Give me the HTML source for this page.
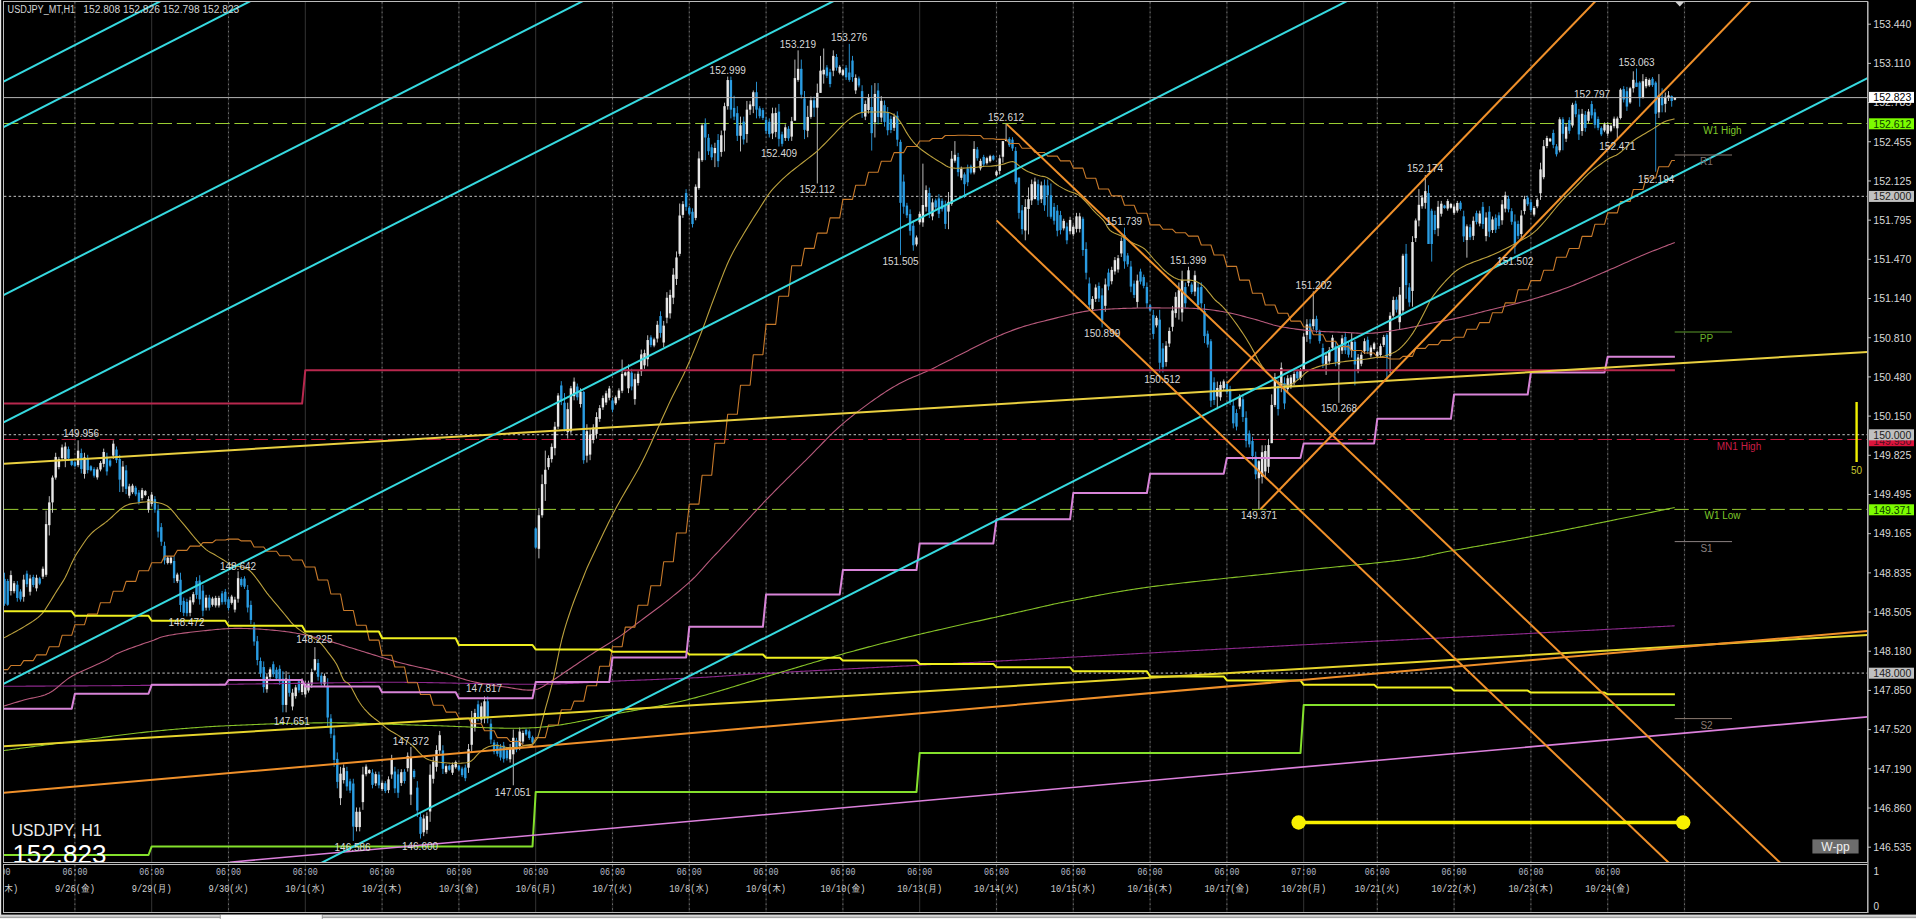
<!DOCTYPE html><html><head><meta charset="utf-8"><title>USDJPY H1</title><style>html,body{margin:0;padding:0;background:#000;overflow:hidden;width:1916px;height:919px}svg{display:block}</style></head><body><svg width="1916" height="919" viewBox="0 0 1916 919" font-family="Liberation Sans, Arial, sans-serif"><rect x="0" y="0" width="1916" height="919" fill="#000"/>
<rect x="0" y="0" width="1.2" height="919" fill="#e6e6e6"/>
<rect x="0" y="914.6" width="1916" height="5" fill="#d6d6d6"/>
<rect x="0" y="916.8" width="1916" height="1" fill="#7a7a7a"/>
<rect x="0" y="917.8" width="1916" height="2" fill="#f4f4f4"/>
<rect x="220.5" y="914.8" width="101.5" height="5" fill="#fdfdfd"/>
<rect x="219.8" y="914.8" width="0.8" height="5" fill="#909090"/>
<rect x="321.8" y="914.8" width="0.8" height="5" fill="#909090"/>
<defs><clipPath id="cc"><rect x="4" y="2" width="1863.5" height="860.5"/></clipPath><clipPath id="cs"><rect x="4" y="865" width="1863.5" height="47"/></clipPath></defs>
<line x1="74.9" y1="2" x2="74.9" y2="862" stroke="#1c1c1c" stroke-width="1.4" />
<line x1="74.9" y1="865" x2="74.9" y2="912" stroke="#1c1c1c" stroke-width="1.4" />
<line x1="74.9" y1="2" x2="74.9" y2="862" stroke="#6c6c6c" stroke-width="1" stroke-dasharray="1.6 3.2"/>
<line x1="74.9" y1="865" x2="74.9" y2="912" stroke="#6c6c6c" stroke-width="1" stroke-dasharray="1.6 3.2"/>
<line x1="151.7" y1="2" x2="151.7" y2="862" stroke="#343434" stroke-width="1" />
<line x1="151.7" y1="865" x2="151.7" y2="912" stroke="#343434" stroke-width="1" />
<line x1="228.5" y1="2" x2="228.5" y2="862" stroke="#1c1c1c" stroke-width="1.4" />
<line x1="228.5" y1="865" x2="228.5" y2="912" stroke="#1c1c1c" stroke-width="1.4" />
<line x1="228.5" y1="2" x2="228.5" y2="862" stroke="#6c6c6c" stroke-width="1" stroke-dasharray="1.6 3.2"/>
<line x1="228.5" y1="865" x2="228.5" y2="912" stroke="#6c6c6c" stroke-width="1" stroke-dasharray="1.6 3.2"/>
<line x1="305.3" y1="2" x2="305.3" y2="862" stroke="#343434" stroke-width="1" />
<line x1="305.3" y1="865" x2="305.3" y2="912" stroke="#343434" stroke-width="1" />
<line x1="382.1" y1="2" x2="382.1" y2="862" stroke="#1c1c1c" stroke-width="1.4" />
<line x1="382.1" y1="865" x2="382.1" y2="912" stroke="#1c1c1c" stroke-width="1.4" />
<line x1="382.1" y1="2" x2="382.1" y2="862" stroke="#6c6c6c" stroke-width="1" stroke-dasharray="1.6 3.2"/>
<line x1="382.1" y1="865" x2="382.1" y2="912" stroke="#6c6c6c" stroke-width="1" stroke-dasharray="1.6 3.2"/>
<line x1="458.9" y1="2" x2="458.9" y2="862" stroke="#1c1c1c" stroke-width="1.4" />
<line x1="458.9" y1="865" x2="458.9" y2="912" stroke="#1c1c1c" stroke-width="1.4" />
<line x1="458.9" y1="2" x2="458.9" y2="862" stroke="#6c6c6c" stroke-width="1" stroke-dasharray="1.6 3.2"/>
<line x1="458.9" y1="865" x2="458.9" y2="912" stroke="#6c6c6c" stroke-width="1" stroke-dasharray="1.6 3.2"/>
<line x1="535.7" y1="2" x2="535.7" y2="862" stroke="#343434" stroke-width="1" />
<line x1="535.7" y1="865" x2="535.7" y2="912" stroke="#343434" stroke-width="1" />
<line x1="612.5" y1="2" x2="612.5" y2="862" stroke="#1c1c1c" stroke-width="1.4" />
<line x1="612.5" y1="865" x2="612.5" y2="912" stroke="#1c1c1c" stroke-width="1.4" />
<line x1="612.5" y1="2" x2="612.5" y2="862" stroke="#6c6c6c" stroke-width="1" stroke-dasharray="1.6 3.2"/>
<line x1="612.5" y1="865" x2="612.5" y2="912" stroke="#6c6c6c" stroke-width="1" stroke-dasharray="1.6 3.2"/>
<line x1="689.3" y1="2" x2="689.3" y2="862" stroke="#1c1c1c" stroke-width="1.4" />
<line x1="689.3" y1="865" x2="689.3" y2="912" stroke="#1c1c1c" stroke-width="1.4" />
<line x1="689.3" y1="2" x2="689.3" y2="862" stroke="#6c6c6c" stroke-width="1" stroke-dasharray="1.6 3.2"/>
<line x1="689.3" y1="865" x2="689.3" y2="912" stroke="#6c6c6c" stroke-width="1" stroke-dasharray="1.6 3.2"/>
<line x1="766.1" y1="2" x2="766.1" y2="862" stroke="#1c1c1c" stroke-width="1.4" />
<line x1="766.1" y1="865" x2="766.1" y2="912" stroke="#1c1c1c" stroke-width="1.4" />
<line x1="766.1" y1="2" x2="766.1" y2="862" stroke="#6c6c6c" stroke-width="1" stroke-dasharray="1.6 3.2"/>
<line x1="766.1" y1="865" x2="766.1" y2="912" stroke="#6c6c6c" stroke-width="1" stroke-dasharray="1.6 3.2"/>
<line x1="842.9" y1="2" x2="842.9" y2="862" stroke="#1c1c1c" stroke-width="1.4" />
<line x1="842.9" y1="865" x2="842.9" y2="912" stroke="#1c1c1c" stroke-width="1.4" />
<line x1="842.9" y1="2" x2="842.9" y2="862" stroke="#6c6c6c" stroke-width="1" stroke-dasharray="1.6 3.2"/>
<line x1="842.9" y1="865" x2="842.9" y2="912" stroke="#6c6c6c" stroke-width="1" stroke-dasharray="1.6 3.2"/>
<line x1="919.7" y1="2" x2="919.7" y2="862" stroke="#343434" stroke-width="1" />
<line x1="919.7" y1="865" x2="919.7" y2="912" stroke="#343434" stroke-width="1" />
<line x1="996.5" y1="2" x2="996.5" y2="862" stroke="#1c1c1c" stroke-width="1.4" />
<line x1="996.5" y1="865" x2="996.5" y2="912" stroke="#1c1c1c" stroke-width="1.4" />
<line x1="996.5" y1="2" x2="996.5" y2="862" stroke="#6c6c6c" stroke-width="1" stroke-dasharray="1.6 3.2"/>
<line x1="996.5" y1="865" x2="996.5" y2="912" stroke="#6c6c6c" stroke-width="1" stroke-dasharray="1.6 3.2"/>
<line x1="1073.3" y1="2" x2="1073.3" y2="862" stroke="#1c1c1c" stroke-width="1.4" />
<line x1="1073.3" y1="865" x2="1073.3" y2="912" stroke="#1c1c1c" stroke-width="1.4" />
<line x1="1073.3" y1="2" x2="1073.3" y2="862" stroke="#6c6c6c" stroke-width="1" stroke-dasharray="1.6 3.2"/>
<line x1="1073.3" y1="865" x2="1073.3" y2="912" stroke="#6c6c6c" stroke-width="1" stroke-dasharray="1.6 3.2"/>
<line x1="1150.1" y1="2" x2="1150.1" y2="862" stroke="#1c1c1c" stroke-width="1.4" />
<line x1="1150.1" y1="865" x2="1150.1" y2="912" stroke="#1c1c1c" stroke-width="1.4" />
<line x1="1150.1" y1="2" x2="1150.1" y2="862" stroke="#6c6c6c" stroke-width="1" stroke-dasharray="1.6 3.2"/>
<line x1="1150.1" y1="865" x2="1150.1" y2="912" stroke="#6c6c6c" stroke-width="1" stroke-dasharray="1.6 3.2"/>
<line x1="1226.9" y1="2" x2="1226.9" y2="862" stroke="#1c1c1c" stroke-width="1.4" />
<line x1="1226.9" y1="865" x2="1226.9" y2="912" stroke="#1c1c1c" stroke-width="1.4" />
<line x1="1226.9" y1="2" x2="1226.9" y2="862" stroke="#6c6c6c" stroke-width="1" stroke-dasharray="1.6 3.2"/>
<line x1="1226.9" y1="865" x2="1226.9" y2="912" stroke="#6c6c6c" stroke-width="1" stroke-dasharray="1.6 3.2"/>
<line x1="1303.7" y1="2" x2="1303.7" y2="862" stroke="#343434" stroke-width="1" />
<line x1="1303.7" y1="865" x2="1303.7" y2="912" stroke="#343434" stroke-width="1" />
<line x1="1377.3" y1="2" x2="1377.3" y2="862" stroke="#1c1c1c" stroke-width="1.4" />
<line x1="1377.3" y1="865" x2="1377.3" y2="912" stroke="#1c1c1c" stroke-width="1.4" />
<line x1="1377.3" y1="2" x2="1377.3" y2="862" stroke="#6c6c6c" stroke-width="1" stroke-dasharray="1.6 3.2"/>
<line x1="1377.3" y1="865" x2="1377.3" y2="912" stroke="#6c6c6c" stroke-width="1" stroke-dasharray="1.6 3.2"/>
<line x1="1454.1" y1="2" x2="1454.1" y2="862" stroke="#1c1c1c" stroke-width="1.4" />
<line x1="1454.1" y1="865" x2="1454.1" y2="912" stroke="#1c1c1c" stroke-width="1.4" />
<line x1="1454.1" y1="2" x2="1454.1" y2="862" stroke="#6c6c6c" stroke-width="1" stroke-dasharray="1.6 3.2"/>
<line x1="1454.1" y1="865" x2="1454.1" y2="912" stroke="#6c6c6c" stroke-width="1" stroke-dasharray="1.6 3.2"/>
<line x1="1530.9" y1="2" x2="1530.9" y2="862" stroke="#1c1c1c" stroke-width="1.4" />
<line x1="1530.9" y1="865" x2="1530.9" y2="912" stroke="#1c1c1c" stroke-width="1.4" />
<line x1="1530.9" y1="2" x2="1530.9" y2="862" stroke="#6c6c6c" stroke-width="1" stroke-dasharray="1.6 3.2"/>
<line x1="1530.9" y1="865" x2="1530.9" y2="912" stroke="#6c6c6c" stroke-width="1" stroke-dasharray="1.6 3.2"/>
<line x1="1607.7" y1="2" x2="1607.7" y2="862" stroke="#1c1c1c" stroke-width="1.4" />
<line x1="1607.7" y1="865" x2="1607.7" y2="912" stroke="#1c1c1c" stroke-width="1.4" />
<line x1="1607.7" y1="2" x2="1607.7" y2="862" stroke="#6c6c6c" stroke-width="1" stroke-dasharray="1.6 3.2"/>
<line x1="1607.7" y1="865" x2="1607.7" y2="912" stroke="#6c6c6c" stroke-width="1" stroke-dasharray="1.6 3.2"/>
<line x1="1684.5" y1="2" x2="1684.5" y2="862" stroke="#1c1c1c" stroke-width="1.4" />
<line x1="1684.5" y1="865" x2="1684.5" y2="912" stroke="#1c1c1c" stroke-width="1.4" />
<line x1="1684.5" y1="2" x2="1684.5" y2="862" stroke="#6c6c6c" stroke-width="1" stroke-dasharray="1.6 3.2"/>
<line x1="1684.5" y1="865" x2="1684.5" y2="912" stroke="#6c6c6c" stroke-width="1" stroke-dasharray="1.6 3.2"/>
<line x1="4" y1="196.33" x2="1867" y2="196.33" stroke="#c4c4c4" stroke-width="1" stroke-dasharray="2.4 2.4"/>
<line x1="4" y1="434.71" x2="1867" y2="434.71" stroke="#c4c4c4" stroke-width="1" stroke-dasharray="2.4 2.4"/>
<line x1="4" y1="673.09" x2="1867" y2="673.09" stroke="#c4c4c4" stroke-width="1" stroke-dasharray="2.4 2.4"/>
<line x1="4" y1="123.5" x2="1867" y2="123.5" stroke="#9acd32" stroke-width="1" stroke-dasharray="14.4 4.8"/>
<line x1="4" y1="509.4" x2="1867" y2="509.4" stroke="#9acd32" stroke-width="1" stroke-dasharray="14.4 4.8"/>
<line x1="4" y1="439.5" x2="1867" y2="439.5" stroke="#c0183c" stroke-width="1" stroke-dasharray="14.4 4.8"/>
<g clip-path="url(#cc)"><line x1="4.5" y1="572.71" x2="4.5" y2="605.8" stroke="#2a9ce2" stroke-width="0.9"/><rect x="3.3" y="578.91" width="2.4" height="24.82" fill="#2a9ce2"/><line x1="7.7" y1="578.91" x2="7.7" y2="605.8" stroke="#2a9ce2" stroke-width="0.9"/><rect x="6.5" y="580.98" width="2.4" height="23.78" fill="#2a9ce2"/><line x1="10.9" y1="570.64" x2="10.9" y2="595.46" stroke="#cfcfcf" stroke-width="0.9"/><rect x="9.7" y="575.11" width="2.4" height="15.88" fill="#e8e8e8"/><line x1="14.1" y1="580.98" x2="14.1" y2="593.39" stroke="#cfcfcf" stroke-width="0.9"/><rect x="12.9" y="583.22" width="2.4" height="7.94" fill="#e8e8e8"/><line x1="17.3" y1="580.98" x2="17.3" y2="601.66" stroke="#2a9ce2" stroke-width="0.9"/><rect x="16.1" y="584.71" width="2.4" height="13.24" fill="#2a9ce2"/><line x1="20.5" y1="589.26" x2="20.5" y2="601.66" stroke="#2a9ce2" stroke-width="0.9"/><rect x="19.3" y="591.49" width="2.4" height="7.94" fill="#2a9ce2"/><line x1="23.7" y1="574.78" x2="23.7" y2="601.66" stroke="#cfcfcf" stroke-width="0.9"/><rect x="22.5" y="579.62" width="2.4" height="17.21" fill="#e8e8e8"/><line x1="26.9" y1="570.64" x2="26.9" y2="587.19" stroke="#2a9ce2" stroke-width="0.9"/><rect x="25.7" y="573.62" width="2.4" height="10.59" fill="#2a9ce2"/><line x1="30.1" y1="574.78" x2="30.1" y2="595.46" stroke="#cfcfcf" stroke-width="0.9"/><rect x="28.9" y="578.5" width="2.4" height="13.24" fill="#e8e8e8"/><line x1="33.3" y1="574.78" x2="33.3" y2="587.19" stroke="#2a9ce2" stroke-width="0.9"/><rect x="32.1" y="577.01" width="2.4" height="7.94" fill="#2a9ce2"/><line x1="36.5" y1="574.78" x2="36.5" y2="591.32" stroke="#cfcfcf" stroke-width="0.9"/><rect x="35.3" y="577.76" width="2.4" height="10.59" fill="#e8e8e8"/><line x1="39.7" y1="576.85" x2="39.7" y2="585.12" stroke="#2a9ce2" stroke-width="0.9"/><rect x="38.5" y="578.34" width="2.4" height="5.29" fill="#2a9ce2"/><line x1="42.9" y1="566.5" x2="42.9" y2="578.91" stroke="#cfcfcf" stroke-width="0.9"/><rect x="41.7" y="568.74" width="2.4" height="7.94" fill="#e8e8e8"/><line x1="46.1" y1="510.66" x2="46.1" y2="576.85" stroke="#cfcfcf" stroke-width="0.9"/><rect x="44.9" y="524.11" width="2.4" height="50.67" fill="#e8e8e8"/><line x1="49.3" y1="496.18" x2="49.3" y2="535.48" stroke="#cfcfcf" stroke-width="0.9"/><rect x="48.1" y="502.39" width="2.4" height="22.75" fill="#e8e8e8"/><line x1="52.5" y1="475.5" x2="52.5" y2="512.73" stroke="#cfcfcf" stroke-width="0.9"/><rect x="51.3" y="477.57" width="2.4" height="24.82" fill="#e8e8e8"/><line x1="55.7" y1="452.75" x2="55.7" y2="479.64" stroke="#cfcfcf" stroke-width="0.9"/><rect x="54.5" y="456.89" width="2.4" height="20.68" fill="#e8e8e8"/><line x1="58.9" y1="456.89" x2="58.9" y2="469.3" stroke="#cfcfcf" stroke-width="0.9"/><rect x="57.7" y="459.12" width="2.4" height="7.94" fill="#e8e8e8"/><line x1="62.1" y1="444.48" x2="62.1" y2="461.02" stroke="#cfcfcf" stroke-width="0.9"/><rect x="60.9" y="447.46" width="2.4" height="10.59" fill="#e8e8e8"/><line x1="65.3" y1="442.41" x2="65.3" y2="467.23" stroke="#cfcfcf" stroke-width="0.9"/><rect x="64.1" y="446.55" width="2.4" height="12.41" fill="#e8e8e8"/><line x1="68.5" y1="446.55" x2="68.5" y2="461.02" stroke="#2a9ce2" stroke-width="0.9"/><rect x="67.3" y="449.15" width="2.4" height="9.27" fill="#2a9ce2"/><line x1="71.7" y1="458.96" x2="71.7" y2="466.19" stroke="#2a9ce2" stroke-width="0.9"/><rect x="70.5" y="460.26" width="2.4" height="4.63" fill="#2a9ce2"/><line x1="74.9" y1="461.02" x2="74.9" y2="467.23" stroke="#2a9ce2" stroke-width="0.9"/><rect x="73.7" y="462.14" width="2.4" height="3.97" fill="#2a9ce2"/><line x1="78.1" y1="440.34" x2="78.1" y2="467.23" stroke="#cfcfcf" stroke-width="0.9"/><rect x="76.9" y="450.68" width="2.4" height="14.48" fill="#e8e8e8"/><line x1="81.3" y1="448.61" x2="81.3" y2="473.43" stroke="#2a9ce2" stroke-width="0.9"/><rect x="80.1" y="453.08" width="2.4" height="15.88" fill="#2a9ce2"/><line x1="84.5" y1="452.75" x2="84.5" y2="478.6" stroke="#cfcfcf" stroke-width="0.9"/><rect x="83.3" y="457.4" width="2.4" height="16.55" fill="#e8e8e8"/><line x1="87.7" y1="454.82" x2="87.7" y2="473.43" stroke="#2a9ce2" stroke-width="0.9"/><rect x="86.5" y="458.17" width="2.4" height="11.91" fill="#2a9ce2"/><line x1="90.9" y1="465.16" x2="90.9" y2="471.37" stroke="#2a9ce2" stroke-width="0.9"/><rect x="89.7" y="466.28" width="2.4" height="3.97" fill="#2a9ce2"/><line x1="94.1" y1="467.23" x2="94.1" y2="477.57" stroke="#2a9ce2" stroke-width="0.9"/><rect x="92.9" y="469.09" width="2.4" height="6.62" fill="#2a9ce2"/><line x1="97.3" y1="467.23" x2="97.3" y2="479.64" stroke="#cfcfcf" stroke-width="0.9"/><rect x="96.1" y="469.46" width="2.4" height="7.94" fill="#e8e8e8"/><line x1="100.5" y1="461.02" x2="100.5" y2="471.37" stroke="#cfcfcf" stroke-width="0.9"/><rect x="99.3" y="462.89" width="2.4" height="6.62" fill="#e8e8e8"/><line x1="103.7" y1="448.61" x2="103.7" y2="467.23" stroke="#cfcfcf" stroke-width="0.9"/><rect x="102.5" y="451.96" width="2.4" height="11.91" fill="#e8e8e8"/><line x1="106.9" y1="452.75" x2="106.9" y2="475.5" stroke="#2a9ce2" stroke-width="0.9"/><rect x="105.7" y="456.85" width="2.4" height="14.56" fill="#2a9ce2"/><line x1="110.1" y1="458.96" x2="110.1" y2="467.23" stroke="#2a9ce2" stroke-width="0.9"/><rect x="108.9" y="460.44" width="2.4" height="5.29" fill="#2a9ce2"/><line x1="113.3" y1="440.34" x2="113.3" y2="458.96" stroke="#cfcfcf" stroke-width="0.9"/><rect x="112.1" y="443.69" width="2.4" height="11.91" fill="#e8e8e8"/><line x1="116.5" y1="446.55" x2="116.5" y2="463.09" stroke="#2a9ce2" stroke-width="0.9"/><rect x="115.3" y="449.52" width="2.4" height="10.59" fill="#2a9ce2"/><line x1="119.7" y1="454.82" x2="119.7" y2="492.05" stroke="#2a9ce2" stroke-width="0.9"/><rect x="118.5" y="458.96" width="2.4" height="20.68" fill="#2a9ce2"/><line x1="122.9" y1="461.02" x2="122.9" y2="492.05" stroke="#cfcfcf" stroke-width="0.9"/><rect x="121.7" y="466.61" width="2.4" height="19.86" fill="#e8e8e8"/><line x1="126.1" y1="465.16" x2="126.1" y2="494.12" stroke="#2a9ce2" stroke-width="0.9"/><rect x="124.9" y="470.37" width="2.4" height="18.53" fill="#2a9ce2"/><line x1="129.3" y1="483.77" x2="129.3" y2="498.25" stroke="#cfcfcf" stroke-width="0.9"/><rect x="128.1" y="486.38" width="2.4" height="9.27" fill="#e8e8e8"/><line x1="132.5" y1="483.77" x2="132.5" y2="494.12" stroke="#cfcfcf" stroke-width="0.9"/><rect x="131.3" y="485.64" width="2.4" height="6.62" fill="#e8e8e8"/><line x1="135.7" y1="485.84" x2="135.7" y2="496.18" stroke="#2a9ce2" stroke-width="0.9"/><rect x="134.5" y="487.7" width="2.4" height="6.62" fill="#2a9ce2"/><line x1="138.9" y1="489.98" x2="138.9" y2="504.46" stroke="#2a9ce2" stroke-width="0.9"/><rect x="137.7" y="492.59" width="2.4" height="9.27" fill="#2a9ce2"/><line x1="142.1" y1="487.91" x2="142.1" y2="500.32" stroke="#cfcfcf" stroke-width="0.9"/><rect x="140.9" y="490.14" width="2.4" height="7.94" fill="#e8e8e8"/><line x1="145.3" y1="489.98" x2="145.3" y2="496.18" stroke="#cfcfcf" stroke-width="0.9"/><rect x="144.1" y="491.1" width="2.4" height="3.97" fill="#e8e8e8"/><line x1="148.5" y1="496.18" x2="148.5" y2="512.73" stroke="#cfcfcf" stroke-width="0.9"/><rect x="147.3" y="499.16" width="2.4" height="10.59" fill="#e8e8e8"/><line x1="151.7" y1="492.05" x2="151.7" y2="506.53" stroke="#cfcfcf" stroke-width="0.9"/><rect x="150.5" y="494.65" width="2.4" height="9.27" fill="#e8e8e8"/><line x1="154.9" y1="496.18" x2="154.9" y2="512.73" stroke="#2a9ce2" stroke-width="0.9"/><rect x="153.7" y="499.16" width="2.4" height="10.59" fill="#2a9ce2"/><line x1="158.1" y1="504.46" x2="158.1" y2="537.55" stroke="#2a9ce2" stroke-width="0.9"/><rect x="156.9" y="510.41" width="2.4" height="21.18" fill="#2a9ce2"/><line x1="161.3" y1="523.07" x2="161.3" y2="545.82" stroke="#2a9ce2" stroke-width="0.9"/><rect x="160.1" y="527.17" width="2.4" height="14.56" fill="#2a9ce2"/><line x1="164.5" y1="541.69" x2="164.5" y2="564.44" stroke="#2a9ce2" stroke-width="0.9"/><rect x="163.3" y="545.78" width="2.4" height="14.56" fill="#2a9ce2"/><line x1="167.7" y1="556.16" x2="167.7" y2="564.44" stroke="#cfcfcf" stroke-width="0.9"/><rect x="166.5" y="557.65" width="2.4" height="5.29" fill="#e8e8e8"/><line x1="170.9" y1="556.16" x2="170.9" y2="564.44" stroke="#cfcfcf" stroke-width="0.9"/><rect x="169.7" y="557.65" width="2.4" height="5.29" fill="#e8e8e8"/><line x1="174.1" y1="556.16" x2="174.1" y2="583.05" stroke="#2a9ce2" stroke-width="0.9"/><rect x="172.9" y="561" width="2.4" height="17.21" fill="#2a9ce2"/><line x1="177.3" y1="572.71" x2="177.3" y2="583.05" stroke="#cfcfcf" stroke-width="0.9"/><rect x="176.1" y="574.57" width="2.4" height="6.62" fill="#e8e8e8"/><line x1="180.5" y1="572.71" x2="180.5" y2="612.01" stroke="#2a9ce2" stroke-width="0.9"/><rect x="179.3" y="579.78" width="2.4" height="25.15" fill="#2a9ce2"/><line x1="183.7" y1="597.53" x2="183.7" y2="616.14" stroke="#2a9ce2" stroke-width="0.9"/><rect x="182.5" y="600.88" width="2.4" height="11.91" fill="#2a9ce2"/><line x1="186.9" y1="598.74" x2="186.9" y2="616.37" stroke="#2a9ce2" stroke-width="0.9"/><rect x="185.7" y="601.92" width="2.4" height="11.28" fill="#2a9ce2"/><line x1="190.1" y1="596.78" x2="190.1" y2="616.37" stroke="#cfcfcf" stroke-width="0.9"/><rect x="188.9" y="600.31" width="2.4" height="12.53" fill="#e8e8e8"/><line x1="193.3" y1="591.89" x2="193.3" y2="604.62" stroke="#cfcfcf" stroke-width="0.9"/><rect x="192.1" y="594.18" width="2.4" height="8.15" fill="#e8e8e8"/><line x1="196.5" y1="577.2" x2="196.5" y2="598.74" stroke="#2a9ce2" stroke-width="0.9"/><rect x="195.3" y="581.08" width="2.4" height="13.79" fill="#2a9ce2"/><line x1="199.7" y1="575.25" x2="199.7" y2="604.62" stroke="#2a9ce2" stroke-width="0.9"/><rect x="198.5" y="580.53" width="2.4" height="18.8" fill="#2a9ce2"/><line x1="202.9" y1="585.04" x2="202.9" y2="616.37" stroke="#2a9ce2" stroke-width="0.9"/><rect x="201.7" y="590.68" width="2.4" height="20.05" fill="#2a9ce2"/><line x1="206.1" y1="594.83" x2="206.1" y2="610.49" stroke="#cfcfcf" stroke-width="0.9"/><rect x="204.9" y="597.65" width="2.4" height="10.03" fill="#e8e8e8"/><line x1="209.3" y1="594.83" x2="209.3" y2="610.49" stroke="#2a9ce2" stroke-width="0.9"/><rect x="208.1" y="597.65" width="2.4" height="10.03" fill="#2a9ce2"/><line x1="212.5" y1="596.78" x2="212.5" y2="606.58" stroke="#cfcfcf" stroke-width="0.9"/><rect x="211.3" y="598.55" width="2.4" height="6.27" fill="#e8e8e8"/><line x1="215.7" y1="595.81" x2="215.7" y2="607.55" stroke="#cfcfcf" stroke-width="0.9"/><rect x="214.5" y="597.92" width="2.4" height="7.52" fill="#e8e8e8"/><line x1="218.9" y1="595.81" x2="218.9" y2="607.55" stroke="#cfcfcf" stroke-width="0.9"/><rect x="217.7" y="597.92" width="2.4" height="7.52" fill="#e8e8e8"/><line x1="222.1" y1="590.91" x2="222.1" y2="604.62" stroke="#2a9ce2" stroke-width="0.9"/><rect x="220.9" y="593.38" width="2.4" height="8.77" fill="#2a9ce2"/><line x1="225.3" y1="588.95" x2="225.3" y2="604.62" stroke="#2a9ce2" stroke-width="0.9"/><rect x="224.1" y="591.77" width="2.4" height="10.03" fill="#2a9ce2"/><line x1="228.5" y1="596.78" x2="228.5" y2="610.49" stroke="#2a9ce2" stroke-width="0.9"/><rect x="227.3" y="599.25" width="2.4" height="8.77" fill="#2a9ce2"/><line x1="231.7" y1="594.83" x2="231.7" y2="604.62" stroke="#cfcfcf" stroke-width="0.9"/><rect x="230.5" y="596.59" width="2.4" height="6.27" fill="#e8e8e8"/><line x1="234.9" y1="596.78" x2="234.9" y2="612.45" stroke="#cfcfcf" stroke-width="0.9"/><rect x="233.7" y="599.6" width="2.4" height="10.03" fill="#e8e8e8"/><line x1="238.1" y1="571.33" x2="238.1" y2="602.66" stroke="#cfcfcf" stroke-width="0.9"/><rect x="236.9" y="578.18" width="2.4" height="20.56" fill="#e8e8e8"/><line x1="241.3" y1="577.2" x2="241.3" y2="586.99" stroke="#2a9ce2" stroke-width="0.9"/><rect x="240.1" y="578.97" width="2.4" height="6.27" fill="#2a9ce2"/><line x1="244.5" y1="576.22" x2="244.5" y2="588.95" stroke="#2a9ce2" stroke-width="0.9"/><rect x="243.3" y="578.52" width="2.4" height="8.15" fill="#2a9ce2"/><line x1="247.7" y1="585.04" x2="247.7" y2="612.45" stroke="#2a9ce2" stroke-width="0.9"/><rect x="246.5" y="589.97" width="2.4" height="17.54" fill="#2a9ce2"/><line x1="250.9" y1="600.7" x2="250.9" y2="624.2" stroke="#2a9ce2" stroke-width="0.9"/><rect x="249.7" y="604.93" width="2.4" height="15.04" fill="#2a9ce2"/><line x1="254.1" y1="622.24" x2="254.1" y2="645.74" stroke="#2a9ce2" stroke-width="0.9"/><rect x="252.9" y="626.47" width="2.4" height="15.04" fill="#2a9ce2"/><line x1="257.3" y1="635.95" x2="257.3" y2="665.32" stroke="#2a9ce2" stroke-width="0.9"/><rect x="256.1" y="641.23" width="2.4" height="18.8" fill="#2a9ce2"/><line x1="260.5" y1="657.49" x2="260.5" y2="677.07" stroke="#2a9ce2" stroke-width="0.9"/><rect x="259.3" y="661.01" width="2.4" height="12.53" fill="#2a9ce2"/><line x1="263.7" y1="661.4" x2="263.7" y2="692.73" stroke="#2a9ce2" stroke-width="0.9"/><rect x="262.5" y="667.04" width="2.4" height="20.05" fill="#2a9ce2"/><line x1="266.9" y1="673.15" x2="266.9" y2="692.73" stroke="#cfcfcf" stroke-width="0.9"/><rect x="265.7" y="676.68" width="2.4" height="12.53" fill="#e8e8e8"/><line x1="270.1" y1="667.28" x2="270.1" y2="679.02" stroke="#cfcfcf" stroke-width="0.9"/><rect x="268.9" y="669.39" width="2.4" height="7.52" fill="#e8e8e8"/><line x1="273.3" y1="661.4" x2="273.3" y2="677.07" stroke="#2a9ce2" stroke-width="0.9"/><rect x="272.1" y="664.22" width="2.4" height="10.03" fill="#2a9ce2"/><line x1="276.5" y1="667.28" x2="276.5" y2="680.98" stroke="#2a9ce2" stroke-width="0.9"/><rect x="275.3" y="669.74" width="2.4" height="8.77" fill="#2a9ce2"/><line x1="279.7" y1="665.32" x2="279.7" y2="684.9" stroke="#2a9ce2" stroke-width="0.9"/><rect x="278.5" y="668.84" width="2.4" height="12.53" fill="#2a9ce2"/><line x1="282.9" y1="671.19" x2="282.9" y2="712.31" stroke="#2a9ce2" stroke-width="0.9"/><rect x="281.7" y="678.59" width="2.4" height="26.32" fill="#2a9ce2"/><line x1="286.1" y1="671.19" x2="286.1" y2="712.31" stroke="#cfcfcf" stroke-width="0.9"/><rect x="284.9" y="678.59" width="2.4" height="26.32" fill="#e8e8e8"/><line x1="289.3" y1="675.11" x2="289.3" y2="696.65" stroke="#2a9ce2" stroke-width="0.9"/><rect x="288.1" y="678.99" width="2.4" height="13.79" fill="#2a9ce2"/><line x1="292.5" y1="688.82" x2="292.5" y2="710.35" stroke="#cfcfcf" stroke-width="0.9"/><rect x="291.3" y="692.69" width="2.4" height="13.79" fill="#e8e8e8"/><line x1="295.7" y1="684.9" x2="295.7" y2="698.61" stroke="#cfcfcf" stroke-width="0.9"/><rect x="294.5" y="687.37" width="2.4" height="8.77" fill="#e8e8e8"/><line x1="298.9" y1="679.02" x2="298.9" y2="692.73" stroke="#2a9ce2" stroke-width="0.9"/><rect x="297.7" y="681.49" width="2.4" height="8.77" fill="#2a9ce2"/><line x1="302.1" y1="678.28" x2="302.1" y2="695.02" stroke="#cfcfcf" stroke-width="0.9"/><rect x="300.9" y="681.29" width="2.4" height="10.72" fill="#e8e8e8"/><line x1="305.3" y1="680.67" x2="305.3" y2="697.42" stroke="#cfcfcf" stroke-width="0.9"/><rect x="304.1" y="683.68" width="2.4" height="10.72" fill="#e8e8e8"/><line x1="308.5" y1="680.67" x2="308.5" y2="692.63" stroke="#cfcfcf" stroke-width="0.9"/><rect x="307.3" y="682.82" width="2.4" height="7.66" fill="#e8e8e8"/><line x1="311.7" y1="668.71" x2="311.7" y2="687.85" stroke="#cfcfcf" stroke-width="0.9"/><rect x="310.5" y="672.15" width="2.4" height="12.25" fill="#e8e8e8"/><line x1="314.9" y1="647.18" x2="314.9" y2="671.1" stroke="#cfcfcf" stroke-width="0.9"/><rect x="313.7" y="659.14" width="2.4" height="10.77" fill="#e8e8e8"/><line x1="318.1" y1="659.14" x2="318.1" y2="680.67" stroke="#2a9ce2" stroke-width="0.9"/><rect x="316.9" y="663.01" width="2.4" height="13.78" fill="#2a9ce2"/><line x1="321.3" y1="673.49" x2="321.3" y2="685.45" stroke="#2a9ce2" stroke-width="0.9"/><rect x="320.1" y="675.65" width="2.4" height="7.66" fill="#2a9ce2"/><line x1="324.5" y1="673.49" x2="324.5" y2="686.65" stroke="#cfcfcf" stroke-width="0.9"/><rect x="323.3" y="675.86" width="2.4" height="8.42" fill="#e8e8e8"/><line x1="327.7" y1="678.28" x2="327.7" y2="726.12" stroke="#2a9ce2" stroke-width="0.9"/><rect x="326.5" y="686.89" width="2.4" height="30.62" fill="#2a9ce2"/><line x1="330.9" y1="714.16" x2="330.9" y2="738.09" stroke="#2a9ce2" stroke-width="0.9"/><rect x="329.7" y="718.47" width="2.4" height="15.31" fill="#2a9ce2"/><line x1="334.1" y1="728.52" x2="334.1" y2="766.79" stroke="#2a9ce2" stroke-width="0.9"/><rect x="332.9" y="735.41" width="2.4" height="24.5" fill="#2a9ce2"/><line x1="337.3" y1="752.44" x2="337.3" y2="788.33" stroke="#2a9ce2" stroke-width="0.9"/><rect x="336.1" y="758.9" width="2.4" height="22.97" fill="#2a9ce2"/><line x1="340.5" y1="766.79" x2="340.5" y2="805.07" stroke="#cfcfcf" stroke-width="0.9"/><rect x="339.3" y="773.68" width="2.4" height="24.5" fill="#e8e8e8"/><line x1="343.7" y1="764.4" x2="343.7" y2="783.54" stroke="#cfcfcf" stroke-width="0.9"/><rect x="342.5" y="767.85" width="2.4" height="12.25" fill="#e8e8e8"/><line x1="346.9" y1="766.79" x2="346.9" y2="790.72" stroke="#2a9ce2" stroke-width="0.9"/><rect x="345.7" y="771.1" width="2.4" height="15.31" fill="#2a9ce2"/><line x1="350.1" y1="778.76" x2="350.1" y2="793.11" stroke="#2a9ce2" stroke-width="0.9"/><rect x="348.9" y="781.34" width="2.4" height="9.19" fill="#2a9ce2"/><line x1="353.3" y1="778.76" x2="353.3" y2="840.96" stroke="#2a9ce2" stroke-width="0.9"/><rect x="352.1" y="783.54" width="2.4" height="43.06" fill="#2a9ce2"/><line x1="356.5" y1="807.46" x2="356.5" y2="831.39" stroke="#cfcfcf" stroke-width="0.9"/><rect x="355.3" y="811.77" width="2.4" height="15.31" fill="#e8e8e8"/><line x1="359.7" y1="807.46" x2="359.7" y2="831.39" stroke="#cfcfcf" stroke-width="0.9"/><rect x="358.5" y="811.77" width="2.4" height="15.31" fill="#e8e8e8"/><line x1="362.9" y1="766.79" x2="362.9" y2="809.86" stroke="#cfcfcf" stroke-width="0.9"/><rect x="361.7" y="774.55" width="2.4" height="27.56" fill="#e8e8e8"/><line x1="366.1" y1="764.4" x2="366.1" y2="776.36" stroke="#cfcfcf" stroke-width="0.9"/><rect x="364.9" y="766.56" width="2.4" height="7.66" fill="#e8e8e8"/><line x1="369.3" y1="769.19" x2="369.3" y2="773.97" stroke="#cfcfcf" stroke-width="0.9"/><rect x="368.1" y="770.05" width="2.4" height="3.06" fill="#e8e8e8"/><line x1="372.5" y1="769.19" x2="372.5" y2="788.33" stroke="#2a9ce2" stroke-width="0.9"/><rect x="371.3" y="772.63" width="2.4" height="12.25" fill="#2a9ce2"/><line x1="375.7" y1="771.58" x2="375.7" y2="785.93" stroke="#cfcfcf" stroke-width="0.9"/><rect x="374.5" y="774.16" width="2.4" height="9.19" fill="#e8e8e8"/><line x1="378.9" y1="771.58" x2="378.9" y2="788.33" stroke="#2a9ce2" stroke-width="0.9"/><rect x="377.7" y="774.59" width="2.4" height="10.72" fill="#2a9ce2"/><line x1="382.1" y1="781.15" x2="382.1" y2="790.72" stroke="#cfcfcf" stroke-width="0.9"/><rect x="380.9" y="782.87" width="2.4" height="6.12" fill="#e8e8e8"/><line x1="385.3" y1="781.15" x2="385.3" y2="793.11" stroke="#2a9ce2" stroke-width="0.9"/><rect x="384.1" y="783.3" width="2.4" height="7.66" fill="#2a9ce2"/><line x1="388.5" y1="776.36" x2="388.5" y2="793.11" stroke="#cfcfcf" stroke-width="0.9"/><rect x="387.3" y="779.38" width="2.4" height="10.72" fill="#e8e8e8"/><line x1="391.7" y1="754.83" x2="391.7" y2="778.76" stroke="#cfcfcf" stroke-width="0.9"/><rect x="390.5" y="759.14" width="2.4" height="15.31" fill="#e8e8e8"/><line x1="394.9" y1="766.79" x2="394.9" y2="793.11" stroke="#2a9ce2" stroke-width="0.9"/><rect x="393.7" y="771.53" width="2.4" height="16.84" fill="#2a9ce2"/><line x1="398.1" y1="769.19" x2="398.1" y2="797.89" stroke="#2a9ce2" stroke-width="0.9"/><rect x="396.9" y="774.35" width="2.4" height="18.37" fill="#2a9ce2"/><line x1="401.3" y1="769.19" x2="401.3" y2="785.93" stroke="#cfcfcf" stroke-width="0.9"/><rect x="400.1" y="772.2" width="2.4" height="10.72" fill="#e8e8e8"/><line x1="404.5" y1="769.19" x2="404.5" y2="783.54" stroke="#2a9ce2" stroke-width="0.9"/><rect x="403.3" y="771.77" width="2.4" height="9.19" fill="#2a9ce2"/><line x1="407.7" y1="752.44" x2="407.7" y2="771.58" stroke="#cfcfcf" stroke-width="0.9"/><rect x="406.5" y="755.89" width="2.4" height="12.25" fill="#e8e8e8"/><line x1="410.9" y1="746.94" x2="410.9" y2="805.07" stroke="#cfcfcf" stroke-width="0.9"/><rect x="409.7" y="757.4" width="2.4" height="37.21" fill="#e8e8e8"/><line x1="414.1" y1="769.19" x2="414.1" y2="778.76" stroke="#2a9ce2" stroke-width="0.9"/><rect x="412.9" y="770.91" width="2.4" height="6.12" fill="#2a9ce2"/><line x1="417.3" y1="781.15" x2="417.3" y2="817.03" stroke="#2a9ce2" stroke-width="0.9"/><rect x="416.1" y="787.61" width="2.4" height="22.97" fill="#2a9ce2"/><line x1="420.5" y1="812.25" x2="420.5" y2="838.56" stroke="#2a9ce2" stroke-width="0.9"/><rect x="419.3" y="816.99" width="2.4" height="16.84" fill="#2a9ce2"/><line x1="423.7" y1="814.64" x2="423.7" y2="836.17" stroke="#cfcfcf" stroke-width="0.9"/><rect x="422.5" y="818.52" width="2.4" height="13.78" fill="#e8e8e8"/><line x1="426.9" y1="812.25" x2="426.9" y2="833.78" stroke="#cfcfcf" stroke-width="0.9"/><rect x="425.7" y="816.12" width="2.4" height="13.78" fill="#e8e8e8"/><line x1="430.1" y1="764.4" x2="430.1" y2="821.82" stroke="#cfcfcf" stroke-width="0.9"/><rect x="428.9" y="774.74" width="2.4" height="36.75" fill="#e8e8e8"/><line x1="433.3" y1="757.22" x2="433.3" y2="783.54" stroke="#cfcfcf" stroke-width="0.9"/><rect x="432.1" y="761.96" width="2.4" height="16.84" fill="#e8e8e8"/><line x1="436.5" y1="745.26" x2="436.5" y2="771.58" stroke="#cfcfcf" stroke-width="0.9"/><rect x="435.3" y="750" width="2.4" height="16.84" fill="#e8e8e8"/><line x1="439.7" y1="730.91" x2="439.7" y2="754.83" stroke="#cfcfcf" stroke-width="0.9"/><rect x="438.5" y="735.22" width="2.4" height="15.31" fill="#e8e8e8"/><line x1="442.9" y1="745.26" x2="442.9" y2="773.97" stroke="#2a9ce2" stroke-width="0.9"/><rect x="441.7" y="750.43" width="2.4" height="18.37" fill="#2a9ce2"/><line x1="446.1" y1="764.4" x2="446.1" y2="773.97" stroke="#cfcfcf" stroke-width="0.9"/><rect x="444.9" y="766.12" width="2.4" height="6.12" fill="#e8e8e8"/><line x1="449.3" y1="764.63" x2="449.3" y2="770.83" stroke="#2a9ce2" stroke-width="0.9"/><rect x="448.1" y="765.74" width="2.4" height="3.97" fill="#2a9ce2"/><line x1="452.5" y1="762.56" x2="452.5" y2="774.96" stroke="#cfcfcf" stroke-width="0.9"/><rect x="451.3" y="764.79" width="2.4" height="7.93" fill="#e8e8e8"/><line x1="455.7" y1="760.5" x2="455.7" y2="768.76" stroke="#cfcfcf" stroke-width="0.9"/><rect x="454.5" y="761.98" width="2.4" height="5.29" fill="#e8e8e8"/><line x1="458.9" y1="764.63" x2="458.9" y2="770.83" stroke="#2a9ce2" stroke-width="0.9"/><rect x="457.7" y="765.74" width="2.4" height="3.97" fill="#2a9ce2"/><line x1="462.1" y1="766.69" x2="462.1" y2="777.02" stroke="#2a9ce2" stroke-width="0.9"/><rect x="460.9" y="768.55" width="2.4" height="6.61" fill="#2a9ce2"/><line x1="465.3" y1="764.63" x2="465.3" y2="781.16" stroke="#2a9ce2" stroke-width="0.9"/><rect x="464.1" y="767.6" width="2.4" height="10.58" fill="#2a9ce2"/><line x1="468.5" y1="743.97" x2="468.5" y2="772.89" stroke="#cfcfcf" stroke-width="0.9"/><rect x="467.3" y="749.17" width="2.4" height="18.51" fill="#e8e8e8"/><line x1="471.7" y1="710.91" x2="471.7" y2="752.23" stroke="#cfcfcf" stroke-width="0.9"/><rect x="470.5" y="718.35" width="2.4" height="26.45" fill="#e8e8e8"/><line x1="474.9" y1="708.84" x2="474.9" y2="731.57" stroke="#cfcfcf" stroke-width="0.9"/><rect x="473.7" y="712.93" width="2.4" height="14.55" fill="#e8e8e8"/><line x1="478.1" y1="700.58" x2="478.1" y2="721.24" stroke="#2a9ce2" stroke-width="0.9"/><rect x="476.9" y="704.3" width="2.4" height="13.22" fill="#2a9ce2"/><line x1="481.3" y1="702.64" x2="481.3" y2="723.31" stroke="#cfcfcf" stroke-width="0.9"/><rect x="480.1" y="706.36" width="2.4" height="13.22" fill="#e8e8e8"/><line x1="484.5" y1="696.45" x2="484.5" y2="723.31" stroke="#cfcfcf" stroke-width="0.9"/><rect x="483.3" y="701.28" width="2.4" height="17.19" fill="#e8e8e8"/><line x1="487.7" y1="696.45" x2="487.7" y2="723.31" stroke="#2a9ce2" stroke-width="0.9"/><rect x="486.5" y="701.28" width="2.4" height="17.19" fill="#2a9ce2"/><line x1="490.9" y1="719.17" x2="490.9" y2="743.97" stroke="#2a9ce2" stroke-width="0.9"/><rect x="489.7" y="723.64" width="2.4" height="15.87" fill="#2a9ce2"/><line x1="494.1" y1="739.83" x2="494.1" y2="754.3" stroke="#2a9ce2" stroke-width="0.9"/><rect x="492.9" y="742.44" width="2.4" height="9.26" fill="#2a9ce2"/><line x1="497.3" y1="741.9" x2="497.3" y2="756.36" stroke="#2a9ce2" stroke-width="0.9"/><rect x="496.1" y="744.5" width="2.4" height="9.26" fill="#2a9ce2"/><line x1="500.5" y1="743.97" x2="500.5" y2="760.5" stroke="#2a9ce2" stroke-width="0.9"/><rect x="499.3" y="746.94" width="2.4" height="10.58" fill="#2a9ce2"/><line x1="503.7" y1="741.9" x2="503.7" y2="762.56" stroke="#2a9ce2" stroke-width="0.9"/><rect x="502.5" y="745.62" width="2.4" height="13.22" fill="#2a9ce2"/><line x1="506.9" y1="748.1" x2="506.9" y2="760.5" stroke="#2a9ce2" stroke-width="0.9"/><rect x="505.7" y="750.33" width="2.4" height="7.93" fill="#2a9ce2"/><line x1="510.1" y1="743.97" x2="510.1" y2="762.56" stroke="#cfcfcf" stroke-width="0.9"/><rect x="508.9" y="747.31" width="2.4" height="11.9" fill="#e8e8e8"/><line x1="513.3" y1="729.5" x2="513.3" y2="785.29" stroke="#cfcfcf" stroke-width="0.9"/><rect x="512.1" y="737.77" width="2.4" height="16.53" fill="#e8e8e8"/><line x1="516.5" y1="737.77" x2="516.5" y2="752.23" stroke="#2a9ce2" stroke-width="0.9"/><rect x="515.3" y="740.37" width="2.4" height="9.26" fill="#2a9ce2"/><line x1="519.7" y1="727.44" x2="519.7" y2="750.17" stroke="#cfcfcf" stroke-width="0.9"/><rect x="518.5" y="731.53" width="2.4" height="14.55" fill="#e8e8e8"/><line x1="522.9" y1="730.54" x2="522.9" y2="743.97" stroke="#cfcfcf" stroke-width="0.9"/><rect x="521.7" y="732.95" width="2.4" height="8.6" fill="#e8e8e8"/><line x1="526.1" y1="728.47" x2="526.1" y2="735.7" stroke="#2a9ce2" stroke-width="0.9"/><rect x="524.9" y="729.77" width="2.4" height="4.63" fill="#2a9ce2"/><line x1="529.3" y1="729.5" x2="529.3" y2="739.83" stroke="#2a9ce2" stroke-width="0.9"/><rect x="528.1" y="731.36" width="2.4" height="6.61" fill="#2a9ce2"/><line x1="532.5" y1="735.7" x2="532.5" y2="743.97" stroke="#2a9ce2" stroke-width="0.9"/><rect x="531.3" y="737.19" width="2.4" height="5.29" fill="#2a9ce2"/><line x1="535.7" y1="527.25" x2="535.7" y2="548.8" stroke="#2a9ce2" stroke-width="0.9"/><rect x="534.5" y="528.44" width="2.4" height="19.16" fill="#2a9ce2"/><line x1="538.9" y1="508.08" x2="538.9" y2="558.38" stroke="#cfcfcf" stroke-width="0.9"/><rect x="537.7" y="515.27" width="2.4" height="33.53" fill="#e8e8e8"/><line x1="542.1" y1="474.55" x2="542.1" y2="517.66" stroke="#cfcfcf" stroke-width="0.9"/><rect x="540.9" y="484.13" width="2.4" height="31.14" fill="#e8e8e8"/><line x1="545.3" y1="450.6" x2="545.3" y2="500.9" stroke="#cfcfcf" stroke-width="0.9"/><rect x="544.1" y="469.76" width="2.4" height="14.37" fill="#e8e8e8"/><line x1="548.5" y1="455.39" x2="548.5" y2="469.76" stroke="#cfcfcf" stroke-width="0.9"/><rect x="547.3" y="457.98" width="2.4" height="9.2" fill="#e8e8e8"/><line x1="551.7" y1="443.41" x2="551.7" y2="462.57" stroke="#cfcfcf" stroke-width="0.9"/><rect x="550.5" y="446.86" width="2.4" height="12.26" fill="#e8e8e8"/><line x1="554.9" y1="421.86" x2="554.9" y2="455.39" stroke="#cfcfcf" stroke-width="0.9"/><rect x="553.7" y="426.65" width="2.4" height="21.56" fill="#e8e8e8"/><line x1="558.1" y1="393.11" x2="558.1" y2="429.04" stroke="#cfcfcf" stroke-width="0.9"/><rect x="556.9" y="395.51" width="2.4" height="31.14" fill="#e8e8e8"/><line x1="561.3" y1="381.14" x2="561.3" y2="405.09" stroke="#2a9ce2" stroke-width="0.9"/><rect x="560.1" y="385.45" width="2.4" height="15.33" fill="#2a9ce2"/><line x1="564.5" y1="393.11" x2="564.5" y2="431.44" stroke="#2a9ce2" stroke-width="0.9"/><rect x="563.3" y="402.69" width="2.4" height="26.35" fill="#2a9ce2"/><line x1="567.7" y1="402.69" x2="567.7" y2="438.62" stroke="#cfcfcf" stroke-width="0.9"/><rect x="566.5" y="409.16" width="2.4" height="22.99" fill="#e8e8e8"/><line x1="570.9" y1="385.93" x2="570.9" y2="433.83" stroke="#cfcfcf" stroke-width="0.9"/><rect x="569.7" y="388.32" width="2.4" height="43.11" fill="#e8e8e8"/><line x1="574.1" y1="377.54" x2="574.1" y2="400.3" stroke="#cfcfcf" stroke-width="0.9"/><rect x="572.9" y="381.64" width="2.4" height="14.56" fill="#e8e8e8"/><line x1="577.3" y1="383.53" x2="577.3" y2="400.3" stroke="#2a9ce2" stroke-width="0.9"/><rect x="576.1" y="386.55" width="2.4" height="10.73" fill="#2a9ce2"/><line x1="580.5" y1="388.32" x2="580.5" y2="407.49" stroke="#cfcfcf" stroke-width="0.9"/><rect x="579.3" y="391.77" width="2.4" height="12.26" fill="#e8e8e8"/><line x1="583.7" y1="390.72" x2="583.7" y2="463.77" stroke="#2a9ce2" stroke-width="0.9"/><rect x="582.5" y="391.92" width="2.4" height="68.26" fill="#2a9ce2"/><line x1="586.9" y1="424.25" x2="586.9" y2="462.57" stroke="#cfcfcf" stroke-width="0.9"/><rect x="585.7" y="431.15" width="2.4" height="24.53" fill="#e8e8e8"/><line x1="590.1" y1="429.04" x2="590.1" y2="460.18" stroke="#cfcfcf" stroke-width="0.9"/><rect x="588.9" y="434.65" width="2.4" height="19.93" fill="#e8e8e8"/><line x1="593.3" y1="424.25" x2="593.3" y2="443.41" stroke="#cfcfcf" stroke-width="0.9"/><rect x="592.1" y="427.7" width="2.4" height="12.26" fill="#e8e8e8"/><line x1="596.5" y1="412.28" x2="596.5" y2="438.62" stroke="#cfcfcf" stroke-width="0.9"/><rect x="595.3" y="417.02" width="2.4" height="16.86" fill="#e8e8e8"/><line x1="599.7" y1="405.09" x2="599.7" y2="421.86" stroke="#cfcfcf" stroke-width="0.9"/><rect x="598.5" y="408.11" width="2.4" height="10.73" fill="#e8e8e8"/><line x1="602.9" y1="395.51" x2="602.9" y2="409.88" stroke="#cfcfcf" stroke-width="0.9"/><rect x="601.7" y="398.1" width="2.4" height="9.2" fill="#e8e8e8"/><line x1="606.1" y1="390.72" x2="606.1" y2="405.09" stroke="#cfcfcf" stroke-width="0.9"/><rect x="604.9" y="393.31" width="2.4" height="9.2" fill="#e8e8e8"/><line x1="609.3" y1="385.93" x2="609.3" y2="400.3" stroke="#cfcfcf" stroke-width="0.9"/><rect x="608.1" y="388.51" width="2.4" height="9.2" fill="#e8e8e8"/><line x1="612.5" y1="397.9" x2="612.5" y2="412.28" stroke="#2a9ce2" stroke-width="0.9"/><rect x="611.3" y="400.49" width="2.4" height="9.2" fill="#2a9ce2"/><line x1="615.7" y1="395.51" x2="615.7" y2="405.09" stroke="#cfcfcf" stroke-width="0.9"/><rect x="614.5" y="397.23" width="2.4" height="6.13" fill="#e8e8e8"/><line x1="618.9" y1="388.32" x2="618.9" y2="400.3" stroke="#cfcfcf" stroke-width="0.9"/><rect x="617.7" y="390.48" width="2.4" height="7.66" fill="#e8e8e8"/><line x1="622.1" y1="359.58" x2="622.1" y2="393.11" stroke="#cfcfcf" stroke-width="0.9"/><rect x="620.9" y="373.95" width="2.4" height="16.77" fill="#e8e8e8"/><line x1="625.3" y1="371.56" x2="625.3" y2="376.35" stroke="#cfcfcf" stroke-width="0.9"/><rect x="624.1" y="372.42" width="2.4" height="3.07" fill="#e8e8e8"/><line x1="628.5" y1="364.37" x2="628.5" y2="393.11" stroke="#cfcfcf" stroke-width="0.9"/><rect x="627.3" y="371.56" width="2.4" height="16.77" fill="#e8e8e8"/><line x1="631.7" y1="368.8" x2="631.7" y2="390.36" stroke="#2a9ce2" stroke-width="0.9"/><rect x="630.5" y="372.68" width="2.4" height="13.8" fill="#2a9ce2"/><line x1="634.9" y1="373.59" x2="634.9" y2="404.73" stroke="#cfcfcf" stroke-width="0.9"/><rect x="633.7" y="379.2" width="2.4" height="19.93" fill="#e8e8e8"/><line x1="638.1" y1="371.2" x2="638.1" y2="385.57" stroke="#cfcfcf" stroke-width="0.9"/><rect x="636.9" y="373.78" width="2.4" height="9.2" fill="#e8e8e8"/><line x1="641.3" y1="349.64" x2="641.3" y2="375.99" stroke="#cfcfcf" stroke-width="0.9"/><rect x="640.1" y="354.38" width="2.4" height="16.86" fill="#e8e8e8"/><line x1="644.5" y1="349.64" x2="644.5" y2="368.8" stroke="#cfcfcf" stroke-width="0.9"/><rect x="643.3" y="353.09" width="2.4" height="12.26" fill="#e8e8e8"/><line x1="647.7" y1="335.27" x2="647.7" y2="366.41" stroke="#cfcfcf" stroke-width="0.9"/><rect x="646.5" y="340.06" width="2.4" height="19.16" fill="#e8e8e8"/><line x1="650.9" y1="335.27" x2="650.9" y2="347.25" stroke="#2a9ce2" stroke-width="0.9"/><rect x="649.7" y="337.43" width="2.4" height="7.66" fill="#2a9ce2"/><line x1="654.1" y1="337.66" x2="654.1" y2="347.25" stroke="#cfcfcf" stroke-width="0.9"/><rect x="652.9" y="339.39" width="2.4" height="6.13" fill="#e8e8e8"/><line x1="657.3" y1="320.9" x2="657.3" y2="342.46" stroke="#cfcfcf" stroke-width="0.9"/><rect x="656.1" y="324.78" width="2.4" height="13.8" fill="#e8e8e8"/><line x1="660.5" y1="311.32" x2="660.5" y2="337.66" stroke="#2a9ce2" stroke-width="0.9"/><rect x="659.3" y="316.06" width="2.4" height="16.86" fill="#2a9ce2"/><line x1="663.7" y1="320.9" x2="663.7" y2="347.25" stroke="#cfcfcf" stroke-width="0.9"/><rect x="662.5" y="325.64" width="2.4" height="16.86" fill="#e8e8e8"/><line x1="666.9" y1="292.16" x2="666.9" y2="323.29" stroke="#cfcfcf" stroke-width="0.9"/><rect x="665.7" y="297.76" width="2.4" height="19.93" fill="#e8e8e8"/><line x1="670.1" y1="289.76" x2="670.1" y2="318.5" stroke="#cfcfcf" stroke-width="0.9"/><rect x="668.9" y="294.93" width="2.4" height="18.4" fill="#e8e8e8"/><line x1="673.3" y1="268.2" x2="673.3" y2="304.13" stroke="#cfcfcf" stroke-width="0.9"/><rect x="672.1" y="274.67" width="2.4" height="22.99" fill="#e8e8e8"/><line x1="676.5" y1="251.44" x2="676.5" y2="284.97" stroke="#cfcfcf" stroke-width="0.9"/><rect x="675.3" y="257.47" width="2.4" height="21.46" fill="#e8e8e8"/><line x1="679.7" y1="203.53" x2="679.7" y2="256.23" stroke="#cfcfcf" stroke-width="0.9"/><rect x="678.5" y="215.51" width="2.4" height="38.32" fill="#e8e8e8"/><line x1="682.9" y1="201.14" x2="682.9" y2="217.9" stroke="#cfcfcf" stroke-width="0.9"/><rect x="681.7" y="204.16" width="2.4" height="10.73" fill="#e8e8e8"/><line x1="686.1" y1="189.16" x2="686.1" y2="210.72" stroke="#2a9ce2" stroke-width="0.9"/><rect x="684.9" y="193.04" width="2.4" height="13.8" fill="#2a9ce2"/><line x1="689.3" y1="205.93" x2="689.3" y2="215.51" stroke="#2a9ce2" stroke-width="0.9"/><rect x="688.1" y="207.65" width="2.4" height="6.13" fill="#2a9ce2"/><line x1="692.5" y1="208.32" x2="692.5" y2="227.49" stroke="#2a9ce2" stroke-width="0.9"/><rect x="691.3" y="211.77" width="2.4" height="12.26" fill="#2a9ce2"/><line x1="695.7" y1="184.37" x2="695.7" y2="220.3" stroke="#cfcfcf" stroke-width="0.9"/><rect x="694.5" y="186.77" width="2.4" height="31.14" fill="#e8e8e8"/><line x1="698.9" y1="151.46" x2="698.9" y2="189.77" stroke="#cfcfcf" stroke-width="0.9"/><rect x="697.7" y="158.43" width="2.4" height="29.61" fill="#e8e8e8"/><line x1="702.1" y1="123.59" x2="702.1" y2="161.91" stroke="#cfcfcf" stroke-width="0.9"/><rect x="700.9" y="125.34" width="2.4" height="34.83" fill="#e8e8e8"/><line x1="705.3" y1="118.37" x2="705.3" y2="160.17" stroke="#2a9ce2" stroke-width="0.9"/><rect x="704.1" y="123.59" width="2.4" height="13.93" fill="#2a9ce2"/><line x1="708.5" y1="134.04" x2="708.5" y2="154.94" stroke="#2a9ce2" stroke-width="0.9"/><rect x="707.3" y="137.81" width="2.4" height="13.38" fill="#2a9ce2"/><line x1="711.7" y1="144.49" x2="711.7" y2="160.17" stroke="#2a9ce2" stroke-width="0.9"/><rect x="710.5" y="147.31" width="2.4" height="10.03" fill="#2a9ce2"/><line x1="714.9" y1="142.75" x2="714.9" y2="167.13" stroke="#cfcfcf" stroke-width="0.9"/><rect x="713.7" y="147.98" width="2.4" height="5.22" fill="#e8e8e8"/><line x1="718.1" y1="134.04" x2="718.1" y2="167.13" stroke="#2a9ce2" stroke-width="0.9"/><rect x="716.9" y="140" width="2.4" height="21.18" fill="#2a9ce2"/><line x1="721.3" y1="130.56" x2="721.3" y2="156.68" stroke="#cfcfcf" stroke-width="0.9"/><rect x="720.1" y="135.26" width="2.4" height="16.72" fill="#e8e8e8"/><line x1="724.5" y1="102.7" x2="724.5" y2="151.46" stroke="#cfcfcf" stroke-width="0.9"/><rect x="723.3" y="106.18" width="2.4" height="24.38" fill="#e8e8e8"/><line x1="727.7" y1="76.57" x2="727.7" y2="109.66" stroke="#cfcfcf" stroke-width="0.9"/><rect x="726.5" y="80.06" width="2.4" height="26.12" fill="#e8e8e8"/><line x1="730.9" y1="76.57" x2="730.9" y2="118.37" stroke="#2a9ce2" stroke-width="0.9"/><rect x="729.7" y="80.06" width="2.4" height="29.61" fill="#2a9ce2"/><line x1="734.1" y1="95.73" x2="734.1" y2="120.11" stroke="#2a9ce2" stroke-width="0.9"/><rect x="732.9" y="107.92" width="2.4" height="8.71" fill="#2a9ce2"/><line x1="737.3" y1="106.18" x2="737.3" y2="141.01" stroke="#2a9ce2" stroke-width="0.9"/><rect x="736.1" y="113.15" width="2.4" height="22.64" fill="#2a9ce2"/><line x1="740.5" y1="116.63" x2="740.5" y2="151.46" stroke="#cfcfcf" stroke-width="0.9"/><rect x="739.3" y="125.34" width="2.4" height="10.45" fill="#e8e8e8"/><line x1="743.7" y1="116.63" x2="743.7" y2="144.49" stroke="#2a9ce2" stroke-width="0.9"/><rect x="742.5" y="121.64" width="2.4" height="17.83" fill="#2a9ce2"/><line x1="746.9" y1="100.95" x2="746.9" y2="142.75" stroke="#cfcfcf" stroke-width="0.9"/><rect x="745.7" y="109.66" width="2.4" height="24.38" fill="#e8e8e8"/><line x1="750.1" y1="100.95" x2="750.1" y2="114.89" stroke="#cfcfcf" stroke-width="0.9"/><rect x="748.9" y="104.44" width="2.4" height="5.22" fill="#e8e8e8"/><line x1="753.3" y1="90.51" x2="753.3" y2="113.15" stroke="#cfcfcf" stroke-width="0.9"/><rect x="752.1" y="92.25" width="2.4" height="13.93" fill="#e8e8e8"/><line x1="756.5" y1="81.8" x2="756.5" y2="118.37" stroke="#2a9ce2" stroke-width="0.9"/><rect x="755.3" y="92.25" width="2.4" height="17.42" fill="#2a9ce2"/><line x1="759.7" y1="106.18" x2="759.7" y2="118.37" stroke="#2a9ce2" stroke-width="0.9"/><rect x="758.5" y="108.37" width="2.4" height="7.8" fill="#2a9ce2"/><line x1="762.9" y1="107.92" x2="762.9" y2="120.11" stroke="#2a9ce2" stroke-width="0.9"/><rect x="761.7" y="110.11" width="2.4" height="7.8" fill="#2a9ce2"/><line x1="766.1" y1="116.63" x2="766.1" y2="134.04" stroke="#2a9ce2" stroke-width="0.9"/><rect x="764.9" y="119.76" width="2.4" height="11.15" fill="#2a9ce2"/><line x1="769.3" y1="118.37" x2="769.3" y2="137.53" stroke="#2a9ce2" stroke-width="0.9"/><rect x="768.1" y="121.82" width="2.4" height="12.26" fill="#2a9ce2"/><line x1="772.5" y1="107.66" x2="772.5" y2="139.1" stroke="#cfcfcf" stroke-width="0.9"/><rect x="771.3" y="113.32" width="2.4" height="20.12" fill="#e8e8e8"/><line x1="775.7" y1="107.66" x2="775.7" y2="137.25" stroke="#cfcfcf" stroke-width="0.9"/><rect x="774.5" y="112.99" width="2.4" height="18.93" fill="#e8e8e8"/><line x1="778.9" y1="103.96" x2="778.9" y2="146.49" stroke="#2a9ce2" stroke-width="0.9"/><rect x="777.7" y="111.62" width="2.4" height="27.22" fill="#2a9ce2"/><line x1="782.1" y1="131.7" x2="782.1" y2="146.49" stroke="#2a9ce2" stroke-width="0.9"/><rect x="780.9" y="134.36" width="2.4" height="9.47" fill="#2a9ce2"/><line x1="785.3" y1="124.3" x2="785.3" y2="140.95" stroke="#cfcfcf" stroke-width="0.9"/><rect x="784.1" y="127.3" width="2.4" height="10.65" fill="#e8e8e8"/><line x1="788.5" y1="126.15" x2="788.5" y2="140.95" stroke="#2a9ce2" stroke-width="0.9"/><rect x="787.3" y="128.82" width="2.4" height="9.47" fill="#2a9ce2"/><line x1="791.7" y1="116.91" x2="791.7" y2="140.95" stroke="#cfcfcf" stroke-width="0.9"/><rect x="790.5" y="121.24" width="2.4" height="15.38" fill="#e8e8e8"/><line x1="794.9" y1="59.59" x2="794.9" y2="120.61" stroke="#cfcfcf" stroke-width="0.9"/><rect x="793.7" y="78.08" width="2.4" height="42.53" fill="#e8e8e8"/><line x1="798.1" y1="50.34" x2="798.1" y2="81.78" stroke="#cfcfcf" stroke-width="0.9"/><rect x="796.9" y="68.83" width="2.4" height="11.09" fill="#e8e8e8"/><line x1="801.3" y1="59.59" x2="801.3" y2="98.42" stroke="#2a9ce2" stroke-width="0.9"/><rect x="800.1" y="68.83" width="2.4" height="25.89" fill="#2a9ce2"/><line x1="804.5" y1="91.02" x2="804.5" y2="139.1" stroke="#2a9ce2" stroke-width="0.9"/><rect x="803.3" y="98.42" width="2.4" height="31.43" fill="#2a9ce2"/><line x1="807.7" y1="105.81" x2="807.7" y2="137.25" stroke="#cfcfcf" stroke-width="0.9"/><rect x="806.5" y="116.91" width="2.4" height="13.87" fill="#e8e8e8"/><line x1="810.9" y1="96.57" x2="810.9" y2="118.76" stroke="#cfcfcf" stroke-width="0.9"/><rect x="809.7" y="100.27" width="2.4" height="16.64" fill="#e8e8e8"/><line x1="814.1" y1="96.57" x2="814.1" y2="116.91" stroke="#2a9ce2" stroke-width="0.9"/><rect x="812.9" y="100.27" width="2.4" height="7.4" fill="#2a9ce2"/><line x1="817.3" y1="83.62" x2="817.3" y2="183.48" stroke="#cfcfcf" stroke-width="0.9"/><rect x="816.1" y="92.87" width="2.4" height="14.79" fill="#e8e8e8"/><line x1="820.5" y1="55.89" x2="820.5" y2="92.87" stroke="#cfcfcf" stroke-width="0.9"/><rect x="819.3" y="70.68" width="2.4" height="22.19" fill="#e8e8e8"/><line x1="823.7" y1="48.49" x2="823.7" y2="83.62" stroke="#cfcfcf" stroke-width="0.9"/><rect x="822.5" y="69.76" width="2.4" height="4.62" fill="#e8e8e8"/><line x1="826.9" y1="65.13" x2="826.9" y2="78.08" stroke="#2a9ce2" stroke-width="0.9"/><rect x="825.7" y="67.46" width="2.4" height="8.28" fill="#2a9ce2"/><line x1="830.1" y1="68.83" x2="830.1" y2="87.32" stroke="#2a9ce2" stroke-width="0.9"/><rect x="828.9" y="72.16" width="2.4" height="11.83" fill="#2a9ce2"/><line x1="833.3" y1="50.34" x2="833.3" y2="76.23" stroke="#cfcfcf" stroke-width="0.9"/><rect x="832.1" y="55.89" width="2.4" height="14.79" fill="#e8e8e8"/><line x1="836.5" y1="54.04" x2="836.5" y2="70.68" stroke="#2a9ce2" stroke-width="0.9"/><rect x="835.3" y="57.03" width="2.4" height="10.65" fill="#2a9ce2"/><line x1="839.7" y1="65.13" x2="839.7" y2="74.38" stroke="#cfcfcf" stroke-width="0.9"/><rect x="838.5" y="66.8" width="2.4" height="5.92" fill="#e8e8e8"/><line x1="842.9" y1="68.83" x2="842.9" y2="76.23" stroke="#cfcfcf" stroke-width="0.9"/><rect x="841.7" y="70.16" width="2.4" height="4.73" fill="#e8e8e8"/><line x1="846.1" y1="65.13" x2="846.1" y2="79.93" stroke="#2a9ce2" stroke-width="0.9"/><rect x="844.9" y="67.8" width="2.4" height="9.47" fill="#2a9ce2"/><line x1="849.3" y1="43.87" x2="849.3" y2="81.78" stroke="#2a9ce2" stroke-width="0.9"/><rect x="848.1" y="72.53" width="2.4" height="7.4" fill="#2a9ce2"/><line x1="852.5" y1="55.89" x2="852.5" y2="81.78" stroke="#2a9ce2" stroke-width="0.9"/><rect x="851.3" y="60.55" width="2.4" height="16.57" fill="#2a9ce2"/><line x1="855.7" y1="74.36" x2="855.7" y2="93.95" stroke="#cfcfcf" stroke-width="0.9"/><rect x="854.5" y="77.88" width="2.4" height="12.54" fill="#e8e8e8"/><line x1="858.9" y1="76.53" x2="858.9" y2="87.42" stroke="#2a9ce2" stroke-width="0.9"/><rect x="857.7" y="78.49" width="2.4" height="6.97" fill="#2a9ce2"/><line x1="862.1" y1="85.24" x2="862.1" y2="117.91" stroke="#2a9ce2" stroke-width="0.9"/><rect x="860.9" y="91.12" width="2.4" height="20.91" fill="#2a9ce2"/><line x1="865.3" y1="100.49" x2="865.3" y2="120.09" stroke="#cfcfcf" stroke-width="0.9"/><rect x="864.1" y="104.02" width="2.4" height="12.54" fill="#e8e8e8"/><line x1="868.5" y1="93.95" x2="868.5" y2="113.55" stroke="#cfcfcf" stroke-width="0.9"/><rect x="867.3" y="97.48" width="2.4" height="12.54" fill="#e8e8e8"/><line x1="871.7" y1="85.24" x2="871.7" y2="150.57" stroke="#2a9ce2" stroke-width="0.9"/><rect x="870.5" y="107.02" width="2.4" height="26.13" fill="#2a9ce2"/><line x1="874.9" y1="83.07" x2="874.9" y2="137.51" stroke="#cfcfcf" stroke-width="0.9"/><rect x="873.7" y="93.95" width="2.4" height="28.31" fill="#e8e8e8"/><line x1="878.1" y1="83.07" x2="878.1" y2="124.44" stroke="#2a9ce2" stroke-width="0.9"/><rect x="876.9" y="90.51" width="2.4" height="26.48" fill="#2a9ce2"/><line x1="881.3" y1="96.13" x2="881.3" y2="122.26" stroke="#cfcfcf" stroke-width="0.9"/><rect x="880.1" y="100.84" width="2.4" height="16.72" fill="#e8e8e8"/><line x1="884.5" y1="100.49" x2="884.5" y2="126.62" stroke="#2a9ce2" stroke-width="0.9"/><rect x="883.3" y="105.19" width="2.4" height="16.72" fill="#2a9ce2"/><line x1="887.7" y1="107.02" x2="887.7" y2="135.33" stroke="#2a9ce2" stroke-width="0.9"/><rect x="886.5" y="112.12" width="2.4" height="18.12" fill="#2a9ce2"/><line x1="890.9" y1="115.73" x2="890.9" y2="133.15" stroke="#2a9ce2" stroke-width="0.9"/><rect x="889.7" y="118.87" width="2.4" height="11.15" fill="#2a9ce2"/><line x1="894.1" y1="113.55" x2="894.1" y2="130.98" stroke="#cfcfcf" stroke-width="0.9"/><rect x="892.9" y="116.69" width="2.4" height="11.15" fill="#e8e8e8"/><line x1="897.3" y1="111.38" x2="897.3" y2="146.22" stroke="#2a9ce2" stroke-width="0.9"/><rect x="896.1" y="115.73" width="2.4" height="23.95" fill="#2a9ce2"/><line x1="900.5" y1="139.69" x2="900.5" y2="255.1" stroke="#2a9ce2" stroke-width="0.9"/><rect x="899.3" y="141.86" width="2.4" height="60.98" fill="#2a9ce2"/><line x1="903.7" y1="174.53" x2="903.7" y2="213.73" stroke="#2a9ce2" stroke-width="0.9"/><rect x="902.5" y="181.59" width="2.4" height="25.09" fill="#2a9ce2"/><line x1="906.9" y1="202.84" x2="906.9" y2="218.08" stroke="#2a9ce2" stroke-width="0.9"/><rect x="905.7" y="205.58" width="2.4" height="9.76" fill="#2a9ce2"/><line x1="910.1" y1="209.37" x2="910.1" y2="235.51" stroke="#2a9ce2" stroke-width="0.9"/><rect x="908.9" y="214.08" width="2.4" height="16.72" fill="#2a9ce2"/><line x1="913.3" y1="220.26" x2="913.3" y2="250.75" stroke="#2a9ce2" stroke-width="0.9"/><rect x="912.1" y="225.75" width="2.4" height="19.51" fill="#2a9ce2"/><line x1="916.5" y1="235.51" x2="916.5" y2="246.39" stroke="#cfcfcf" stroke-width="0.9"/><rect x="915.3" y="237.47" width="2.4" height="6.97" fill="#e8e8e8"/><line x1="919.7" y1="211.55" x2="919.7" y2="224.62" stroke="#cfcfcf" stroke-width="0.9"/><rect x="918.5" y="213.9" width="2.4" height="8.36" fill="#e8e8e8"/><line x1="922.9" y1="163.64" x2="922.9" y2="226.79" stroke="#cfcfcf" stroke-width="0.9"/><rect x="921.7" y="205.02" width="2.4" height="17.42" fill="#e8e8e8"/><line x1="926.1" y1="185.42" x2="926.1" y2="211.55" stroke="#cfcfcf" stroke-width="0.9"/><rect x="924.9" y="190.12" width="2.4" height="16.72" fill="#e8e8e8"/><line x1="929.3" y1="187.6" x2="929.3" y2="218.08" stroke="#2a9ce2" stroke-width="0.9"/><rect x="928.1" y="193.08" width="2.4" height="19.51" fill="#2a9ce2"/><line x1="932.5" y1="198.48" x2="932.5" y2="220.26" stroke="#cfcfcf" stroke-width="0.9"/><rect x="931.3" y="202.4" width="2.4" height="13.94" fill="#e8e8e8"/><line x1="935.7" y1="198.48" x2="935.7" y2="209.37" stroke="#2a9ce2" stroke-width="0.9"/><rect x="934.5" y="200.44" width="2.4" height="6.97" fill="#2a9ce2"/><line x1="938.9" y1="194.13" x2="938.9" y2="218.08" stroke="#2a9ce2" stroke-width="0.9"/><rect x="937.7" y="198.44" width="2.4" height="15.33" fill="#2a9ce2"/><line x1="942.1" y1="198.48" x2="942.1" y2="211.55" stroke="#2a9ce2" stroke-width="0.9"/><rect x="940.9" y="200.84" width="2.4" height="8.36" fill="#2a9ce2"/><line x1="945.3" y1="200.66" x2="945.3" y2="228.97" stroke="#2a9ce2" stroke-width="0.9"/><rect x="944.1" y="205.76" width="2.4" height="18.12" fill="#2a9ce2"/><line x1="948.5" y1="192.01" x2="948.5" y2="229.21" stroke="#cfcfcf" stroke-width="0.9"/><rect x="947.3" y="201.8" width="2.4" height="9.79" fill="#e8e8e8"/><line x1="951.7" y1="150.9" x2="951.7" y2="205.72" stroke="#cfcfcf" stroke-width="0.9"/><rect x="950.5" y="158.73" width="2.4" height="45.03" fill="#e8e8e8"/><line x1="954.9" y1="141.11" x2="954.9" y2="162.65" stroke="#cfcfcf" stroke-width="0.9"/><rect x="953.7" y="154.82" width="2.4" height="5.87" fill="#e8e8e8"/><line x1="958.1" y1="152.86" x2="958.1" y2="176.35" stroke="#2a9ce2" stroke-width="0.9"/><rect x="956.9" y="157.09" width="2.4" height="15.04" fill="#2a9ce2"/><line x1="961.3" y1="166.56" x2="961.3" y2="180.27" stroke="#cfcfcf" stroke-width="0.9"/><rect x="960.1" y="169.03" width="2.4" height="8.77" fill="#e8e8e8"/><line x1="964.5" y1="172.44" x2="964.5" y2="197.89" stroke="#2a9ce2" stroke-width="0.9"/><rect x="963.3" y="174.39" width="2.4" height="9.79" fill="#2a9ce2"/><line x1="967.7" y1="164.6" x2="967.7" y2="186.14" stroke="#2a9ce2" stroke-width="0.9"/><rect x="966.5" y="168.48" width="2.4" height="13.78" fill="#2a9ce2"/><line x1="970.9" y1="164.6" x2="970.9" y2="174.39" stroke="#2a9ce2" stroke-width="0.9"/><rect x="969.7" y="166.37" width="2.4" height="6.26" fill="#2a9ce2"/><line x1="974.1" y1="141.11" x2="974.1" y2="174.39" stroke="#cfcfcf" stroke-width="0.9"/><rect x="972.9" y="148.94" width="2.4" height="23.49" fill="#e8e8e8"/><line x1="977.3" y1="146.99" x2="977.3" y2="160.69" stroke="#2a9ce2" stroke-width="0.9"/><rect x="976.1" y="149.45" width="2.4" height="8.77" fill="#2a9ce2"/><line x1="980.5" y1="158.73" x2="980.5" y2="170.48" stroke="#cfcfcf" stroke-width="0.9"/><rect x="979.3" y="160.85" width="2.4" height="7.52" fill="#e8e8e8"/><line x1="983.7" y1="154.82" x2="983.7" y2="166.56" stroke="#2a9ce2" stroke-width="0.9"/><rect x="982.5" y="156.93" width="2.4" height="7.52" fill="#2a9ce2"/><line x1="986.9" y1="156.77" x2="986.9" y2="164.6" stroke="#cfcfcf" stroke-width="0.9"/><rect x="985.7" y="158.18" width="2.4" height="5.01" fill="#e8e8e8"/><line x1="990.1" y1="154.82" x2="990.1" y2="162.65" stroke="#cfcfcf" stroke-width="0.9"/><rect x="988.9" y="156.23" width="2.4" height="5.01" fill="#e8e8e8"/><line x1="993.3" y1="154.82" x2="993.3" y2="160.69" stroke="#2a9ce2" stroke-width="0.9"/><rect x="992.1" y="155.87" width="2.4" height="3.76" fill="#2a9ce2"/><line x1="996.5" y1="170.48" x2="996.5" y2="176.35" stroke="#cfcfcf" stroke-width="0.9"/><rect x="995.3" y="171.53" width="2.4" height="3.76" fill="#e8e8e8"/><line x1="999.7" y1="154.82" x2="999.7" y2="174.39" stroke="#cfcfcf" stroke-width="0.9"/><rect x="998.5" y="158.34" width="2.4" height="12.53" fill="#e8e8e8"/><line x1="1002.9" y1="141.11" x2="1002.9" y2="162.65" stroke="#cfcfcf" stroke-width="0.9"/><rect x="1001.7" y="141.11" width="2.4" height="15.66" fill="#e8e8e8"/><line x1="1006.1" y1="123.49" x2="1006.1" y2="141.11" stroke="#cfcfcf" stroke-width="0.9"/><rect x="1004.9" y="139.15" width="2.4" height="1.96" fill="#e8e8e8"/><line x1="1009.3" y1="137.2" x2="1009.3" y2="146.99" stroke="#2a9ce2" stroke-width="0.9"/><rect x="1008.1" y="138.96" width="2.4" height="6.26" fill="#2a9ce2"/><line x1="1012.5" y1="137.2" x2="1012.5" y2="150.9" stroke="#2a9ce2" stroke-width="0.9"/><rect x="1011.3" y="139.66" width="2.4" height="8.77" fill="#2a9ce2"/><line x1="1015.7" y1="146.99" x2="1015.7" y2="184.18" stroke="#2a9ce2" stroke-width="0.9"/><rect x="1014.5" y="150.9" width="2.4" height="31.32" fill="#2a9ce2"/><line x1="1018.9" y1="177.62" x2="1018.9" y2="218.73" stroke="#2a9ce2" stroke-width="0.9"/><rect x="1017.7" y="177.62" width="2.4" height="35.24" fill="#2a9ce2"/><line x1="1022.1" y1="205.03" x2="1022.1" y2="234.39" stroke="#2a9ce2" stroke-width="0.9"/><rect x="1020.9" y="210.31" width="2.4" height="18.79" fill="#2a9ce2"/><line x1="1025.3" y1="199.15" x2="1025.3" y2="240.27" stroke="#cfcfcf" stroke-width="0.9"/><rect x="1024.1" y="206.99" width="2.4" height="23.49" fill="#e8e8e8"/><line x1="1028.5" y1="187.41" x2="1028.5" y2="234.39" stroke="#cfcfcf" stroke-width="0.9"/><rect x="1027.3" y="199.15" width="2.4" height="9.79" fill="#e8e8e8"/><line x1="1031.7" y1="179.58" x2="1031.7" y2="205.03" stroke="#cfcfcf" stroke-width="0.9"/><rect x="1030.5" y="184.16" width="2.4" height="16.29" fill="#e8e8e8"/><line x1="1034.9" y1="177.62" x2="1034.9" y2="199.15" stroke="#cfcfcf" stroke-width="0.9"/><rect x="1033.7" y="181.53" width="2.4" height="17.62" fill="#e8e8e8"/><line x1="1038.1" y1="179.58" x2="1038.1" y2="205.03" stroke="#2a9ce2" stroke-width="0.9"/><rect x="1036.9" y="184.16" width="2.4" height="16.29" fill="#2a9ce2"/><line x1="1041.3" y1="181.53" x2="1041.3" y2="203.07" stroke="#cfcfcf" stroke-width="0.9"/><rect x="1040.1" y="185.41" width="2.4" height="13.78" fill="#e8e8e8"/><line x1="1044.5" y1="179.58" x2="1044.5" y2="210.9" stroke="#2a9ce2" stroke-width="0.9"/><rect x="1043.3" y="185.22" width="2.4" height="20.05" fill="#2a9ce2"/><line x1="1047.7" y1="179.58" x2="1047.7" y2="216.77" stroke="#2a9ce2" stroke-width="0.9"/><rect x="1046.5" y="185.45" width="2.4" height="9.79" fill="#2a9ce2"/><line x1="1050.9" y1="183.49" x2="1050.9" y2="218.73" stroke="#2a9ce2" stroke-width="0.9"/><rect x="1049.7" y="195.24" width="2.4" height="21.53" fill="#2a9ce2"/><line x1="1054.1" y1="203.07" x2="1054.1" y2="224.6" stroke="#2a9ce2" stroke-width="0.9"/><rect x="1052.9" y="206.95" width="2.4" height="13.78" fill="#2a9ce2"/><line x1="1057.3" y1="205.03" x2="1057.3" y2="236.35" stroke="#2a9ce2" stroke-width="0.9"/><rect x="1056.1" y="210.67" width="2.4" height="20.05" fill="#2a9ce2"/><line x1="1060.5" y1="210.9" x2="1060.5" y2="234.39" stroke="#2a9ce2" stroke-width="0.9"/><rect x="1059.3" y="215.13" width="2.4" height="15.04" fill="#2a9ce2"/><line x1="1063.7" y1="218.73" x2="1063.7" y2="230.48" stroke="#cfcfcf" stroke-width="0.9"/><rect x="1062.5" y="220.85" width="2.4" height="7.52" fill="#e8e8e8"/><line x1="1066.9" y1="222.65" x2="1066.9" y2="244.18" stroke="#2a9ce2" stroke-width="0.9"/><rect x="1065.7" y="226.52" width="2.4" height="13.78" fill="#2a9ce2"/><line x1="1070.1" y1="216.77" x2="1070.1" y2="234.39" stroke="#cfcfcf" stroke-width="0.9"/><rect x="1068.9" y="219.95" width="2.4" height="11.28" fill="#e8e8e8"/><line x1="1073.3" y1="224.6" x2="1073.3" y2="236.35" stroke="#cfcfcf" stroke-width="0.9"/><rect x="1072.1" y="226.72" width="2.4" height="7.52" fill="#e8e8e8"/><line x1="1076.5" y1="212.86" x2="1076.5" y2="232.44" stroke="#cfcfcf" stroke-width="0.9"/><rect x="1075.3" y="216.38" width="2.4" height="12.53" fill="#e8e8e8"/><line x1="1079.7" y1="212.86" x2="1079.7" y2="232.44" stroke="#cfcfcf" stroke-width="0.9"/><rect x="1078.5" y="216.38" width="2.4" height="12.53" fill="#e8e8e8"/><line x1="1082.9" y1="216.77" x2="1082.9" y2="255.93" stroke="#2a9ce2" stroke-width="0.9"/><rect x="1081.7" y="218.73" width="2.4" height="31.32" fill="#2a9ce2"/><line x1="1086.1" y1="242.22" x2="1086.1" y2="279.42" stroke="#2a9ce2" stroke-width="0.9"/><rect x="1084.9" y="248.92" width="2.4" height="23.81" fill="#2a9ce2"/><line x1="1089.3" y1="277.46" x2="1089.3" y2="310.74" stroke="#2a9ce2" stroke-width="0.9"/><rect x="1088.1" y="283.45" width="2.4" height="21.3" fill="#2a9ce2"/><line x1="1092.5" y1="296.14" x2="1092.5" y2="311.8" stroke="#cfcfcf" stroke-width="0.9"/><rect x="1091.3" y="298.96" width="2.4" height="10.02" fill="#e8e8e8"/><line x1="1095.7" y1="284.39" x2="1095.7" y2="302.01" stroke="#cfcfcf" stroke-width="0.9"/><rect x="1094.5" y="287.56" width="2.4" height="11.28" fill="#e8e8e8"/><line x1="1098.9" y1="282.44" x2="1098.9" y2="302.01" stroke="#2a9ce2" stroke-width="0.9"/><rect x="1097.7" y="285.96" width="2.4" height="12.53" fill="#2a9ce2"/><line x1="1102.1" y1="288.31" x2="1102.1" y2="327.46" stroke="#2a9ce2" stroke-width="0.9"/><rect x="1100.9" y="295.36" width="2.4" height="25.06" fill="#2a9ce2"/><line x1="1105.3" y1="278.52" x2="1105.3" y2="311.8" stroke="#cfcfcf" stroke-width="0.9"/><rect x="1104.1" y="284.51" width="2.4" height="21.3" fill="#e8e8e8"/><line x1="1108.5" y1="268.73" x2="1108.5" y2="290.27" stroke="#2a9ce2" stroke-width="0.9"/><rect x="1107.3" y="272.61" width="2.4" height="13.78" fill="#2a9ce2"/><line x1="1111.7" y1="266.77" x2="1111.7" y2="284.39" stroke="#cfcfcf" stroke-width="0.9"/><rect x="1110.5" y="269.95" width="2.4" height="11.28" fill="#e8e8e8"/><line x1="1114.9" y1="256.99" x2="1114.9" y2="274.6" stroke="#cfcfcf" stroke-width="0.9"/><rect x="1113.7" y="260.16" width="2.4" height="11.28" fill="#e8e8e8"/><line x1="1118.1" y1="255.03" x2="1118.1" y2="272.65" stroke="#cfcfcf" stroke-width="0.9"/><rect x="1116.9" y="258.2" width="2.4" height="11.28" fill="#e8e8e8"/><line x1="1121.3" y1="237.41" x2="1121.3" y2="256.99" stroke="#cfcfcf" stroke-width="0.9"/><rect x="1120.1" y="240.93" width="2.4" height="12.53" fill="#e8e8e8"/><line x1="1124.5" y1="227.62" x2="1124.5" y2="268.73" stroke="#2a9ce2" stroke-width="0.9"/><rect x="1123.3" y="235.02" width="2.4" height="26.31" fill="#2a9ce2"/><line x1="1127.7" y1="253.07" x2="1127.7" y2="266.77" stroke="#2a9ce2" stroke-width="0.9"/><rect x="1126.5" y="255.54" width="2.4" height="8.77" fill="#2a9ce2"/><line x1="1130.9" y1="260.9" x2="1130.9" y2="292.22" stroke="#2a9ce2" stroke-width="0.9"/><rect x="1129.7" y="266.54" width="2.4" height="20.05" fill="#2a9ce2"/><line x1="1134.1" y1="280.48" x2="1134.1" y2="298.1" stroke="#2a9ce2" stroke-width="0.9"/><rect x="1132.9" y="283.65" width="2.4" height="11.28" fill="#2a9ce2"/><line x1="1137.3" y1="274.6" x2="1137.3" y2="307.89" stroke="#cfcfcf" stroke-width="0.9"/><rect x="1136.1" y="280.6" width="2.4" height="21.3" fill="#e8e8e8"/><line x1="1140.5" y1="268.73" x2="1140.5" y2="284.39" stroke="#2a9ce2" stroke-width="0.9"/><rect x="1139.3" y="271.55" width="2.4" height="10.02" fill="#2a9ce2"/><line x1="1143.7" y1="274.6" x2="1143.7" y2="288.31" stroke="#2a9ce2" stroke-width="0.9"/><rect x="1142.5" y="277.07" width="2.4" height="8.77" fill="#2a9ce2"/><line x1="1146.9" y1="282.44" x2="1146.9" y2="307.89" stroke="#2a9ce2" stroke-width="0.9"/><rect x="1145.7" y="287.02" width="2.4" height="16.29" fill="#2a9ce2"/><line x1="1150.1" y1="303.97" x2="1150.1" y2="311.8" stroke="#2a9ce2" stroke-width="0.9"/><rect x="1148.9" y="305.38" width="2.4" height="5.01" fill="#2a9ce2"/><line x1="1153.3" y1="309.84" x2="1153.3" y2="339.21" stroke="#2a9ce2" stroke-width="0.9"/><rect x="1152.1" y="315.13" width="2.4" height="18.79" fill="#2a9ce2"/><line x1="1156.5" y1="315.72" x2="1156.5" y2="327.46" stroke="#cfcfcf" stroke-width="0.9"/><rect x="1155.3" y="317.83" width="2.4" height="7.52" fill="#e8e8e8"/><line x1="1159.7" y1="309.84" x2="1159.7" y2="372.49" stroke="#2a9ce2" stroke-width="0.9"/><rect x="1158.5" y="319.63" width="2.4" height="43.07" fill="#2a9ce2"/><line x1="1162.9" y1="343.12" x2="1162.9" y2="372.49" stroke="#2a9ce2" stroke-width="0.9"/><rect x="1161.7" y="348.41" width="2.4" height="18.79" fill="#2a9ce2"/><line x1="1166.1" y1="341.17" x2="1166.1" y2="366.62" stroke="#cfcfcf" stroke-width="0.9"/><rect x="1164.9" y="345.75" width="2.4" height="16.29" fill="#e8e8e8"/><line x1="1169.3" y1="327.46" x2="1169.3" y2="347.04" stroke="#cfcfcf" stroke-width="0.9"/><rect x="1168.1" y="330.99" width="2.4" height="12.53" fill="#e8e8e8"/><line x1="1172.5" y1="305.93" x2="1172.5" y2="331.38" stroke="#cfcfcf" stroke-width="0.9"/><rect x="1171.3" y="310.51" width="2.4" height="16.29" fill="#e8e8e8"/><line x1="1175.7" y1="292.22" x2="1175.7" y2="317.67" stroke="#cfcfcf" stroke-width="0.9"/><rect x="1174.5" y="296.81" width="2.4" height="16.29" fill="#e8e8e8"/><line x1="1178.9" y1="282.44" x2="1178.9" y2="319.63" stroke="#cfcfcf" stroke-width="0.9"/><rect x="1177.7" y="290.27" width="2.4" height="17.62" fill="#e8e8e8"/><line x1="1182.1" y1="270.69" x2="1182.1" y2="321.59" stroke="#cfcfcf" stroke-width="0.9"/><rect x="1180.9" y="279.85" width="2.4" height="32.58" fill="#e8e8e8"/><line x1="1185.3" y1="282.44" x2="1185.3" y2="307.89" stroke="#2a9ce2" stroke-width="0.9"/><rect x="1184.1" y="287.02" width="2.4" height="16.29" fill="#2a9ce2"/><line x1="1188.5" y1="266.77" x2="1188.5" y2="286.35" stroke="#cfcfcf" stroke-width="0.9"/><rect x="1187.3" y="270.3" width="2.4" height="12.53" fill="#e8e8e8"/><line x1="1191.7" y1="282.44" x2="1191.7" y2="294.18" stroke="#2a9ce2" stroke-width="0.9"/><rect x="1190.5" y="284.55" width="2.4" height="7.52" fill="#2a9ce2"/><line x1="1194.9" y1="270.69" x2="1194.9" y2="296.14" stroke="#cfcfcf" stroke-width="0.9"/><rect x="1193.7" y="275.27" width="2.4" height="16.29" fill="#e8e8e8"/><line x1="1198.1" y1="282.44" x2="1198.1" y2="309.84" stroke="#2a9ce2" stroke-width="0.9"/><rect x="1196.9" y="287.37" width="2.4" height="17.54" fill="#2a9ce2"/><line x1="1201.3" y1="282.44" x2="1201.3" y2="307.89" stroke="#2a9ce2" stroke-width="0.9"/><rect x="1200.1" y="287.02" width="2.4" height="16.29" fill="#2a9ce2"/><line x1="1204.5" y1="303.97" x2="1204.5" y2="343.12" stroke="#2a9ce2" stroke-width="0.9"/><rect x="1203.3" y="311.02" width="2.4" height="25.06" fill="#2a9ce2"/><line x1="1207.7" y1="330.62" x2="1207.7" y2="347.61" stroke="#2a9ce2" stroke-width="0.9"/><rect x="1206.5" y="333.68" width="2.4" height="10.87" fill="#2a9ce2"/><line x1="1210.9" y1="339.11" x2="1210.9" y2="407.07" stroke="#2a9ce2" stroke-width="0.9"/><rect x="1209.7" y="341.24" width="2.4" height="59.46" fill="#2a9ce2"/><line x1="1214.1" y1="377.34" x2="1214.1" y2="404.94" stroke="#2a9ce2" stroke-width="0.9"/><rect x="1212.9" y="382.31" width="2.4" height="17.67" fill="#2a9ce2"/><line x1="1217.3" y1="381.58" x2="1217.3" y2="409.19" stroke="#cfcfcf" stroke-width="0.9"/><rect x="1216.1" y="387.95" width="2.4" height="8.49" fill="#e8e8e8"/><line x1="1220.5" y1="381.58" x2="1220.5" y2="400.7" stroke="#cfcfcf" stroke-width="0.9"/><rect x="1219.3" y="385.02" width="2.4" height="12.23" fill="#e8e8e8"/><line x1="1223.7" y1="379.46" x2="1223.7" y2="390.08" stroke="#cfcfcf" stroke-width="0.9"/><rect x="1222.5" y="381.37" width="2.4" height="6.8" fill="#e8e8e8"/><line x1="1226.9" y1="381.58" x2="1226.9" y2="394.33" stroke="#2a9ce2" stroke-width="0.9"/><rect x="1225.7" y="383.88" width="2.4" height="8.15" fill="#2a9ce2"/><line x1="1230.1" y1="385.83" x2="1230.1" y2="404.94" stroke="#2a9ce2" stroke-width="0.9"/><rect x="1228.9" y="389.27" width="2.4" height="12.23" fill="#2a9ce2"/><line x1="1233.3" y1="400.7" x2="1233.3" y2="428.3" stroke="#2a9ce2" stroke-width="0.9"/><rect x="1232.1" y="405.67" width="2.4" height="17.67" fill="#2a9ce2"/><line x1="1236.5" y1="409.19" x2="1236.5" y2="430.43" stroke="#2a9ce2" stroke-width="0.9"/><rect x="1235.3" y="413.01" width="2.4" height="13.59" fill="#2a9ce2"/><line x1="1239.7" y1="394.33" x2="1239.7" y2="409.19" stroke="#cfcfcf" stroke-width="0.9"/><rect x="1238.5" y="397" width="2.4" height="9.51" fill="#e8e8e8"/><line x1="1242.9" y1="394.33" x2="1242.9" y2="421.93" stroke="#2a9ce2" stroke-width="0.9"/><rect x="1241.7" y="399.29" width="2.4" height="17.67" fill="#2a9ce2"/><line x1="1246.1" y1="411.31" x2="1246.1" y2="447.42" stroke="#2a9ce2" stroke-width="0.9"/><rect x="1244.9" y="417.81" width="2.4" height="23.1" fill="#2a9ce2"/><line x1="1249.3" y1="430.43" x2="1249.3" y2="447.42" stroke="#2a9ce2" stroke-width="0.9"/><rect x="1248.1" y="433.48" width="2.4" height="10.87" fill="#2a9ce2"/><line x1="1252.5" y1="436.8" x2="1252.5" y2="460.16" stroke="#2a9ce2" stroke-width="0.9"/><rect x="1251.3" y="441" width="2.4" height="14.95" fill="#2a9ce2"/><line x1="1255.7" y1="451.66" x2="1255.7" y2="479.27" stroke="#2a9ce2" stroke-width="0.9"/><rect x="1254.5" y="456.63" width="2.4" height="17.67" fill="#2a9ce2"/><line x1="1258.9" y1="460.16" x2="1258.9" y2="509" stroke="#cfcfcf" stroke-width="0.9"/><rect x="1257.7" y="461.22" width="2.4" height="16.99" fill="#e8e8e8"/><line x1="1262.1" y1="445.29" x2="1262.1" y2="483.52" stroke="#cfcfcf" stroke-width="0.9"/><rect x="1260.9" y="452.17" width="2.4" height="24.46" fill="#e8e8e8"/><line x1="1265.3" y1="445.29" x2="1265.3" y2="477.15" stroke="#cfcfcf" stroke-width="0.9"/><rect x="1264.1" y="451.03" width="2.4" height="20.39" fill="#e8e8e8"/><line x1="1268.5" y1="438.92" x2="1268.5" y2="472.9" stroke="#cfcfcf" stroke-width="0.9"/><rect x="1267.3" y="445.04" width="2.4" height="21.75" fill="#e8e8e8"/><line x1="1271.7" y1="394.33" x2="1271.7" y2="443.17" stroke="#cfcfcf" stroke-width="0.9"/><rect x="1270.5" y="404.94" width="2.4" height="38.22" fill="#e8e8e8"/><line x1="1274.9" y1="373.09" x2="1274.9" y2="407.07" stroke="#cfcfcf" stroke-width="0.9"/><rect x="1273.7" y="377.34" width="2.4" height="27.61" fill="#e8e8e8"/><line x1="1278.1" y1="379.46" x2="1278.1" y2="415.56" stroke="#2a9ce2" stroke-width="0.9"/><rect x="1276.9" y="385.96" width="2.4" height="23.1" fill="#2a9ce2"/><line x1="1281.3" y1="362.47" x2="1281.3" y2="392.2" stroke="#cfcfcf" stroke-width="0.9"/><rect x="1280.1" y="367.82" width="2.4" height="19.03" fill="#e8e8e8"/><line x1="1284.5" y1="377.34" x2="1284.5" y2="409.19" stroke="#2a9ce2" stroke-width="0.9"/><rect x="1283.3" y="383.07" width="2.4" height="20.39" fill="#2a9ce2"/><line x1="1287.7" y1="375.21" x2="1287.7" y2="392.2" stroke="#cfcfcf" stroke-width="0.9"/><rect x="1286.5" y="378.27" width="2.4" height="10.87" fill="#e8e8e8"/><line x1="1290.9" y1="374.94" x2="1290.9" y2="388.87" stroke="#cfcfcf" stroke-width="0.9"/><rect x="1289.7" y="377.45" width="2.4" height="8.92" fill="#e8e8e8"/><line x1="1294.1" y1="371.46" x2="1294.1" y2="385.39" stroke="#cfcfcf" stroke-width="0.9"/><rect x="1292.9" y="373.97" width="2.4" height="8.92" fill="#e8e8e8"/><line x1="1297.3" y1="369.72" x2="1297.3" y2="380.17" stroke="#2a9ce2" stroke-width="0.9"/><rect x="1296.1" y="371.6" width="2.4" height="6.69" fill="#2a9ce2"/><line x1="1300.5" y1="367.98" x2="1300.5" y2="380.17" stroke="#cfcfcf" stroke-width="0.9"/><rect x="1299.3" y="370.17" width="2.4" height="7.8" fill="#e8e8e8"/><line x1="1303.7" y1="333.15" x2="1303.7" y2="371.46" stroke="#cfcfcf" stroke-width="0.9"/><rect x="1302.5" y="336.63" width="2.4" height="33.09" fill="#e8e8e8"/><line x1="1306.9" y1="319.21" x2="1306.9" y2="341.85" stroke="#cfcfcf" stroke-width="0.9"/><rect x="1305.7" y="324.44" width="2.4" height="10.45" fill="#e8e8e8"/><line x1="1310.1" y1="319.21" x2="1310.1" y2="343.59" stroke="#2a9ce2" stroke-width="0.9"/><rect x="1308.9" y="323.6" width="2.4" height="15.6" fill="#2a9ce2"/><line x1="1313.3" y1="291.35" x2="1313.3" y2="329.66" stroke="#cfcfcf" stroke-width="0.9"/><rect x="1312.1" y="319.21" width="2.4" height="6.97" fill="#e8e8e8"/><line x1="1316.5" y1="315.73" x2="1316.5" y2="333.15" stroke="#2a9ce2" stroke-width="0.9"/><rect x="1315.3" y="318.86" width="2.4" height="11.15" fill="#2a9ce2"/><line x1="1319.7" y1="329.66" x2="1319.7" y2="343.59" stroke="#2a9ce2" stroke-width="0.9"/><rect x="1318.5" y="332.17" width="2.4" height="8.92" fill="#2a9ce2"/><line x1="1322.9" y1="343.59" x2="1322.9" y2="367.98" stroke="#2a9ce2" stroke-width="0.9"/><rect x="1321.7" y="347.98" width="2.4" height="15.6" fill="#2a9ce2"/><line x1="1326.1" y1="352.3" x2="1326.1" y2="374.94" stroke="#cfcfcf" stroke-width="0.9"/><rect x="1324.9" y="355.79" width="2.4" height="8.71" fill="#e8e8e8"/><line x1="1329.3" y1="347.08" x2="1329.3" y2="364.49" stroke="#cfcfcf" stroke-width="0.9"/><rect x="1328.1" y="350.21" width="2.4" height="11.15" fill="#e8e8e8"/><line x1="1332.5" y1="334.89" x2="1332.5" y2="350.56" stroke="#cfcfcf" stroke-width="0.9"/><rect x="1331.3" y="337.71" width="2.4" height="10.03" fill="#e8e8e8"/><line x1="1335.7" y1="341.85" x2="1335.7" y2="366.23" stroke="#2a9ce2" stroke-width="0.9"/><rect x="1334.5" y="346.24" width="2.4" height="15.6" fill="#2a9ce2"/><line x1="1338.9" y1="345.34" x2="1338.9" y2="402.81" stroke="#cfcfcf" stroke-width="0.9"/><rect x="1337.7" y="347.08" width="2.4" height="17.42" fill="#e8e8e8"/><line x1="1342.1" y1="334.89" x2="1342.1" y2="354.04" stroke="#cfcfcf" stroke-width="0.9"/><rect x="1340.9" y="338.34" width="2.4" height="12.26" fill="#e8e8e8"/><line x1="1345.3" y1="333.15" x2="1345.3" y2="354.04" stroke="#2a9ce2" stroke-width="0.9"/><rect x="1344.1" y="336.91" width="2.4" height="13.38" fill="#2a9ce2"/><line x1="1348.5" y1="341.85" x2="1348.5" y2="357.53" stroke="#2a9ce2" stroke-width="0.9"/><rect x="1347.3" y="344.67" width="2.4" height="10.03" fill="#2a9ce2"/><line x1="1351.7" y1="333.15" x2="1351.7" y2="357.53" stroke="#cfcfcf" stroke-width="0.9"/><rect x="1350.5" y="341.85" width="2.4" height="8.71" fill="#e8e8e8"/><line x1="1354.9" y1="340.11" x2="1354.9" y2="385.39" stroke="#2a9ce2" stroke-width="0.9"/><rect x="1353.7" y="341.85" width="2.4" height="22.64" fill="#2a9ce2"/><line x1="1358.1" y1="354.04" x2="1358.1" y2="373.2" stroke="#cfcfcf" stroke-width="0.9"/><rect x="1356.9" y="357.49" width="2.4" height="12.26" fill="#e8e8e8"/><line x1="1361.3" y1="352.3" x2="1361.3" y2="366.23" stroke="#cfcfcf" stroke-width="0.9"/><rect x="1360.1" y="354.81" width="2.4" height="8.92" fill="#e8e8e8"/><line x1="1364.5" y1="338.37" x2="1364.5" y2="354.04" stroke="#cfcfcf" stroke-width="0.9"/><rect x="1363.3" y="341.19" width="2.4" height="10.03" fill="#e8e8e8"/><line x1="1367.7" y1="336.63" x2="1367.7" y2="354.04" stroke="#2a9ce2" stroke-width="0.9"/><rect x="1366.5" y="339.76" width="2.4" height="11.15" fill="#2a9ce2"/><line x1="1370.9" y1="345.34" x2="1370.9" y2="357.53" stroke="#cfcfcf" stroke-width="0.9"/><rect x="1369.7" y="347.53" width="2.4" height="7.8" fill="#e8e8e8"/><line x1="1374.1" y1="341.85" x2="1374.1" y2="350.56" stroke="#cfcfcf" stroke-width="0.9"/><rect x="1372.9" y="343.42" width="2.4" height="5.57" fill="#e8e8e8"/><line x1="1377.3" y1="350.56" x2="1377.3" y2="357.53" stroke="#cfcfcf" stroke-width="0.9"/><rect x="1376.1" y="351.81" width="2.4" height="4.46" fill="#e8e8e8"/><line x1="1380.5" y1="343.59" x2="1380.5" y2="357.53" stroke="#cfcfcf" stroke-width="0.9"/><rect x="1379.3" y="346.1" width="2.4" height="8.92" fill="#e8e8e8"/><line x1="1383.7" y1="334.89" x2="1383.7" y2="347.08" stroke="#cfcfcf" stroke-width="0.9"/><rect x="1382.5" y="337.08" width="2.4" height="7.8" fill="#e8e8e8"/><line x1="1386.9" y1="333.15" x2="1386.9" y2="380.17" stroke="#2a9ce2" stroke-width="0.9"/><rect x="1385.7" y="334.89" width="2.4" height="22.64" fill="#2a9ce2"/><line x1="1390.1" y1="312.25" x2="1390.1" y2="373.2" stroke="#cfcfcf" stroke-width="0.9"/><rect x="1388.9" y="315.73" width="2.4" height="40.06" fill="#e8e8e8"/><line x1="1393.3" y1="296.57" x2="1393.3" y2="317.47" stroke="#cfcfcf" stroke-width="0.9"/><rect x="1392.1" y="300.06" width="2.4" height="15.67" fill="#e8e8e8"/><line x1="1396.5" y1="296.83" x2="1396.5" y2="312.49" stroke="#2a9ce2" stroke-width="0.9"/><rect x="1395.3" y="299.65" width="2.4" height="10.02" fill="#2a9ce2"/><line x1="1399.7" y1="287.04" x2="1399.7" y2="329.91" stroke="#cfcfcf" stroke-width="0.9"/><rect x="1398.5" y="294.76" width="2.4" height="27.44" fill="#e8e8e8"/><line x1="1402.9" y1="253.76" x2="1402.9" y2="314.45" stroke="#cfcfcf" stroke-width="0.9"/><rect x="1401.7" y="255.72" width="2.4" height="54.82" fill="#e8e8e8"/><line x1="1406.1" y1="243.97" x2="1406.1" y2="298.79" stroke="#2a9ce2" stroke-width="0.9"/><rect x="1404.9" y="253.76" width="2.4" height="31.32" fill="#2a9ce2"/><line x1="1409.3" y1="283.12" x2="1409.3" y2="306.62" stroke="#2a9ce2" stroke-width="0.9"/><rect x="1408.1" y="287.35" width="2.4" height="15.04" fill="#2a9ce2"/><line x1="1412.5" y1="236.14" x2="1412.5" y2="306.62" stroke="#cfcfcf" stroke-width="0.9"/><rect x="1411.3" y="242.01" width="2.4" height="48.94" fill="#e8e8e8"/><line x1="1415.7" y1="218.52" x2="1415.7" y2="242.01" stroke="#cfcfcf" stroke-width="0.9"/><rect x="1414.5" y="220.48" width="2.4" height="17.62" fill="#e8e8e8"/><line x1="1418.9" y1="189.15" x2="1418.9" y2="226.35" stroke="#cfcfcf" stroke-width="0.9"/><rect x="1417.7" y="204.82" width="2.4" height="15.66" fill="#e8e8e8"/><line x1="1422.1" y1="195.03" x2="1422.1" y2="208.73" stroke="#cfcfcf" stroke-width="0.9"/><rect x="1420.9" y="197.49" width="2.4" height="8.77" fill="#e8e8e8"/><line x1="1425.3" y1="175.06" x2="1425.3" y2="208.73" stroke="#cfcfcf" stroke-width="0.9"/><rect x="1424.1" y="191.11" width="2.4" height="11.75" fill="#e8e8e8"/><line x1="1428.5" y1="185.24" x2="1428.5" y2="243.97" stroke="#2a9ce2" stroke-width="0.9"/><rect x="1427.3" y="193.07" width="2.4" height="50.9" fill="#2a9ce2"/><line x1="1431.7" y1="208.73" x2="1431.7" y2="261.59" stroke="#2a9ce2" stroke-width="0.9"/><rect x="1430.5" y="210.69" width="2.4" height="33.28" fill="#2a9ce2"/><line x1="1434.9" y1="210.69" x2="1434.9" y2="234.18" stroke="#2a9ce2" stroke-width="0.9"/><rect x="1433.7" y="214.92" width="2.4" height="15.04" fill="#2a9ce2"/><line x1="1438.1" y1="200.9" x2="1438.1" y2="236.14" stroke="#cfcfcf" stroke-width="0.9"/><rect x="1436.9" y="206.77" width="2.4" height="21.53" fill="#e8e8e8"/><line x1="1441.3" y1="200.9" x2="1441.3" y2="216.56" stroke="#cfcfcf" stroke-width="0.9"/><rect x="1440.1" y="203.72" width="2.4" height="10.02" fill="#e8e8e8"/><line x1="1444.5" y1="204.82" x2="1444.5" y2="208.73" stroke="#2a9ce2" stroke-width="0.9"/><rect x="1443.3" y="205.52" width="2.4" height="2.51" fill="#2a9ce2"/><line x1="1447.7" y1="198.94" x2="1447.7" y2="210.69" stroke="#cfcfcf" stroke-width="0.9"/><rect x="1446.5" y="201.06" width="2.4" height="7.52" fill="#e8e8e8"/><line x1="1450.9" y1="202.86" x2="1450.9" y2="208.73" stroke="#cfcfcf" stroke-width="0.9"/><rect x="1449.7" y="203.92" width="2.4" height="3.76" fill="#e8e8e8"/><line x1="1454.1" y1="204.82" x2="1454.1" y2="214.6" stroke="#cfcfcf" stroke-width="0.9"/><rect x="1452.9" y="206.58" width="2.4" height="6.26" fill="#e8e8e8"/><line x1="1457.3" y1="200.9" x2="1457.3" y2="212.65" stroke="#cfcfcf" stroke-width="0.9"/><rect x="1456.1" y="203.01" width="2.4" height="7.52" fill="#e8e8e8"/><line x1="1460.5" y1="200.9" x2="1460.5" y2="210.69" stroke="#2a9ce2" stroke-width="0.9"/><rect x="1459.3" y="202.66" width="2.4" height="6.26" fill="#2a9ce2"/><line x1="1463.7" y1="210.69" x2="1463.7" y2="242.01" stroke="#2a9ce2" stroke-width="0.9"/><rect x="1462.5" y="216.33" width="2.4" height="20.05" fill="#2a9ce2"/><line x1="1466.9" y1="224.39" x2="1466.9" y2="257.67" stroke="#cfcfcf" stroke-width="0.9"/><rect x="1465.7" y="226.35" width="2.4" height="13.7" fill="#e8e8e8"/><line x1="1470.1" y1="224.39" x2="1470.1" y2="240.05" stroke="#2a9ce2" stroke-width="0.9"/><rect x="1468.9" y="227.21" width="2.4" height="10.02" fill="#2a9ce2"/><line x1="1473.3" y1="216.56" x2="1473.3" y2="240.05" stroke="#cfcfcf" stroke-width="0.9"/><rect x="1472.1" y="220.79" width="2.4" height="15.04" fill="#e8e8e8"/><line x1="1476.5" y1="210.69" x2="1476.5" y2="224.39" stroke="#2a9ce2" stroke-width="0.9"/><rect x="1475.3" y="213.16" width="2.4" height="8.77" fill="#2a9ce2"/><line x1="1479.7" y1="210.69" x2="1479.7" y2="226.35" stroke="#cfcfcf" stroke-width="0.9"/><rect x="1478.5" y="213.51" width="2.4" height="10.02" fill="#e8e8e8"/><line x1="1482.9" y1="202" x2="1482.9" y2="228.88" stroke="#2a9ce2" stroke-width="0.9"/><rect x="1481.7" y="206.84" width="2.4" height="17.2" fill="#2a9ce2"/><line x1="1486.1" y1="212.34" x2="1486.1" y2="241.29" stroke="#cfcfcf" stroke-width="0.9"/><rect x="1484.9" y="217.55" width="2.4" height="18.53" fill="#e8e8e8"/><line x1="1489.3" y1="206.14" x2="1489.3" y2="237.15" stroke="#2a9ce2" stroke-width="0.9"/><rect x="1488.1" y="211.72" width="2.4" height="19.85" fill="#2a9ce2"/><line x1="1492.5" y1="216.48" x2="1492.5" y2="233.02" stroke="#cfcfcf" stroke-width="0.9"/><rect x="1491.3" y="219.45" width="2.4" height="10.59" fill="#e8e8e8"/><line x1="1495.7" y1="214.41" x2="1495.7" y2="233.02" stroke="#2a9ce2" stroke-width="0.9"/><rect x="1494.5" y="217.76" width="2.4" height="11.91" fill="#2a9ce2"/><line x1="1498.9" y1="212.34" x2="1498.9" y2="228.88" stroke="#2a9ce2" stroke-width="0.9"/><rect x="1497.7" y="215.32" width="2.4" height="10.59" fill="#2a9ce2"/><line x1="1502.1" y1="199.93" x2="1502.1" y2="224.75" stroke="#cfcfcf" stroke-width="0.9"/><rect x="1500.9" y="204.4" width="2.4" height="15.88" fill="#e8e8e8"/><line x1="1505.3" y1="191.66" x2="1505.3" y2="212.34" stroke="#cfcfcf" stroke-width="0.9"/><rect x="1504.1" y="195.38" width="2.4" height="13.23" fill="#e8e8e8"/><line x1="1508.5" y1="195.8" x2="1508.5" y2="212.34" stroke="#2a9ce2" stroke-width="0.9"/><rect x="1507.3" y="198.78" width="2.4" height="10.59" fill="#2a9ce2"/><line x1="1511.7" y1="208.21" x2="1511.7" y2="224.75" stroke="#2a9ce2" stroke-width="0.9"/><rect x="1510.5" y="211.18" width="2.4" height="10.59" fill="#2a9ce2"/><line x1="1514.9" y1="214.41" x2="1514.9" y2="253.7" stroke="#2a9ce2" stroke-width="0.9"/><rect x="1513.7" y="221.48" width="2.4" height="25.14" fill="#2a9ce2"/><line x1="1518.1" y1="220.61" x2="1518.1" y2="239.22" stroke="#2a9ce2" stroke-width="0.9"/><rect x="1516.9" y="223.96" width="2.4" height="11.91" fill="#2a9ce2"/><line x1="1521.3" y1="210.27" x2="1521.3" y2="239.22" stroke="#cfcfcf" stroke-width="0.9"/><rect x="1520.1" y="215.48" width="2.4" height="18.53" fill="#e8e8e8"/><line x1="1524.5" y1="195.8" x2="1524.5" y2="214.41" stroke="#cfcfcf" stroke-width="0.9"/><rect x="1523.3" y="199.15" width="2.4" height="11.91" fill="#e8e8e8"/><line x1="1527.7" y1="195.8" x2="1527.7" y2="206.14" stroke="#2a9ce2" stroke-width="0.9"/><rect x="1526.5" y="197.66" width="2.4" height="6.62" fill="#2a9ce2"/><line x1="1530.9" y1="199.93" x2="1530.9" y2="212.34" stroke="#2a9ce2" stroke-width="0.9"/><rect x="1529.7" y="202.17" width="2.4" height="7.94" fill="#2a9ce2"/><line x1="1534.1" y1="206.14" x2="1534.1" y2="216.48" stroke="#cfcfcf" stroke-width="0.9"/><rect x="1532.9" y="208" width="2.4" height="6.62" fill="#e8e8e8"/><line x1="1537.3" y1="197.87" x2="1537.3" y2="208.21" stroke="#cfcfcf" stroke-width="0.9"/><rect x="1536.1" y="199.73" width="2.4" height="6.62" fill="#e8e8e8"/><line x1="1540.5" y1="162.71" x2="1540.5" y2="199.93" stroke="#cfcfcf" stroke-width="0.9"/><rect x="1539.3" y="169.41" width="2.4" height="23.82" fill="#e8e8e8"/><line x1="1543.7" y1="139.97" x2="1543.7" y2="179.26" stroke="#cfcfcf" stroke-width="0.9"/><rect x="1542.5" y="146.17" width="2.4" height="31.02" fill="#e8e8e8"/><line x1="1546.9" y1="135.83" x2="1546.9" y2="148.24" stroke="#cfcfcf" stroke-width="0.9"/><rect x="1545.7" y="138.06" width="2.4" height="7.94" fill="#e8e8e8"/><line x1="1550.1" y1="137.9" x2="1550.1" y2="142.03" stroke="#cfcfcf" stroke-width="0.9"/><rect x="1548.9" y="138.64" width="2.4" height="2.65" fill="#e8e8e8"/><line x1="1553.3" y1="129.63" x2="1553.3" y2="148.24" stroke="#2a9ce2" stroke-width="0.9"/><rect x="1552.1" y="132.98" width="2.4" height="11.91" fill="#2a9ce2"/><line x1="1556.5" y1="144.1" x2="1556.5" y2="156.51" stroke="#2a9ce2" stroke-width="0.9"/><rect x="1555.3" y="146.34" width="2.4" height="7.94" fill="#2a9ce2"/><line x1="1559.7" y1="117.22" x2="1559.7" y2="152.37" stroke="#cfcfcf" stroke-width="0.9"/><rect x="1558.5" y="119.29" width="2.4" height="31.02" fill="#e8e8e8"/><line x1="1562.9" y1="117.22" x2="1562.9" y2="150.31" stroke="#2a9ce2" stroke-width="0.9"/><rect x="1561.7" y="119.29" width="2.4" height="14.47" fill="#2a9ce2"/><line x1="1566.1" y1="123.42" x2="1566.1" y2="142.03" stroke="#cfcfcf" stroke-width="0.9"/><rect x="1564.9" y="126.77" width="2.4" height="11.91" fill="#e8e8e8"/><line x1="1569.3" y1="117.22" x2="1569.3" y2="133.76" stroke="#2a9ce2" stroke-width="0.9"/><rect x="1568.1" y="120.2" width="2.4" height="10.59" fill="#2a9ce2"/><line x1="1572.5" y1="102.75" x2="1572.5" y2="127.56" stroke="#cfcfcf" stroke-width="0.9"/><rect x="1571.3" y="104.81" width="2.4" height="20.68" fill="#e8e8e8"/><line x1="1575.7" y1="100.68" x2="1575.7" y2="117.22" stroke="#2a9ce2" stroke-width="0.9"/><rect x="1574.5" y="103.66" width="2.4" height="10.59" fill="#2a9ce2"/><line x1="1578.9" y1="108.95" x2="1578.9" y2="139.97" stroke="#2a9ce2" stroke-width="0.9"/><rect x="1577.7" y="114.53" width="2.4" height="19.85" fill="#2a9ce2"/><line x1="1582.1" y1="108.95" x2="1582.1" y2="135.83" stroke="#cfcfcf" stroke-width="0.9"/><rect x="1580.9" y="113.79" width="2.4" height="17.2" fill="#e8e8e8"/><line x1="1585.3" y1="111.02" x2="1585.3" y2="131.7" stroke="#2a9ce2" stroke-width="0.9"/><rect x="1584.1" y="114.74" width="2.4" height="13.23" fill="#2a9ce2"/><line x1="1588.5" y1="108.95" x2="1588.5" y2="123.42" stroke="#cfcfcf" stroke-width="0.9"/><rect x="1587.3" y="111.56" width="2.4" height="9.26" fill="#e8e8e8"/><line x1="1591.7" y1="100.9" x2="1591.7" y2="118.52" stroke="#2a9ce2" stroke-width="0.9"/><rect x="1590.5" y="104.07" width="2.4" height="11.28" fill="#2a9ce2"/><line x1="1594.9" y1="108.73" x2="1594.9" y2="128.31" stroke="#2a9ce2" stroke-width="0.9"/><rect x="1593.7" y="112.26" width="2.4" height="12.53" fill="#2a9ce2"/><line x1="1598.1" y1="116.56" x2="1598.1" y2="130.27" stroke="#2a9ce2" stroke-width="0.9"/><rect x="1596.9" y="119.03" width="2.4" height="8.77" fill="#2a9ce2"/><line x1="1601.3" y1="126.35" x2="1601.3" y2="136.14" stroke="#2a9ce2" stroke-width="0.9"/><rect x="1600.1" y="128.11" width="2.4" height="6.26" fill="#2a9ce2"/><line x1="1604.5" y1="122.44" x2="1604.5" y2="132.22" stroke="#cfcfcf" stroke-width="0.9"/><rect x="1603.3" y="124.2" width="2.4" height="6.26" fill="#e8e8e8"/><line x1="1607.7" y1="122.44" x2="1607.7" y2="136.14" stroke="#cfcfcf" stroke-width="0.9"/><rect x="1606.5" y="124.9" width="2.4" height="8.77" fill="#e8e8e8"/><line x1="1610.9" y1="124.39" x2="1610.9" y2="132.22" stroke="#cfcfcf" stroke-width="0.9"/><rect x="1609.7" y="125.8" width="2.4" height="5.01" fill="#e8e8e8"/><line x1="1614.1" y1="116.56" x2="1614.1" y2="128.31" stroke="#cfcfcf" stroke-width="0.9"/><rect x="1612.9" y="118.68" width="2.4" height="7.52" fill="#e8e8e8"/><line x1="1617.3" y1="116.56" x2="1617.3" y2="140.05" stroke="#cfcfcf" stroke-width="0.9"/><rect x="1616.1" y="118.52" width="2.4" height="9.79" fill="#e8e8e8"/><line x1="1620.5" y1="88.29" x2="1620.5" y2="119.41" stroke="#cfcfcf" stroke-width="0.9"/><rect x="1619.3" y="89.7" width="2.4" height="28.29" fill="#e8e8e8"/><line x1="1623.7" y1="86.17" x2="1623.7" y2="102.43" stroke="#2a9ce2" stroke-width="0.9"/><rect x="1622.5" y="89.09" width="2.4" height="10.41" fill="#2a9ce2"/><line x1="1626.9" y1="86.87" x2="1626.9" y2="110.92" stroke="#2a9ce2" stroke-width="0.9"/><rect x="1625.7" y="91.2" width="2.4" height="15.39" fill="#2a9ce2"/><line x1="1630.1" y1="86.87" x2="1630.1" y2="103.85" stroke="#cfcfcf" stroke-width="0.9"/><rect x="1628.9" y="88.29" width="2.4" height="14.14" fill="#e8e8e8"/><line x1="1633.3" y1="71.32" x2="1633.3" y2="92.53" stroke="#cfcfcf" stroke-width="0.9"/><rect x="1632.1" y="79.8" width="2.4" height="8.49" fill="#e8e8e8"/><line x1="1636.5" y1="68.49" x2="1636.5" y2="86.87" stroke="#2a9ce2" stroke-width="0.9"/><rect x="1635.3" y="82.63" width="2.4" height="4.24" fill="#2a9ce2"/><line x1="1639.7" y1="81.22" x2="1639.7" y2="106.68" stroke="#2a9ce2" stroke-width="0.9"/><rect x="1638.5" y="82.63" width="2.4" height="15.56" fill="#2a9ce2"/><line x1="1642.9" y1="74.14" x2="1642.9" y2="98.19" stroke="#cfcfcf" stroke-width="0.9"/><rect x="1641.7" y="81.22" width="2.4" height="16.97" fill="#e8e8e8"/><line x1="1646.1" y1="76.97" x2="1646.1" y2="88.29" stroke="#cfcfcf" stroke-width="0.9"/><rect x="1644.9" y="79.01" width="2.4" height="7.24" fill="#e8e8e8"/><line x1="1649.3" y1="78.39" x2="1649.3" y2="86.87" stroke="#cfcfcf" stroke-width="0.9"/><rect x="1648.1" y="79.92" width="2.4" height="5.43" fill="#e8e8e8"/><line x1="1652.5" y1="76.97" x2="1652.5" y2="86.87" stroke="#2a9ce2" stroke-width="0.9"/><rect x="1651.3" y="78.76" width="2.4" height="6.34" fill="#2a9ce2"/><line x1="1655.7" y1="81.22" x2="1655.7" y2="171.74" stroke="#2a9ce2" stroke-width="0.9"/><rect x="1654.5" y="82.63" width="2.4" height="31.12" fill="#2a9ce2"/><line x1="1658.9" y1="74.14" x2="1658.9" y2="117.99" stroke="#cfcfcf" stroke-width="0.9"/><rect x="1657.7" y="95.36" width="2.4" height="16.97" fill="#e8e8e8"/><line x1="1662.1" y1="88.29" x2="1662.1" y2="112.33" stroke="#2a9ce2" stroke-width="0.9"/><rect x="1660.9" y="96.78" width="2.4" height="8.49" fill="#2a9ce2"/><line x1="1665.3" y1="92.53" x2="1665.3" y2="112.33" stroke="#cfcfcf" stroke-width="0.9"/><rect x="1664.1" y="96.78" width="2.4" height="7.07" fill="#e8e8e8"/><line x1="1668.5" y1="91.12" x2="1668.5" y2="101.02" stroke="#cfcfcf" stroke-width="0.9"/><rect x="1667.3" y="95.36" width="2.4" height="2.83" fill="#e8e8e8"/><line x1="1671.7" y1="95.36" x2="1671.7" y2="106.68" stroke="#2a9ce2" stroke-width="0.9"/><rect x="1670.5" y="96.07" width="2.4" height="4.95" fill="#2a9ce2"/><line x1="1674.9" y1="97.48" x2="1674.9" y2="100.31" stroke="#cfcfcf" stroke-width="0.9"/><rect x="1673.7" y="97.99" width="2.4" height="1.81" fill="#e8e8e8"/></g>
<polyline points="4,686.3 5.04,686.29 6.14,686.29 7.29,686.28 8.5,686.27 9.75,686.27 11.07,686.26 12.43,686.25 13.84,686.24 15.29,686.23 16.8,686.23 18.35,686.22 19.94,686.21 21.58,686.2 23.26,686.19 24.98,686.18 26.74,686.17 28.53,686.16 30.37,686.15 32.24,686.14 34.14,686.13 36.07,686.12 38.04,686.11 40.04,686.1 42.07,686.09 44.12,686.08 46.21,686.07 48.32,686.06 50.45,686.05 52.6,686.04 54.78,686.02 56.98,686.01 59.2,686 61.43,685.99 63.69,685.98 65.95,685.96 68.24,685.95 70.53,685.94 72.84,685.92 75.16,685.91 77.49,685.89 79.83,685.88 82.17,685.87 84.52,685.85 86.88,685.84 89.23,685.82 91.59,685.81 93.95,685.79 96.31,685.78 98.67,685.76 101.03,685.74 103.38,685.73 105.73,685.71 108.07,685.7 110.4,685.68 112.72,685.66 115.03,685.64 117.33,685.63 119.62,685.61 121.9,685.59 124.16,685.57 126.4,685.56 128.62,685.54 130.83,685.52 133.02,685.5 135.18,685.48 137.32,685.46 139.44,685.44 141.53,685.42 143.6,685.4 145.6,685.38 147.61,685.36 149.62,685.34 151.64,685.32 153.67,685.3 155.7,685.27 157.74,685.25 159.78,685.23 161.83,685.2 163.89,685.18 165.95,685.15 168.02,685.13 170.09,685.1 172.16,685.08 174.24,685.05 176.32,685.03 178.4,685 180.49,684.97 182.57,684.94 184.66,684.92 186.76,684.89 188.85,684.86 190.95,684.83 193.04,684.81 195.14,684.78 197.24,684.75 199.34,684.72 201.43,684.69 203.53,684.66 205.63,684.63 207.72,684.6 209.82,684.57 211.91,684.54 214,684.51 216.09,684.48 218.17,684.45 220.26,684.42 222.34,684.39 224.41,684.36 226.49,684.33 228.55,684.31 230.62,684.28 232.68,684.25 234.73,684.22 236.78,684.19 238.83,684.16 240.87,684.13 242.9,684.1 244.92,684.07 246.94,684.04 248.96,684.01 250.96,683.98 252.96,683.96 254.95,683.93 256.93,683.9 258.91,683.87 260.87,683.85 262.83,683.82 264.77,683.79 266.71,683.77 268.64,683.74 270.55,683.71 272.46,683.69 274.36,683.66 276.24,683.64 278.11,683.61 279.98,683.59 281.83,683.57 283.66,683.54 285.49,683.52 287.3,683.5 289.58,683.47 291.83,683.44 294.05,683.41 296.25,683.39 298.43,683.36 300.58,683.33 302.71,683.29 304.83,683.26 306.92,683.23 308.99,683.2 311.05,683.17 313.09,683.14 315.11,683.11 317.12,683.08 319.11,683.04 321.09,683.01 323.06,682.98 325.02,682.95 326.96,682.92 328.9,682.89 330.83,682.86 332.75,682.83 334.66,682.8 336.57,682.77 338.47,682.74 340.37,682.71 342.26,682.68 344.16,682.66 346.05,682.63 347.94,682.6 349.83,682.58 351.72,682.55 353.62,682.53 355.52,682.51 357.42,682.48 359.33,682.46 361.25,682.44 363.17,682.42 365.1,682.41 367.03,682.39 368.98,682.37 370.94,682.36 372.91,682.35 374.89,682.33 376.89,682.32 378.9,682.31 380.93,682.3 382.97,682.3 385.03,682.29 387.11,682.29 389.2,682.29 391.32,682.29 393.46,682.29 395.61,682.29 397.8,682.29 400,682.3 401.86,682.31 403.75,682.32 405.65,682.33 407.58,682.34 409.52,682.36 411.48,682.38 413.46,682.4 415.46,682.42 417.47,682.45 419.49,682.48 421.53,682.51 423.59,682.54 425.65,682.57 427.73,682.6 429.82,682.64 431.92,682.67 434.03,682.71 436.15,682.75 438.28,682.79 440.41,682.83 442.56,682.87 444.7,682.92 446.86,682.96 449.02,683 451.18,683.05 453.34,683.09 455.51,683.14 457.68,683.18 459.85,683.23 462.02,683.28 464.19,683.32 466.36,683.37 468.52,683.41 470.69,683.46 472.85,683.51 475,683.55 477.15,683.6 479.3,683.64 481.43,683.68 483.57,683.73 485.69,683.77 487.8,683.81 489.91,683.85 492,683.89 494.08,683.93 496.15,683.96 498.21,684 500.26,684.03 502.29,684.07 504.3,684.1 506.3,684.13 508.29,684.15 510.26,684.18 512.21,684.2 514.14,684.23 516.05,684.25 517.94,684.26 519.81,684.28 521.66,684.29 523.49,684.3 525.3,684.31 527.08,684.32 528.83,684.32 530.56,684.32 532.27,684.31 533.95,684.31 535.6,684.3 538.25,684.28 540.83,684.25 543.37,684.22 545.85,684.18 548.28,684.14 550.65,684.09 552.99,684.04 555.27,683.98 557.52,683.91 559.72,683.85 561.89,683.78 564.02,683.7 566.11,683.62 568.17,683.54 570.2,683.45 572.21,683.36 574.19,683.27 576.14,683.18 578.07,683.08 579.99,682.99 581.88,682.89 583.76,682.79 585.63,682.68 587.49,682.58 589.33,682.48 591.18,682.37 593.01,682.27 594.84,682.16 596.68,682.06 598.51,681.95 600.35,681.85 602.19,681.75 604.04,681.65 605.91,681.55 607.78,681.45 609.67,681.35 611.57,681.25 613.5,681.16 615.44,681.07 617.41,680.98 619.4,680.9 621.45,680.82 623.5,680.73 625.55,680.65 627.59,680.57 629.63,680.49 631.67,680.41 633.7,680.33 635.73,680.25 637.76,680.17 639.79,680.09 641.81,680.01 643.83,679.93 645.85,679.85 647.87,679.77 649.89,679.7 651.9,679.62 653.91,679.54 655.92,679.46 657.93,679.38 659.94,679.3 661.94,679.22 663.95,679.14 665.95,679.06 667.96,678.98 669.96,678.89 671.96,678.81 673.96,678.72 675.96,678.64 677.97,678.55 679.97,678.46 681.97,678.37 683.97,678.28 685.97,678.19 687.97,678.1 689.98,678 691.98,677.9 693.98,677.81 695.99,677.71 697.99,677.6 700,677.5 701.96,677.4 703.85,677.29 705.66,677.19 707.39,677.09 709.07,677 710.69,676.9 712.27,676.8 713.8,676.71 715.29,676.61 716.76,676.51 718.21,676.42 719.63,676.32 721.05,676.23 722.47,676.13 723.89,676.03 725.32,675.93 726.77,675.82 728.24,675.72 729.75,675.61 731.29,675.51 732.87,675.4 734.5,675.28 736.2,675.16 737.95,675.04 739.77,674.92 741.67,674.79 743.66,674.66 745.73,674.53 747.9,674.39 750.17,674.24 752.55,674.1 755.05,673.94 757.67,673.78 760.42,673.62 763.3,673.45 766.33,673.27 769.51,673.09 772.84,672.9 776.34,672.7 780,672.5 781.37,672.42 782.76,672.35 784.17,672.27 785.6,672.19 787.04,672.12 788.5,672.04 789.98,671.96 791.48,671.88 792.99,671.79 794.52,671.71 796.06,671.63 797.62,671.55 799.2,671.46 800.79,671.38 802.4,671.29 804.02,671.2 805.66,671.12 807.32,671.03 808.98,670.94 810.67,670.85 812.37,670.76 814.08,670.67 815.81,670.58 817.55,670.49 819.3,670.4 821.07,670.3 822.85,670.21 824.65,670.12 826.46,670.02 828.28,669.93 830.11,669.83 831.96,669.73 833.82,669.64 835.69,669.54 837.58,669.44 839.47,669.34 841.38,669.24 843.3,669.14 845.23,669.04 847.17,668.94 849.12,668.84 851.08,668.74 853.06,668.64 855.04,668.54 857.03,668.43 859.04,668.33 861.05,668.22 863.08,668.12 865.11,668.02 867.15,667.91 869.2,667.8 871.27,667.7 873.33,667.59 875.41,667.48 877.5,667.38 879.6,667.27 881.7,667.16 883.81,667.05 885.93,666.94 888.05,666.83 890.19,666.72 892.33,666.61 894.48,666.5 896.63,666.39 898.79,666.28 900.96,666.16 903.13,666.05 905.31,665.94 907.5,665.83 909.69,665.71 911.89,665.6 914.09,665.49 916.3,665.37 918.51,665.26 920.73,665.14 922.95,665.03 925.18,664.91 927.41,664.8 929.65,664.68 931.89,664.56 934.13,664.45 936.38,664.33 938.63,664.22 940.88,664.1 943.13,663.98 945.39,663.86 947.66,663.75 949.92,663.63 952.19,663.51 954.46,663.39 956.73,663.27 959,663.15 961.27,663.04 963.55,662.92 965.82,662.8 968.1,662.68 970.38,662.56 972.66,662.44 974.94,662.32 977.22,662.2 979.5,662.08 981.78,661.96 984.06,661.84 986.34,661.72 988.62,661.6 990.9,661.48 993.18,661.36 995.45,661.24 997.73,661.12 1000,661 1001.79,660.91 1003.59,660.81 1005.4,660.71 1007.22,660.62 1009.05,660.52 1010.89,660.42 1012.74,660.32 1014.6,660.22 1016.47,660.12 1018.34,660.02 1020.23,659.92 1022.12,659.82 1024.02,659.72 1025.93,659.62 1027.85,659.52 1029.77,659.41 1031.71,659.31 1033.65,659.21 1035.6,659.1 1037.55,659 1039.51,658.89 1041.48,658.79 1043.46,658.68 1045.44,658.57 1047.43,658.47 1049.43,658.36 1051.43,658.25 1053.44,658.14 1055.45,658.04 1057.47,657.93 1059.5,657.82 1061.53,657.71 1063.57,657.6 1065.61,657.49 1067.66,657.38 1069.71,657.27 1071.76,657.16 1073.82,657.05 1075.89,656.94 1077.96,656.82 1080.03,656.71 1082.11,656.6 1084.19,656.49 1086.28,656.37 1088.36,656.26 1090.46,656.15 1092.55,656.04 1094.65,655.92 1096.75,655.81 1098.85,655.7 1100.96,655.58 1103.07,655.47 1105.18,655.35 1107.29,655.24 1109.4,655.13 1111.52,655.01 1113.64,654.9 1115.76,654.78 1117.88,654.67 1120,654.55 1122.12,654.44 1124.25,654.32 1126.37,654.21 1128.5,654.09 1130.62,653.98 1132.75,653.87 1134.87,653.75 1137,653.64 1139.12,653.52 1141.25,653.41 1143.37,653.29 1145.5,653.18 1147.62,653.06 1149.74,652.95 1151.87,652.83 1153.99,652.72 1156.1,652.6 1158.22,652.49 1160.34,652.38 1162.45,652.26 1164.56,652.15 1166.67,652.03 1168.78,651.92 1170.88,651.81 1172.98,651.69 1175.08,651.58 1177.18,651.47 1179.27,651.36 1181.36,651.24 1183.44,651.13 1185.53,651.02 1187.6,650.91 1189.68,650.8 1191.75,650.69 1193.82,650.57 1195.88,650.46 1197.94,650.35 1199.99,650.24 1202.04,650.13 1204.08,650.02 1206.12,649.91 1208.15,649.81 1210.18,649.7 1212.2,649.59 1214.22,649.48 1216.23,649.37 1218.23,649.27 1220.23,649.16 1222.22,649.05 1224.21,648.95 1226.19,648.84 1228.16,648.74 1230.13,648.63 1232.08,648.53 1234.03,648.42 1235.98,648.32 1237.91,648.22 1239.84,648.11 1241.76,648.01 1243.67,647.91 1245.58,647.81 1247.47,647.71 1249.36,647.61 1251.24,647.51 1253.11,647.41 1254.97,647.31 1256.82,647.22 1258.66,647.12 1260.5,647.02 1262.32,646.93 1264.14,646.83 1265.94,646.74 1267.73,646.64 1269.52,646.55 1271.29,646.45 1273.05,646.36 1274.81,646.27 1276.55,646.18 1278.28,646.09 1280,646 1282.39,645.88 1284.77,645.75 1287.13,645.63 1289.48,645.51 1291.81,645.39 1294.13,645.27 1296.43,645.15 1298.72,645.03 1301,644.91 1303.26,644.8 1305.51,644.68 1307.75,644.57 1309.97,644.46 1312.19,644.34 1314.39,644.23 1316.57,644.12 1318.75,644.01 1320.91,643.9 1323.06,643.79 1325.2,643.68 1327.33,643.58 1329.45,643.47 1331.56,643.36 1333.66,643.26 1335.75,643.15 1337.83,643.05 1339.9,642.95 1341.96,642.84 1344.01,642.74 1346.05,642.64 1348.08,642.54 1350.1,642.44 1352.12,642.34 1354.13,642.24 1356.13,642.14 1358.12,642.04 1360.1,641.94 1362.08,641.84 1364.05,641.75 1366.01,641.65 1367.97,641.55 1369.92,641.46 1371.87,641.36 1373.81,641.27 1375.74,641.17 1377.67,641.08 1379.59,640.98 1381.51,640.89 1383.42,640.79 1385.33,640.7 1387.24,640.61 1389.14,640.51 1391.03,640.42 1392.93,640.33 1394.82,640.24 1396.7,640.14 1398.59,640.05 1400.47,639.96 1402.35,639.87 1404.22,639.77 1406.1,639.68 1407.97,639.59 1409.84,639.5 1411.71,639.41 1413.58,639.32 1415.44,639.22 1417.31,639.13 1419.18,639.04 1421.04,638.95 1422.91,638.86 1424.78,638.77 1426.64,638.67 1428.51,638.58 1430.38,638.49 1432.25,638.4 1434.12,638.3 1435.99,638.21 1437.86,638.12 1439.74,638.03 1441.62,637.93 1443.5,637.84 1445.38,637.75 1447.27,637.65 1449.16,637.56 1451.05,637.46 1452.95,637.37 1454.85,637.27 1456.75,637.18 1458.66,637.08 1460.57,636.99 1462.49,636.89 1464.41,636.79 1466.34,636.69 1468.28,636.6 1470.21,636.5 1472.16,636.4 1474.11,636.3 1476.07,636.2 1478.03,636.1 1480,636 1482.04,635.9 1484.11,635.79 1486.19,635.68 1488.29,635.57 1490.4,635.47 1492.54,635.36 1494.69,635.25 1496.85,635.13 1499.03,635.02 1501.22,634.91 1503.43,634.79 1505.64,634.68 1507.87,634.56 1510.12,634.45 1512.37,634.33 1514.63,634.21 1516.9,634.1 1519.19,633.98 1521.48,633.86 1523.77,633.74 1526.08,633.62 1528.39,633.5 1530.71,633.38 1533.03,633.26 1535.36,633.13 1537.69,633.01 1540.02,632.89 1542.36,632.77 1544.7,632.65 1547.04,632.52 1549.38,632.4 1551.72,632.28 1554.06,632.16 1556.41,632.03 1558.74,631.91 1561.08,631.79 1563.42,631.66 1565.75,631.54 1568.07,631.42 1570.39,631.3 1572.71,631.18 1575.02,631.06 1577.32,630.93 1579.62,630.81 1581.91,630.69 1584.19,630.57 1586.46,630.45 1588.72,630.33 1590.97,630.22 1593.21,630.1 1595.44,629.98 1597.66,629.86 1599.86,629.75 1602.05,629.63 1604.23,629.52 1606.39,629.4 1608.54,629.29 1610.67,629.18 1612.78,629.07 1614.88,628.96 1616.96,628.85 1619.02,628.74 1621.06,628.63 1623.08,628.52 1625.08,628.42 1627.06,628.31 1629.02,628.21 1630.96,628.11 1632.87,628.01 1634.77,627.91 1636.63,627.81 1638.47,627.71 1640.29,627.61 1642.08,627.52 1643.85,627.43 1645.58,627.33 1647.29,627.24 1648.97,627.16 1650.63,627.07 1652.25,626.98 1653.84,626.9 1655.4,626.82 1656.93,626.74 1658.43,626.66 1659.9,626.58 1661.33,626.5 1662.73,626.43 1664.09,626.36 1665.42,626.29 1666.71,626.22 1667.97,626.15 1669.18,626.09 1670.37,626.03 1671.51,625.97 1672.61,625.91 1673.68,625.85 1674.7,625.8" fill="none" stroke="#8c288c" stroke-width="1.1" stroke-linejoin="round" />
<polyline points="3.5,750.6 4.58,750.46 5.76,750.3 7.04,750.13 8.43,749.94 9.91,749.74 11.48,749.53 13.13,749.31 14.86,749.08 16.67,748.83 18.54,748.58 20.49,748.32 22.49,748.05 24.56,747.77 26.67,747.49 28.83,747.2 31.04,746.9 33.28,746.6 35.55,746.3 37.86,745.99 40.19,745.68 42.54,745.36 44.9,745.05 47.28,744.73 49.66,744.41 52.04,744.1 54.42,743.78 56.79,743.47 59.14,743.16 61.48,742.85 63.8,742.55 66.09,742.25 68.35,741.95 70.58,741.66 72.76,741.38 74.9,741.1 76.85,740.85 78.81,740.59 80.77,740.33 82.74,740.07 84.72,739.81 86.7,739.55 88.69,739.29 90.69,739.02 92.68,738.75 94.69,738.48 96.69,738.22 98.71,737.95 100.72,737.68 102.74,737.41 104.76,737.14 106.79,736.87 108.81,736.6 110.84,736.33 112.88,736.07 114.91,735.8 116.94,735.54 118.98,735.28 121.02,735.02 123.06,734.76 125.09,734.51 127.13,734.25 129.17,734 131.21,733.76 133.25,733.51 135.28,733.27 137.32,733.04 139.35,732.8 141.38,732.58 143.41,732.35 145.44,732.13 147.46,731.92 149.48,731.71 151.5,731.5 153.51,731.3 155.5,731.1 157.47,730.91 159.44,730.71 161.39,730.53 163.33,730.34 165.26,730.16 167.18,729.98 169.1,729.8 171.01,729.63 172.92,729.46 174.83,729.29 176.73,729.12 178.64,728.96 180.54,728.8 182.45,728.64 184.37,728.49 186.29,728.33 188.22,728.18 190.16,728.03 192.1,727.89 194.06,727.74 196.03,727.6 198.02,727.46 200.02,727.32 202.04,727.19 204.08,727.05 206.13,726.92 208.21,726.79 210.31,726.66 212.44,726.54 214.59,726.41 216.77,726.29 218.97,726.17 221.21,726.05 223.47,725.93 225.77,725.82 228.1,725.7 229.9,725.61 231.71,725.53 233.55,725.44 235.4,725.35 237.27,725.27 239.16,725.18 241.07,725.1 243,725.01 244.94,724.93 246.89,724.84 248.86,724.76 250.84,724.68 252.84,724.6 254.85,724.52 256.87,724.44 258.9,724.36 260.94,724.29 263,724.21 265.06,724.14 267.13,724.06 269.21,723.99 271.29,723.92 273.39,723.85 275.48,723.78 277.59,723.72 279.7,723.65 281.81,723.59 283.92,723.53 286.04,723.47 288.16,723.42 290.28,723.36 292.41,723.31 294.53,723.26 296.65,723.21 298.77,723.17 300.89,723.12 303.01,723.08 305.12,723.04 307.23,723.01 309.34,722.98 311.44,722.94 313.53,722.92 315.62,722.89 317.7,722.87 319.77,722.85 321.84,722.83 323.89,722.82 325.94,722.81 327.98,722.8 330,722.8 332.02,722.8 334.03,722.81 336.04,722.81 338.05,722.83 340.05,722.85 342.05,722.87 344.05,722.89 346.05,722.92 348.04,722.96 350.03,722.99 352.02,723.03 354.01,723.07 356,723.12 357.98,723.17 359.96,723.22 361.95,723.27 363.93,723.33 365.91,723.38 367.89,723.44 369.87,723.51 371.85,723.57 373.83,723.63 375.81,723.7 377.79,723.77 379.77,723.84 381.75,723.91 383.73,723.98 385.72,724.05 387.7,724.12 389.69,724.19 391.68,724.27 393.67,724.34 395.66,724.41 397.65,724.49 399.65,724.56 401.65,724.63 403.65,724.7 405.65,724.77 407.66,724.84 409.67,724.91 411.69,724.98 413.7,725.04 415.73,725.11 417.75,725.17 419.78,725.23 421.82,725.29 423.85,725.34 425.9,725.4 427.95,725.45 430,725.5 431.98,725.55 433.98,725.6 435.98,725.66 438,725.73 440.02,725.79 442.06,725.87 444.1,725.94 446.16,726.02 448.22,726.1 450.28,726.19 452.35,726.27 454.43,726.36 456.52,726.45 458.61,726.55 460.7,726.64 462.79,726.73 464.89,726.82 466.99,726.92 469.1,727.01 471.2,727.1 473.3,727.19 475.41,727.28 477.51,727.37 479.61,727.46 481.71,727.54 483.81,727.62 485.91,727.7 488,727.77 490.09,727.84 492.17,727.9 494.25,727.97 496.32,728.02 498.38,728.07 500.44,728.12 502.49,728.16 504.53,728.19 506.56,728.22 508.59,728.24 510.6,728.25 512.6,728.25 514.6,728.25 516.58,728.24 518.54,728.22 520.5,728.19 522.44,728.15 524.37,728.11 526.28,728.05 528.18,727.98 530.06,727.9 531.92,727.81 533.77,727.71 535.6,727.6 537.9,727.44 540.18,727.26 542.45,727.06 544.69,726.85 546.92,726.62 549.14,726.37 551.33,726.11 553.51,725.83 555.68,725.54 557.83,725.24 559.96,724.92 562.09,724.59 564.19,724.25 566.29,723.9 568.37,723.55 570.44,723.18 572.5,722.8 574.54,722.42 576.58,722.03 578.6,721.63 580.62,721.23 582.62,720.82 584.62,720.41 586.6,720 588.58,719.59 590.55,719.17 592.51,718.75 594.46,718.33 596.41,717.91 598.35,717.5 600.29,717.08 602.22,716.67 604.14,716.26 606.06,715.86 607.98,715.46 609.89,715.06 611.79,714.68 613.7,714.29 615.6,713.92 617.5,713.56 619.4,713.2 621.61,712.79 623.78,712.4 625.93,712.01 628.05,711.62 630.14,711.25 632.21,710.88 634.26,710.51 636.28,710.15 638.3,709.79 640.29,709.43 642.28,709.08 644.25,708.72 646.21,708.37 648.17,708.01 650.12,707.65 652.07,707.29 654.01,706.93 655.96,706.56 657.91,706.18 659.87,705.8 661.83,705.42 663.8,705.02 665.79,704.62 667.78,704.2 669.8,703.78 671.83,703.35 673.87,702.9 675.94,702.44 678.04,701.97 680.16,701.48 682.3,700.98 684.48,700.46 686.68,699.93 688.92,699.37 691.2,698.8 693.04,698.33 694.9,697.85 696.79,697.35 698.7,696.83 700.64,696.31 702.6,695.77 704.57,695.22 706.57,694.66 708.58,694.09 710.6,693.51 712.65,692.93 714.7,692.33 716.77,691.72 718.85,691.11 720.93,690.49 723.03,689.87 725.13,689.24 727.24,688.6 729.36,687.97 731.47,687.32 733.59,686.68 735.71,686.03 737.83,685.38 739.95,684.73 742.06,684.08 744.17,683.43 746.28,682.78 748.38,682.14 750.47,681.49 752.55,680.85 754.62,680.21 756.68,679.58 758.72,678.95 760.75,678.32 762.77,677.7 764.77,677.09 766.75,676.48 768.71,675.89 770.65,675.3 772.57,674.72 774.47,674.15 776.34,673.59 778.18,673.04 780,672.5 782.25,671.84 784.48,671.18 786.67,670.53 788.84,669.88 790.99,669.24 793.11,668.61 795.2,667.99 797.28,667.37 799.33,666.75 801.37,666.14 803.39,665.54 805.39,664.94 807.38,664.34 809.35,663.75 811.32,663.17 813.27,662.58 815.21,662.01 817.14,661.43 819.07,660.86 820.99,660.29 822.9,659.73 824.82,659.16 826.73,658.6 828.64,658.05 830.55,657.49 832.46,656.94 834.38,656.39 836.3,655.83 838.23,655.28 840.16,654.74 842.11,654.19 844.06,653.64 846.03,653.09 848.01,652.55 850,652 851.98,651.46 853.94,650.92 855.87,650.4 857.78,649.88 859.67,649.37 861.54,648.87 863.39,648.37 865.23,647.88 867.07,647.39 868.89,646.9 870.71,646.42 872.53,645.94 874.35,645.47 876.18,644.99 878.01,644.52 879.84,644.04 881.69,643.57 883.56,643.09 885.44,642.62 887.34,642.13 889.26,641.65 891.21,641.16 893.19,640.67 895.19,640.18 897.23,639.67 899.3,639.16 901.42,638.65 903.57,638.13 905.76,637.6 908.01,637.06 910.3,636.51 912.64,635.95 915.03,635.38 917.49,634.79 920,634.2 921.67,633.81 923.39,633.4 925.15,632.99 926.96,632.57 928.8,632.15 930.68,631.71 932.6,631.27 934.56,630.82 936.54,630.37 938.56,629.91 940.6,629.44 942.68,628.97 944.77,628.49 946.89,628.02 949.03,627.53 951.19,627.05 953.37,626.56 955.56,626.06 957.76,625.57 959.98,625.07 962.2,624.57 964.43,624.08 966.67,623.58 968.91,623.08 971.15,622.58 973.39,622.08 975.63,621.58 977.87,621.09 980.09,620.59 982.31,620.1 984.52,619.61 986.72,619.12 988.9,618.64 991.06,618.16 993.21,617.69 995.34,617.21 997.45,616.75 999.53,616.29 1001.58,615.84 1003.61,615.39 1005.61,614.95 1007.58,614.51 1009.51,614.09 1011.41,613.67 1013.27,613.26 1015.09,612.85 1016.87,612.46 1018.61,612.08 1020.3,611.71 1021.94,611.34 1023.53,610.99 1025.08,610.65 1026.57,610.32 1028,610 1031.44,609.23 1034.54,608.54 1037.34,607.91 1039.87,607.33 1042.16,606.81 1044.24,606.33 1046.14,605.89 1047.89,605.49 1049.54,605.11 1051.1,604.75 1052.61,604.41 1054.1,604.08 1055.6,603.75 1057.15,603.42 1058.78,603.08 1060.51,602.72 1062.38,602.34 1064.43,601.94 1066.67,601.5 1069.15,601.02 1071.9,600.5 1073.5,600.19 1075.12,599.89 1076.74,599.57 1078.38,599.25 1080.03,598.93 1081.7,598.6 1083.38,598.27 1085.08,597.94 1086.8,597.6 1088.54,597.26 1090.3,596.91 1092.08,596.56 1093.88,596.21 1095.71,595.86 1097.56,595.5 1099.44,595.14 1101.34,594.78 1103.27,594.42 1105.23,594.06 1107.22,593.69 1109.24,593.32 1111.3,592.95 1113.38,592.58 1115.51,592.21 1117.66,591.84 1119.86,591.47 1122.09,591.09 1124.35,590.72 1126.66,590.35 1129.01,589.97 1131.4,589.6 1133.84,589.22 1136.32,588.85 1138.84,588.48 1141.41,588.11 1144.02,587.74 1146.69,587.37 1149.4,587 1151.01,586.78 1152.66,586.57 1154.32,586.35 1156.01,586.14 1157.73,585.92 1159.47,585.7 1161.24,585.48 1163.02,585.26 1164.83,585.04 1166.66,584.82 1168.51,584.59 1170.38,584.37 1172.27,584.15 1174.17,583.93 1176.1,583.7 1178.04,583.48 1180,583.25 1181.97,583.03 1183.96,582.8 1185.97,582.58 1187.98,582.35 1190.02,582.12 1192.06,581.9 1194.11,581.67 1196.18,581.45 1198.25,581.22 1200.34,580.99 1202.43,580.76 1204.54,580.54 1206.65,580.31 1208.76,580.08 1210.89,579.86 1213.02,579.63 1215.15,579.4 1217.29,579.18 1219.43,578.95 1221.57,578.72 1223.72,578.5 1225.87,578.27 1228.02,578.05 1230.16,577.82 1232.31,577.6 1234.46,577.37 1236.6,577.15 1238.75,576.93 1240.89,576.7 1243.02,576.48 1245.15,576.26 1247.28,576.04 1249.4,575.82 1251.51,575.6 1253.61,575.38 1255.71,575.16 1257.8,574.94 1259.88,574.73 1261.95,574.51 1264,574.29 1266.05,574.08 1268.09,573.86 1270.11,573.65 1272.12,573.44 1274.11,573.23 1276.09,573.02 1278.05,572.81 1280,572.6 1282.11,572.37 1284.23,572.15 1286.37,571.92 1288.52,571.7 1290.68,571.47 1292.85,571.25 1295.04,571.02 1297.23,570.8 1299.43,570.58 1301.64,570.35 1303.85,570.13 1306.07,569.9 1308.3,569.68 1310.52,569.46 1312.76,569.23 1314.99,569.01 1317.22,568.79 1319.46,568.56 1321.69,568.34 1323.93,568.12 1326.16,567.9 1328.38,567.68 1330.6,567.46 1332.82,567.24 1335.03,567.02 1337.24,566.81 1339.43,566.59 1341.62,566.37 1343.8,566.16 1345.96,565.94 1348.12,565.73 1350.26,565.52 1352.39,565.3 1354.5,565.09 1356.6,564.88 1358.69,564.67 1360.75,564.46 1362.8,564.26 1364.83,564.05 1366.84,563.84 1368.83,563.64 1370.8,563.44 1372.74,563.23 1374.66,563.03 1376.56,562.83 1378.43,562.63 1380.28,562.44 1382.1,562.24 1383.89,562.05 1385.66,561.85 1387.39,561.66 1389.09,561.47 1390.76,561.28 1392.4,561.09 1394.01,560.91 1395.58,560.72 1397.11,560.54 1398.61,560.36 1400.07,560.18 1401.5,560 1405,559.55 1408.17,559.12 1411.05,558.72 1413.65,558.34 1416.02,557.97 1418.17,557.61 1420.14,557.27 1421.95,556.94 1423.63,556.61 1425.2,556.29 1426.7,555.97 1428.14,555.64 1429.57,555.32 1431,554.99 1432.47,554.65 1434,554.29 1435.61,553.93 1437.34,553.55 1439.22,553.14 1441.26,552.72 1443.51,552.28 1445.98,551.8 1448.7,551.3 1450.29,551.01 1451.91,550.72 1453.58,550.42 1455.28,550.12 1457.02,549.81 1458.8,549.49 1460.6,549.17 1462.44,548.85 1464.31,548.52 1466.21,548.19 1468.13,547.85 1470.08,547.5 1472.05,547.16 1474.05,546.81 1476.07,546.45 1478.1,546.1 1480.16,545.73 1482.23,545.37 1484.31,545 1486.41,544.63 1488.53,544.26 1490.65,543.89 1492.78,543.51 1494.92,543.13 1497.06,542.75 1499.21,542.37 1501.36,541.99 1503.52,541.6 1505.67,541.22 1507.83,540.83 1509.98,540.45 1512.12,540.06 1514.26,539.67 1516.39,539.28 1518.51,538.89 1520.63,538.51 1522.73,538.12 1524.82,537.73 1526.89,537.35 1528.94,536.96 1530.98,536.58 1533,536.2 1535.02,535.82 1537.05,535.43 1539.09,535.04 1541.15,534.64 1543.21,534.24 1545.29,533.84 1547.37,533.43 1549.47,533.02 1551.57,532.61 1553.67,532.19 1555.78,531.77 1557.9,531.35 1560.01,530.93 1562.13,530.51 1564.25,530.09 1566.36,529.66 1568.48,529.24 1570.59,528.82 1572.69,528.39 1574.79,527.97 1576.89,527.54 1578.97,527.12 1581.05,526.7 1583.12,526.28 1585.18,525.86 1587.22,525.45 1589.25,525.03 1591.27,524.62 1593.27,524.21 1595.26,523.81 1597.23,523.41 1599.18,523.01 1601.1,522.62 1603.01,522.23 1604.9,521.84 1606.76,521.46 1608.6,521.09 1610.42,520.72 1612.21,520.35 1613.97,520 1615.7,519.65 1617.4,519.3 1619.93,518.79 1622.46,518.27 1624.99,517.76 1627.51,517.24 1630.02,516.73 1632.5,516.22 1634.97,515.71 1637.42,515.21 1639.83,514.72 1642.21,514.23 1644.56,513.74 1646.86,513.27 1649.12,512.8 1651.33,512.34 1653.48,511.9 1655.57,511.46 1657.61,511.04 1659.58,510.63 1661.47,510.24 1663.3,509.86 1665.04,509.5 1666.7,509.16 1668.27,508.83 1669.76,508.52 1671.15,508.23 1672.44,507.97 1673.62,507.72 1674.7,507.5" fill="none" stroke="#86c228" stroke-width="1.1" stroke-linejoin="round" />
<polyline points="3.5,706.2 4.69,705.83 6.2,705.37 7.98,704.81 9.98,704.2 12.14,703.53 14.44,702.82 16.81,702.1 19.21,701.38 21.59,700.67 23.9,700 25.82,699.49 27.81,699.02 29.85,698.58 31.94,698.15 34.05,697.72 36.19,697.27 38.33,696.78 40.47,696.24 42.6,695.62 44.71,694.92 46.78,694.12 48.8,693.2 50.93,692.04 52.97,690.72 54.95,689.28 56.9,687.73 58.84,686.11 60.8,684.44 62.8,682.75 64.88,681.07 67.05,679.41 69.35,677.81 71.8,676.3 73.61,675.29 75.54,674.27 77.58,673.24 79.7,672.21 81.89,671.18 84.12,670.15 86.38,669.13 88.64,668.13 90.88,667.14 93.09,666.18 95.25,665.23 97.33,664.32 99.31,663.43 101.18,662.58 102.92,661.77 104.5,661 107.44,659.45 109.63,658.14 111.37,657 112.94,655.94 114.66,654.87 116.81,653.72 119.7,652.4 121.37,651.7 123.23,650.96 125.25,650.19 127.4,649.38 129.65,648.55 131.98,647.71 134.35,646.87 136.74,646.02 139.11,645.19 141.45,644.38 143.71,643.6 145.88,642.85 147.92,642.15 149.8,641.49 151.5,640.9 154.13,639.94 156.16,639.13 157.82,638.44 159.29,637.83 160.8,637.28 162.55,636.74 164.75,636.2 167.6,635.6 169.2,635.3 170.92,635 172.75,634.69 174.68,634.39 176.71,634.08 178.81,633.77 180.97,633.47 183.19,633.17 185.45,632.87 187.73,632.58 190.03,632.3 192.34,632.02 194.63,631.75 196.91,631.5 199.16,631.25 201.36,631.02 203.5,630.8 205.6,630.59 207.67,630.37 209.72,630.16 211.75,629.96 213.78,629.75 215.8,629.56 217.83,629.37 219.86,629.2 221.91,629.03 223.97,628.88 226.06,628.75 228.17,628.64 230.33,628.54 232.52,628.47 234.76,628.42 237.05,628.4 239.4,628.4 241.27,628.42 243.19,628.45 245.15,628.5 247.16,628.56 249.21,628.64 251.29,628.72 253.39,628.82 255.52,628.93 257.66,629.04 259.81,629.17 261.96,629.31 264.12,629.46 266.26,629.62 268.4,629.79 270.51,629.96 272.61,630.15 274.68,630.34 276.71,630.54 278.7,630.74 280.65,630.96 282.55,631.18 284.4,631.4 286.72,631.7 288.97,632.02 291.16,632.35 293.31,632.7 295.41,633.06 297.47,633.44 299.5,633.83 301.5,634.23 303.48,634.65 305.44,635.08 307.4,635.52 309.35,635.97 311.31,636.43 313.28,636.91 315.26,637.4 317.27,637.89 319.3,638.4 321.33,638.92 323.33,639.45 325.3,639.99 327.26,640.54 329.2,641.1 331.14,641.68 333.08,642.27 335.03,642.86 337,643.48 338.98,644.1 341,644.73 343.05,645.38 345.15,646.04 347.3,646.71 349.5,647.4 351.76,648.09 354.1,648.8 355.96,649.36 357.88,649.95 359.84,650.55 361.85,651.18 363.9,651.81 365.98,652.46 368.09,653.12 370.22,653.79 372.38,654.46 374.55,655.14 376.73,655.82 378.91,656.5 381.1,657.17 383.28,657.84 385.45,658.5 387.61,659.15 389.75,659.78 391.86,660.41 393.95,661.01 396.01,661.6 398.02,662.16 400,662.7 402.14,663.27 404.27,663.82 406.39,664.34 408.5,664.85 410.6,665.34 412.68,665.82 414.74,666.29 416.79,666.74 418.83,667.19 420.85,667.62 422.85,668.06 424.84,668.49 426.8,668.91 428.75,669.34 430.68,669.77 432.59,670.2 434.47,670.64 436.34,671.08 438.18,671.54 440,672 442.23,672.6 444.4,673.21 446.53,673.83 448.61,674.45 450.65,675.09 452.66,675.72 454.64,676.36 456.61,676.99 458.56,677.61 460.5,678.22 462.44,678.82 464.38,679.4 466.33,679.96 468.3,680.5 470.28,681.02 472.3,681.5 474.34,681.96 476.4,682.4 478.47,682.81 480.55,683.21 482.64,683.6 484.73,683.97 486.82,684.32 488.91,684.66 490.98,684.98 493.05,685.3 495.1,685.6 497.13,685.89 499.14,686.18 501.13,686.46 503.08,686.73 505,687 507.18,687.32 509.36,687.66 511.55,688.01 513.72,688.36 515.87,688.71 518,689.04 520.09,689.34 522.15,689.62 524.15,689.84 526.1,690.02 527.99,690.13 529.81,690.17 531.55,690.13 533.2,690 535.81,689.57 538.09,688.92 540.13,688.08 542.02,687.08 543.86,685.94 545.74,684.7 547.75,683.38 550,682 551.95,680.83 553.97,679.57 556.04,678.22 558.17,676.8 560.33,675.33 562.53,673.82 564.75,672.29 567,670.75 569.25,669.22 571.5,667.7 573.56,666.32 575.64,664.93 577.74,663.51 579.86,662.08 582,660.64 584.14,659.19 586.3,657.75 588.47,656.3 590.65,654.86 592.82,653.42 595,652 597,650.71 599.02,649.44 601.06,648.18 603.1,646.93 605.14,645.67 607.19,644.42 609.24,643.16 611.29,641.89 613.34,640.6 615.37,639.29 617.39,637.96 619.4,636.6 621.57,635.09 623.73,633.54 625.88,631.98 628.01,630.39 630.14,628.79 632.27,627.17 634.4,625.54 636.53,623.91 638.68,622.27 640.83,620.63 643,619 645,617.51 647.01,616.02 649.02,614.53 651.04,613.04 653.07,611.55 655.09,610.04 657.13,608.53 659.16,607 661.19,605.46 663.23,603.9 665.27,602.31 667.3,600.7 669.35,599.06 671.44,597.38 673.55,595.68 675.67,593.95 677.8,592.21 679.91,590.46 682.01,588.7 684.07,586.94 686.09,585.18 688.06,583.44 689.97,581.71 691.8,580 694.1,577.76 696.26,575.55 698.31,573.37 700.29,571.19 702.23,569.02 704.16,566.82 706.13,564.59 708.16,562.32 710.3,560 712.23,557.93 714.11,555.95 715.95,554 717.81,552.04 719.72,550.03 721.72,547.91 723.85,545.66 726.15,543.22 728.65,540.55 731.4,537.6 733.04,535.83 734.77,533.96 736.57,532 738.43,529.96 740.36,527.85 742.34,525.67 744.37,523.45 746.44,521.18 748.54,518.88 750.68,516.54 752.83,514.19 755,511.84 757.18,509.48 759.37,507.13 761.55,504.8 763.72,502.49 765.87,500.23 768,498 770.03,495.9 772.09,493.79 774.18,491.65 776.3,489.5 778.44,487.34 780.6,485.18 782.76,483.02 784.93,480.85 787.1,478.7 789.27,476.55 791.42,474.42 793.56,472.31 795.67,470.23 797.76,468.16 799.81,466.13 801.83,464.14 803.8,462.18 805.73,460.27 807.6,458.4 809.89,456.09 812.11,453.84 814.27,451.64 816.36,449.48 818.41,447.36 820.42,445.29 822.39,443.25 824.34,441.25 826.27,439.29 828.2,437.35 830.13,435.44 832.06,433.55 834.01,431.68 835.99,429.83 838,428 840.03,426.19 842.06,424.41 844.09,422.66 846.13,420.94 848.16,419.25 850.19,417.59 852.23,415.95 854.26,414.33 856.3,412.74 858.33,411.17 860.36,409.62 862.4,408.09 864.43,406.58 866.47,405.08 868.5,403.6 870.53,402.13 872.57,400.68 874.6,399.25 876.64,397.83 878.67,396.43 880.7,395.06 882.74,393.7 884.77,392.37 886.81,391.06 888.84,389.78 890.87,388.52 892.91,387.3 894.94,386.1 896.97,384.93 899,383.8 901.03,382.71 903.06,381.68 905.08,380.7 907.11,379.75 909.14,378.84 911.16,377.96 913.19,377.09 915.21,376.25 917.24,375.4 919.26,374.56 921.29,373.71 923.32,372.84 925.34,371.96 927.37,371.05 929.4,370.1 931.43,369.13 933.46,368.14 935.5,367.14 937.53,366.13 939.56,365.11 941.6,364.09 943.63,363.06 945.67,362.03 947.7,360.99 949.74,359.95 951.77,358.91 953.8,357.88 955.84,356.85 957.87,355.82 959.9,354.8 961.93,353.78 963.96,352.75 965.98,351.71 968.01,350.66 970.04,349.61 972.06,348.57 974.09,347.53 976.11,346.49 978.14,345.46 980.16,344.44 982.19,343.44 984.22,342.45 986.24,341.48 988.27,340.53 990.3,339.6 992.32,338.69 994.32,337.8 996.31,336.92 998.29,336.06 1000.26,335.21 1002.24,334.37 1004.22,333.55 1006.21,332.74 1008.21,331.94 1010.24,331.16 1012.28,330.38 1014.36,329.62 1016.47,328.87 1018.61,328.13 1020.8,327.4 1022.78,326.77 1024.81,326.14 1026.9,325.52 1029.02,324.92 1031.17,324.32 1033.35,323.73 1035.54,323.15 1037.74,322.58 1039.94,322.01 1042.13,321.46 1044.31,320.92 1046.46,320.39 1048.58,319.87 1050.66,319.36 1052.7,318.86 1054.68,318.38 1056.6,317.9 1058.85,317.33 1061.04,316.78 1063.16,316.24 1065.23,315.71 1067.26,315.19 1069.25,314.69 1071.22,314.21 1073.17,313.75 1075.1,313.3 1077.03,312.88 1078.97,312.47 1080.92,312.09 1082.9,311.73 1084.9,311.4 1086.92,311.09 1088.94,310.82 1090.97,310.57 1092.99,310.35 1095.01,310.15 1097.03,309.96 1099.06,309.8 1101.08,309.65 1103.1,309.51 1105.12,309.38 1107.14,309.26 1109.16,309.14 1111.18,309.02 1113.2,308.9 1115.22,308.78 1117.23,308.68 1119.25,308.59 1121.26,308.5 1123.27,308.42 1125.29,308.36 1127.3,308.29 1129.31,308.24 1131.33,308.19 1133.34,308.14 1135.35,308.1 1137.37,308.07 1139.38,308.03 1141.4,308 1143.42,307.97 1145.44,307.95 1147.46,307.93 1149.48,307.92 1151.5,307.91 1153.52,307.91 1155.54,307.91 1157.57,307.91 1159.59,307.92 1161.61,307.93 1163.63,307.94 1165.66,307.96 1167.68,307.98 1169.7,308 1171.72,308.02 1173.74,308.03 1175.76,308.03 1177.79,308.04 1179.81,308.04 1181.83,308.05 1183.85,308.07 1185.87,308.09 1187.89,308.13 1189.91,308.19 1191.94,308.26 1193.96,308.35 1195.98,308.46 1198,308.6 1200.02,308.76 1202.04,308.94 1204.06,309.13 1206.09,309.33 1208.11,309.56 1210.13,309.8 1212.15,310.05 1214.17,310.32 1216.19,310.61 1218.21,310.91 1220.24,311.23 1222.26,311.57 1224.28,311.93 1226.3,312.3 1228.33,312.7 1230.37,313.13 1232.42,313.58 1234.47,314.05 1236.53,314.55 1238.58,315.06 1240.63,315.58 1242.67,316.11 1244.71,316.65 1246.73,317.19 1248.73,317.73 1250.71,318.26 1252.67,318.79 1254.6,319.3 1256.8,319.9 1258.94,320.52 1261.03,321.16 1263.09,321.8 1265.13,322.44 1267.16,323.08 1269.2,323.7 1271.26,324.31 1273.36,324.91 1275.51,325.47 1277.71,326 1280,326.5 1281.89,326.87 1283.81,327.23 1285.78,327.58 1287.77,327.91 1289.79,328.22 1291.84,328.53 1293.9,328.82 1295.98,329.09 1298.06,329.36 1300.15,329.61 1302.24,329.85 1304.32,330.08 1306.4,330.3 1308.46,330.5 1310.5,330.7 1312.53,330.88 1314.56,331.04 1316.58,331.18 1318.61,331.31 1320.64,331.42 1322.66,331.52 1324.69,331.61 1326.71,331.69 1328.74,331.77 1330.76,331.84 1332.79,331.91 1334.82,331.98 1336.84,332.05 1338.87,332.12 1340.9,332.2 1342.93,332.29 1344.96,332.4 1346.99,332.51 1349.03,332.64 1351.06,332.76 1353.09,332.88 1355.13,333 1357.16,333.1 1359.2,333.19 1361.23,333.26 1363.26,333.31 1365.3,333.33 1367.33,333.33 1369.37,333.28 1371.4,333.2 1373.43,333.08 1375.47,332.92 1377.5,332.74 1379.54,332.52 1381.57,332.29 1383.6,332.02 1385.64,331.74 1387.67,331.44 1389.71,331.13 1391.74,330.8 1393.77,330.47 1395.81,330.13 1397.84,329.79 1399.87,329.44 1401.9,329.1 1403.94,328.75 1406.01,328.38 1408.09,327.99 1410.18,327.58 1412.28,327.16 1414.38,326.74 1416.47,326.3 1418.55,325.87 1420.61,325.44 1422.65,325 1424.66,324.58 1426.64,324.16 1428.57,323.76 1430.46,323.37 1432.3,323 1434.68,322.53 1436.91,322.11 1439.02,321.72 1441.05,321.34 1443.05,320.98 1445.03,320.61 1447.05,320.22 1449.14,319.81 1451.34,319.36 1453.68,318.86 1456.2,318.3 1458.03,317.88 1459.9,317.44 1461.82,316.98 1463.78,316.5 1465.79,316.01 1467.83,315.5 1469.91,314.98 1472.03,314.45 1474.17,313.91 1476.36,313.35 1478.57,312.79 1480.8,312.22 1483.07,311.65 1485.36,311.07 1487.67,310.48 1490,309.9 1491.9,309.43 1493.84,308.95 1495.82,308.47 1497.84,307.99 1499.88,307.5 1501.96,307 1504.05,306.5 1506.16,305.99 1508.29,305.48 1510.42,304.97 1512.55,304.45 1514.68,303.93 1516.81,303.4 1518.92,302.87 1521.02,302.33 1523.1,301.79 1525.15,301.25 1527.17,300.7 1529.15,300.15 1531.1,299.6 1533.34,298.95 1535.53,298.3 1537.69,297.66 1539.81,297.02 1541.91,296.37 1543.98,295.72 1546.03,295.06 1548.08,294.4 1550.12,293.72 1552.16,293.04 1554.21,292.33 1556.28,291.62 1558.36,290.88 1560.47,290.12 1562.61,289.34 1564.78,288.53 1567,287.7 1568.92,286.97 1570.87,286.21 1572.85,285.43 1574.85,284.62 1576.87,283.8 1578.91,282.96 1580.95,282.11 1583.01,281.25 1585.08,280.37 1587.15,279.49 1589.22,278.61 1591.29,277.72 1593.35,276.83 1595.39,275.95 1597.43,275.06 1599.45,274.19 1601.45,273.32 1603.43,272.47 1605.38,271.63 1607.3,270.8 1609.53,269.84 1611.75,268.87 1613.95,267.9 1616.14,266.94 1618.31,265.97 1620.47,265.01 1622.61,264.05 1624.74,263.1 1626.85,262.15 1628.94,261.22 1631.02,260.29 1633.09,259.37 1635.14,258.47 1637.18,257.58 1639.2,256.7 1641.21,255.84 1643.2,255 1645.5,254.04 1647.87,253.07 1650.3,252.09 1652.76,251.1 1655.22,250.13 1657.67,249.16 1660.07,248.22 1662.4,247.31 1664.64,246.44 1666.77,245.62 1668.75,244.85 1670.57,244.15 1672.2,243.52 1673.62,242.96 1674.8,242.5" fill="none" stroke="#b85a7c" stroke-width="1.1" stroke-linejoin="round" />
<polyline points="3.5,669.6 7.7,669.6 7.7,669.6 10.9,665.5 20.5,665.5 20.5,665.5 23.7,660.6 33.3,660.6 33.3,660.6 36.5,654.9 46.1,654.9 46.1,654.9 49.3,646.7 58.9,646.7 58.9,646.7 62.1,635.3 71.7,635.3 71.7,635.3 74.9,624.7 84.5,624.7 84.5,624.7 87.7,614.1 97.3,614.1 97.3,614.1 100.5,602.7 110.1,602.7 110.1,602.7 113.3,591.2 122.9,591.2 122.9,591.2 126.1,581.4 135.7,581.4 135.7,581.4 138.9,570.8 148.5,570.8 148.5,570.8 151.7,562.7 161.3,562.7 161.3,562.7 164.5,556.1 174.1,556.1 174.1,556.1 177.3,550.4 186.9,550.4 186.9,550.4 190.1,546.1 199.7,546.1 199.7,546.1 202.9,542.6 212.5,542.6 212.5,542.6 215.7,540 225.3,540 225.3,540 228.5,539.1 238.1,539.1 238.1,539.1 241.3,540.9 250.9,540.9 250.9,540.9 254.1,547 263.7,547 263.7,547 266.9,551.3 276.5,551.3 276.5,551.3 279.7,555.7 289.3,555.7 289.3,555.7 292.5,560 302.1,560 302.1,560 305.3,567 314.9,567 314.9,567 318.1,580 327.7,580 327.7,580 330.9,594 340.5,594 340.5,594 343.7,610.5 353.3,610.5 353.3,610.5 356.5,625.3 366.1,625.3 366.1,625.3 369.3,640.1 378.9,640.1 378.9,640.1 382.1,655.3 391.7,655.3 391.7,655.3 394.9,667 404.5,667 404.5,667 407.7,682.7 417.3,682.7 417.3,682.7 420.5,694.5 430.1,694.5 430.1,694.5 433.3,705.2 442.9,705.2 442.9,705.2 446.1,712.1 455.7,712.1 455.7,712.1 458.9,718 468.5,718 468.5,718 471.7,723.8 481.3,723.8 481.3,723.8 484.5,730.7 494.1,730.7 494.1,730.7 497.3,737.6 506.9,737.6 506.9,737.6 510.1,741.5 519.7,741.5 519.7,741.5 522.9,745.4 532.5,745.4 532.5,745.4 535.7,737.6 545.3,737.6 545.3,737.6 548.5,725 558.1,725 558.1,725 561.3,709.8 570.9,709.8 570.9,709.8 574.1,701.1 583.7,701.1 583.7,701.1 586.9,685.8 596.5,685.8 596.5,685.8 599.7,666.3 609.3,666.3 609.3,666.3 612.5,646.7 622.1,646.7 622.1,646.7 625.3,627.1 634.9,627.1 634.9,627.1 638.1,605.3 647.7,605.3 647.7,605.3 650.9,585.7 660.5,585.7 660.5,585.7 663.7,561.8 673.3,561.8 673.3,561.8 676.5,533 686.1,533 686.1,533 689.3,504.1 698.9,504.1 698.9,504.1 702.1,475.2 711.7,475.2 711.7,475.2 714.9,443.2 724.5,443.2 724.5,443.2 727.7,414.2 737.3,414.2 737.3,414.2 740.5,385.3 750.1,385.3 750.1,385.3 753.3,354.8 762.9,354.8 762.9,354.8 766.1,324.4 775.7,324.4 775.7,324.4 778.9,296.2 788.5,296.2 788.5,296.2 791.7,265.8 801.3,265.8 801.3,265.8 804.5,248.4 814.1,248.4 814.1,248.4 817.3,233.1 826.9,233.1 826.9,233.1 830.1,217.9 839.7,217.9 839.7,217.9 842.9,199.4 852.5,199.4 852.5,199.4 855.7,185.3 865.3,185.3 865.3,185.3 868.5,172.2 878.1,172.2 878.1,172.2 881.3,161.3 890.9,161.3 890.9,161.3 894.1,152.6 903.7,152.6 903.7,152.6 906.9,146.5 916.5,146.5 916.5,146.5 919.7,141 929.3,141 929.3,141 932.5,138.5 942.1,138.5 942.1,138.5 945.3,135.5 954.9,135.5 954.9,135.5 958.1,135.2 967.7,135.2 967.7,135.2 970.9,135.5 980.5,135.5 980.5,135.5 983.7,138.8 993.3,138.8 993.3,138.8 996.5,139.4 1006.1,139.4 1006.1,139.4 1009.3,143.5 1018.9,143.5 1018.9,143.5 1022.1,148.3 1031.7,148.3 1031.7,148.3 1034.9,152.5 1044.5,152.5 1044.5,152.5 1047.7,156.1 1057.3,156.1 1057.3,156.1 1060.5,160.9 1070.1,160.9 1070.1,160.9 1073.3,168.1 1082.9,168.1 1082.9,168.1 1086.1,178.2 1095.7,178.2 1095.7,178.2 1098.9,189 1108.5,189 1108.5,189 1111.7,195.9 1121.3,195.9 1121.3,195.9 1124.5,205.3 1134.1,205.3 1134.1,205.3 1137.3,213.3 1146.9,213.3 1146.9,213.3 1150.1,224.9 1159.7,224.9 1159.7,224.9 1162.9,229.3 1172.5,229.3 1172.5,229.3 1175.7,232.7 1185.3,232.7 1185.3,232.7 1188.5,236.1 1198.1,236.1 1198.1,236.1 1201.3,245 1210.9,245 1210.9,245 1214.1,255 1223.7,255 1223.7,255 1226.9,266.4 1236.5,266.4 1236.5,266.4 1239.7,280.1 1249.3,280.1 1249.3,280.1 1252.5,293.3 1262.1,293.3 1262.1,293.3 1265.3,305 1274.9,305 1274.9,305 1278.1,313.3 1287.7,313.3 1287.7,313.3 1290.9,321.1 1300.5,321.1 1300.5,321.1 1303.7,327 1310.1,327 1310.1,327 1313.3,334.8 1322.9,334.8 1322.9,334.8 1326.1,341.2 1335.7,341.2 1335.7,341.2 1338.9,346.6 1348.5,346.6 1348.5,346.6 1351.7,350.5 1361.3,350.5 1361.3,350.5 1364.5,353 1374.1,353 1374.1,353 1377.3,357.5 1386.9,357.5 1386.9,357.5 1390.1,359 1399.7,359 1399.7,359 1402.9,356.4 1412.5,356.4 1412.5,356.4 1415.7,348.4 1425.3,348.4 1425.3,348.4 1428.5,344.6 1438.1,344.6 1438.1,344.6 1441.3,340.4 1450.9,340.4 1450.9,340.4 1454.1,337.3 1463.7,337.3 1463.7,337.3 1466.9,329.3 1476.5,329.3 1476.5,329.3 1479.7,322.6 1489.3,322.6 1489.3,322.6 1492.5,312.7 1502.1,312.7 1502.1,312.7 1505.3,302.9 1514.9,302.9 1514.9,302.9 1518.1,289.8 1527.7,289.8 1527.7,289.8 1530.9,280.6 1540.5,280.6 1540.5,280.6 1543.7,270.3 1553.3,270.3 1553.3,270.3 1556.5,257.2 1566.1,257.2 1566.1,257.2 1569.3,248.5 1578.9,248.5 1578.9,248.5 1582.1,236.4 1591.7,236.4 1591.7,236.4 1594.9,224.3 1604.5,224.3 1604.5,224.3 1607.7,212.9 1617.3,212.9 1617.3,212.9 1620.5,201.5 1630.1,201.5 1630.1,201.5 1633.3,189.5 1642.9,189.5 1642.9,189.5 1646.1,178 1655.7,178 1655.7,178 1658.9,166.7 1668.5,166.7 1668.5,166.7 1671.7,160.5 1674.9,160.5" fill="none" stroke="#c87a2a" stroke-width="1.1" stroke-linejoin="round" />
<polyline points="4.1,637.8 5.38,637.12 7.11,636.21 9.18,635.11 11.47,633.88 13.88,632.56 16.3,631.2 18.19,630.12 20.26,628.94 22.44,627.68 24.66,626.39 26.86,625.09 28.97,623.81 30.94,622.57 32.7,621.4 35.67,619.3 38.16,617.35 40.35,615.4 42.4,613.3 44.77,610.28 46.8,607.07 49,603.5 50.92,600.46 52.95,597.16 55.03,593.75 57.1,590.4 59.14,587.24 61.19,584.15 63.25,580.91 65.3,577.3 67.35,573.05 69.41,568.35 71.46,563.65 73.5,559.4 75.49,555.79 77.45,552.54 79.46,549.46 81.6,546.3 83.78,543.03 85.99,539.77 88.45,536.52 91.4,533.3 93.12,531.72 95.01,530.16 97.01,528.62 99.11,527.09 101.27,525.54 103.44,523.97 105.59,522.36 107.7,520.7 109.79,518.91 111.92,516.97 114.07,514.96 116.22,512.94 118.36,510.99 120.46,509.18 122.52,507.6 124.5,506.3 126.67,505.19 128.77,504.4 130.8,503.85 132.8,503.47 134.78,503.2 136.77,502.97 138.8,502.7 140.85,502.4 142.91,502.14 144.96,501.93 147.02,501.8 149.08,501.75 151.14,501.81 153.2,502 155.27,502.27 157.37,502.59 159.48,503 161.57,503.54 163.63,504.24 165.65,505.15 167.6,506.3 169.83,508.08 172.02,510.29 174.16,512.77 176.21,515.33 178.17,517.8 180,520 182.44,522.83 184.58,525.4 186.61,527.87 188.7,530.4 190.88,533.06 193.05,535.76 195.22,538.4 197.4,540.9 199.58,543.28 201.75,545.58 203.93,547.71 206.1,549.6 208.28,551.15 210.45,552.42 212.62,553.58 214.8,554.8 216.98,556.1 219.15,557.39 221.33,558.69 223.5,560 225.68,561.4 227.85,562.87 230.03,564.23 232.2,565.3 234.38,565.94 236.55,566.26 238.72,566.53 240.9,567 243.08,567.59 245.25,568.21 247.43,569.1 249.6,570.5 251.78,572.57 253.95,575.16 256.12,578.01 258.3,580.9 260.48,583.86 262.65,586.99 264.82,590.13 267,593.1 269.18,595.85 271.35,598.46 273.52,601.02 275.7,603.6 277.88,606.21 280.05,608.81 282.22,611.4 284.4,614 286.57,616.68 288.75,619.41 290.93,622.04 293.1,624.4 295.28,626.43 297.45,628.23 299.63,629.86 301.8,631.4 303.97,632.83 306.14,634.11 308.32,635.34 310.5,636.6 312.7,637.78 314.9,638.87 317.1,640.13 319.3,641.8 321.48,644.01 323.66,646.61 325.83,649.43 328,652.3 330.22,655.15 332.46,658.09 334.65,661.18 336.7,664.5 339.17,669.82 341.43,675.51 343.6,680 345.53,681.89 347.35,682.58 349.6,684.7 351.78,688.33 354.26,693.06 356.86,698.01 359.4,702.3 361.85,705.73 364.3,708.76 366.75,711.48 369.2,714 371.65,716.24 374.1,718.19 376.55,720.02 379,721.9 381.45,723.9 383.9,725.92 386.35,727.89 388.8,729.7 391.16,731.22 393.46,732.52 395.88,733.9 398.6,735.6 400.68,736.99 402.95,738.51 405.33,740.14 407.74,741.85 410.09,743.61 412.3,745.4 414.8,747.74 417.22,750.31 419.55,752.88 421.81,755.22 424,757.1 426.49,758.69 428.77,759.71 431.11,760.43 433.8,761.1 435.85,761.56 438.04,761.96 440.34,762.3 442.72,762.59 445.15,762.82 447.6,763 449.8,763.12 452.15,763.19 454.56,763.23 456.96,763.23 459.25,763.19 461.36,763.12 463.2,763 466.41,762.73 468.76,762.25 471.1,761.1 473.71,758.83 476.3,755.9 478.9,753.2 481.43,750.97 483.95,748.97 486.7,747.4 489.01,746.54 491.48,745.91 494,745.53 496.5,745.4 498.95,745.67 501.4,746.27 503.85,746.95 506.3,747.4 508.75,747.59 511.2,747.65 513.65,747.59 516.1,747.4 518.59,747.04 521.12,746.52 523.58,745.95 525.9,745.4 528.82,744.87 531.53,744.35 533.8,743.4 537.7,737.6 540.01,729.55 542.75,718.87 545.5,708.2 548.1,698.79 550.72,689.37 553.4,678.8 555.46,669.38 557.54,659.01 559.68,648.58 561.9,639 564.17,630.61 566.48,622.91 568.91,615.47 571.5,607.9 573.42,602.55 575.5,597 577.65,591.46 579.77,586.11 581.75,581.16 583.5,576.8 585.62,571.37 587.21,567.53 590.7,560 592.12,556.98 593.75,553.52 595.56,549.69 597.51,545.57 599.58,541.22 601.74,536.7 603.96,532.09 606.21,527.45 608.48,522.86 610.71,518.37 612.9,514.06 615,510 617.09,506.09 619.24,502.18 621.43,498.3 623.64,494.44 625.86,490.63 628.07,486.88 630.24,483.18 632.37,479.56 634.42,476.02 636.39,472.57 638.26,469.23 640,466 642.68,460.81 645.05,456.03 647.19,451.52 649.19,447.19 651.14,442.9 653.11,438.55 655.2,434 657.38,429.27 659.57,424.45 661.76,419.59 663.94,414.73 666.13,409.9 668.32,405.14 670.5,400.5 672.68,396.04 674.85,391.74 677.02,387.53 679.19,383.33 681.36,379.06 683.53,374.65 685.7,370 687.9,365.07 690.12,359.92 692.36,354.62 694.58,349.25 696.76,343.88 698.88,338.61 700.9,333.5 703.09,327.81 705.13,322.32 707.08,316.92 709.04,311.48 711.09,305.88 713.3,300 715.35,294.6 717.51,288.87 719.74,282.98 722.02,277.08 724.3,271.31 726.57,265.84 728.8,260.8 730.99,256.23 733.16,252 735.34,248.03 737.5,244.25 739.67,240.58 741.83,236.96 744,233.3 746.2,229.61 748.43,225.95 750.67,222.35 752.9,218.83 755.08,215.41 757.19,212.13 759.2,209 761.37,205.57 763.37,202.34 765.29,199.29 767.21,196.36 769.22,193.51 771.4,190.7 773.42,188.33 775.55,186.02 777.75,183.77 779.99,181.58 782.25,179.46 784.49,177.4 786.7,175.4 788.88,173.49 791.05,171.69 793.22,169.95 795.38,168.26 797.55,166.59 799.72,164.91 801.9,163.2 804.08,161.49 806.27,159.83 808.46,158.18 810.64,156.5 812.83,154.79 815.02,153 817.2,151.1 819.38,149.08 821.55,146.96 823.72,144.76 825.89,142.52 828.06,140.26 830.23,138.01 832.4,135.8 834.6,133.56 836.83,131.23 839.07,128.88 841.3,126.58 843.48,124.39 845.59,122.37 847.6,120.6 849.77,118.82 851.77,117.26 853.69,115.91 855.61,114.76 857.62,113.8 859.8,113 861.82,112.49 863.95,112.17 866.15,112 868.39,111.94 870.65,111.95 872.89,111.98 875.1,112 877.33,111.98 879.63,111.95 881.94,111.94 884.22,112 886.4,112.17 888.45,112.49 890.3,113 893,114.26 895.23,115.91 897.26,118.01 899.4,120.6 901.7,123.97 904,128.01 906.3,132.14 908.6,135.8 910.81,138.83 912.96,141.53 915.21,144.04 917.7,146.5 919.55,148.13 921.54,149.71 923.61,151.24 925.72,152.74 927.83,154.19 929.9,155.6 931.97,156.99 934.08,158.36 936.19,159.68 938.26,160.94 940.24,162.12 942.1,163.2 944.4,164.67 946.33,165.97 948.44,167.04 951.3,167.8 952.94,168.01 954.8,168.14 956.81,168.2 958.93,168.2 961.12,168.16 963.31,168.08 965.48,167.99 967.56,167.89 969.5,167.8 971.93,167.65 974.38,167.44 976.79,167.18 979.1,166.92 981.25,166.66 983.17,166.45 984.8,166.3 987.61,166.32 990,166.3 991.62,166.12 993.54,165.88 995.66,165.59 997.84,165.26 1000,164.89 1002,164.5 1004.32,163.88 1006.66,163.1 1008.91,162.33 1010.96,161.74 1012.7,161.5 1015.24,162.44 1017.5,164.5 1019.26,165.82 1021.25,167.39 1023.46,169.01 1025.9,170.5 1027.72,171.4 1029.73,172.28 1031.83,173.12 1033.95,173.92 1036,174.65 1037.9,175.3 1040.45,175.96 1042.8,176.36 1045.08,176.83 1047.4,177.7 1049.76,179.17 1052.12,181.02 1054.51,182.99 1057,184.8 1059.1,186.11 1061.29,187.39 1063.51,188.63 1065.7,189.77 1067.8,190.8 1070.31,191.78 1072.76,192.53 1075.12,193.3 1077.4,194.4 1079.56,195.89 1081.62,197.62 1083.65,199.55 1085.7,201.6 1087.76,203.83 1089.82,206.26 1091.91,208.75 1094.1,211.2 1096.49,213.58 1099.03,215.94 1101.5,218.31 1103.7,220.7 1105.86,224.07 1107.64,227.46 1110,230.4 1111.95,231.78 1114.19,232.91 1116.6,233.93 1119.04,234.95 1121.4,236.1 1123.68,237.42 1125.96,238.83 1128.23,240.27 1130.51,241.68 1132.8,243 1135.1,244.11 1137.4,245.04 1139.7,245.98 1142,247.14 1144.3,248.7 1146.59,250.8 1148.87,253.3 1151.14,256.02 1153.42,258.75 1155.7,261.3 1157.98,263.73 1160.26,266.17 1162.54,268.53 1164.82,270.73 1167.1,272.7 1169.38,274.45 1171.66,276.05 1173.93,277.45 1176.21,278.61 1178.5,279.5 1180.87,280 1183.32,280.13 1185.73,280.08 1188,280.01 1190,280.1 1192.61,280.48 1194.7,280.98 1196.8,281.8 1199.1,282.99 1201.4,284.51 1203.7,286.4 1206.06,288.9 1208.4,291.79 1210.5,294.4 1212.79,297.32 1215.1,300 1217.11,301.75 1219.39,303.54 1222,306 1223.78,307.95 1225.71,310.18 1227.76,312.62 1229.87,315.25 1232,318 1234.22,320.96 1236.54,324.17 1238.89,327.5 1241.17,330.82 1243.3,334 1245.72,337.77 1247.97,341.45 1250.11,345.08 1252.2,348.7 1254.83,353.62 1257.34,358.5 1260,363.1 1262.17,366.33 1264.44,369.41 1266.78,372.29 1269.2,374.9 1271.22,376.8 1273.34,378.56 1275.48,380.15 1277.58,381.54 1279.6,382.7 1281.93,383.93 1284.14,384.89 1286.36,385.41 1288.7,385.3 1290.73,384.6 1292.87,383.42 1295.03,381.94 1297.17,380.34 1299.2,378.8 1301.48,376.86 1303.59,374.77 1305.78,372.72 1308.3,370.9 1310.25,369.85 1312.37,368.87 1314.61,367.97 1316.89,367.14 1319.18,366.38 1321.4,365.7 1323.57,365.11 1325.74,364.62 1327.9,364.2 1330.06,363.83 1332.23,363.47 1334.4,363.1 1336.58,362.72 1338.76,362.36 1340.95,362.02 1343.14,361.69 1345.32,361.39 1347.5,361.1 1349.67,360.85 1351.84,360.64 1354,360.44 1356.16,360.25 1358.33,360.04 1360.5,359.8 1362.68,359.53 1364.86,359.24 1367.04,358.93 1369.23,358.61 1371.42,358.26 1373.6,357.9 1375.78,357.55 1377.97,357.23 1380.16,356.89 1382.34,356.49 1384.52,355.97 1386.7,355.3 1388.87,354.54 1391.04,353.73 1393.2,352.81 1395.36,351.71 1397.53,350.37 1399.7,348.7 1401.88,346.71 1404.06,344.46 1406.25,341.96 1408.44,339.22 1410.62,336.26 1412.8,333.1 1415.05,329.51 1417.38,325.44 1419.71,321.15 1421.95,316.9 1424.01,312.97 1425.8,309.6 1428.12,304.86 1429.72,301.36 1432.3,297.2 1434.02,294.84 1436.03,292.22 1438.25,289.45 1440.59,286.63 1442.98,283.86 1445.34,281.25 1447.6,278.9 1449.64,276.84 1451.5,274.97 1453.32,273.24 1455.22,271.61 1457.34,270.01 1459.83,268.39 1462.8,266.7 1464.4,265.89 1466.15,265.07 1468.02,264.26 1470,263.45 1472.06,262.63 1474.2,261.82 1476.38,261.01 1478.59,260.19 1480.81,259.38 1483.03,258.57 1485.21,257.75 1487.35,256.94 1489.43,256.13 1491.41,255.31 1493.3,254.5 1495.57,253.47 1497.81,252.43 1500.02,251.38 1502.19,250.32 1504.32,249.26 1506.4,248.21 1508.43,247.16 1510.4,246.14 1512.3,245.13 1514.14,244.15 1515.91,243.21 1517.6,242.3 1520.29,240.86 1522.72,239.56 1524.95,238.35 1527.04,237.15 1529.02,235.94 1530.96,234.64 1532.9,233.2 1535.06,231.42 1537.05,229.59 1538.95,227.68 1540.85,225.63 1542.84,223.42 1545,221 1546.98,218.72 1549.01,216.27 1551.1,213.69 1553.27,211 1555.51,208.25 1557.86,205.47 1560.3,202.7 1562.34,200.48 1564.55,198.14 1566.87,195.73 1569.24,193.29 1571.61,190.88 1573.92,188.54 1576.13,186.31 1578.17,184.25 1580,182.4 1582.66,179.65 1584.73,177.45 1586.57,175.55 1588.52,173.68 1590.9,171.6 1592.72,170.11 1594.72,168.53 1596.85,166.9 1599.05,165.27 1601.25,163.68 1603.38,162.17 1605.38,160.8 1607.2,159.6 1609.78,158.1 1612.11,156.98 1614.24,156.06 1616.22,155.16 1618.1,154.1 1620.84,152.05 1623.21,149.89 1625.7,147.6 1627.6,145.84 1629.44,144.04 1631.59,142.12 1634.4,140 1636.19,138.81 1638.24,137.53 1640.48,136.18 1642.83,134.8 1645.21,133.42 1647.53,132.07 1649.72,130.79 1651.7,129.6 1654.05,128.12 1656.2,126.69 1658.22,125.34 1660.14,124.1 1662.02,122.97 1663.9,122 1666.29,121.04 1668.76,120.29 1671.1,119.7 1673.08,119.25 1674.5,118.9" fill="none" stroke="#bca23e" stroke-width="1.1" stroke-linejoin="round" />
<polyline points="4,611.3 71.7,611.3 74.9,615.7 148.5,615.7 151.7,620.7 225.3,620.7 228.5,625.8 302.1,625.8 305.3,631.5 378.9,631.5 382.1,638.3 455.7,638.3 458.9,645 532.5,645 535.7,649.4 609.3,649.4 612.5,651.8 686.1,651.8 689.3,654.5 762.9,654.5 766.1,657.8 839.7,657.8 842.9,660.5 916.5,660.5 919.7,663.9 993.3,663.9 996.5,667.3 1070.1,667.3 1073.3,671.3 1146.9,671.3 1150.1,676.4 1223.7,676.4 1226.9,680.4 1300.5,680.4 1303.7,684.8 1374.1,684.8 1377.3,687.5 1450.9,687.5 1454.1,690.6 1527.7,690.6 1530.9,692.6 1604.5,692.6 1607.7,694.3 1674.9,694.3" fill="none" stroke="#f0f020" stroke-width="2" stroke-linejoin="round" />
<polyline points="4,708.8 71.7,708.8 74.9,693.7 148.5,693.7 151.7,684.8 225.3,684.8 228.5,680.1 302.1,680.1 305.3,686.5 378.9,686.5 382.1,692.3 455.7,692.3 458.9,698.3 532.5,698.3 535.7,682.1 609.3,682.1 612.5,657.5 686.1,657.5 689.3,626.8 762.9,626.8 766.1,594.4 839.7,594.4 842.9,570.1 916.5,570.1 919.7,543.6 993.3,543.6 996.5,519.3 1070.1,519.3 1073.3,493 1146.9,493 1150.1,473.8 1223.7,473.8 1226.9,457.9 1300.5,457.9 1303.7,443.4 1374.1,443.4 1377.3,418.8 1450.9,418.8 1454.1,394.5 1527.7,394.5 1530.9,372.5 1604.5,372.5 1607.7,356.7 1674.9,356.7" fill="none" stroke="#d884d8" stroke-width="2" stroke-linejoin="round" />
<polyline points="4,855 148.5,855 151.7,846.4 532.5,846.4 535.7,792 916.5,792 919.7,753 1300.5,753 1303.7,705.1 1674.9,705.1" fill="none" stroke="#84e02c" stroke-width="2" stroke-linejoin="round" />
<polyline points="4,403.6 302.1,403.6 305.3,370.2 1674.9,370.2" fill="none" stroke="#b8284e" stroke-width="2" stroke-linejoin="round" />
<g clip-path="url(#cc)">
<line x1="3.5" y1="463.9" x2="1867.5" y2="352" stroke="#ead040" stroke-width="2" />
<line x1="3.5" y1="746.3" x2="1867.5" y2="635" stroke="#e6d42c" stroke-width="2" />
<line x1="3.5" y1="792.8" x2="1867.5" y2="630.9" stroke="#f0902a" stroke-width="2" />
<line x1="229.4" y1="862.2" x2="1867.5" y2="716.9" stroke="#dc80dc" stroke-width="1.6" />
<line x1="0" y1="83.35" x2="1900" y2="-889.45" stroke="#36dae0" stroke-width="2" />
<line x1="0" y1="129.04" x2="1900" y2="-841.48" stroke="#36dae0" stroke-width="2" />
<line x1="0" y1="296.83" x2="1900" y2="-667.23" stroke="#36dae0" stroke-width="2" />
<line x1="0" y1="424.23" x2="1900" y2="-540.21" stroke="#36dae0" stroke-width="2" />
<line x1="0" y1="685.73" x2="1900" y2="-280.04" stroke="#36dae0" stroke-width="2" />
<line x1="0" y1="1025.97" x2="1900" y2="61.72" stroke="#36dae0" stroke-width="2" />
<line x1="1006.7" y1="124.1" x2="1780.42" y2="863" stroke="#f0902a" stroke-width="2" />
<line x1="996.5" y1="220.4" x2="1669.03" y2="863" stroke="#f0902a" stroke-width="2" />
<line x1="1260.5" y1="509.3" x2="1750.66" y2="1" stroke="#f0902a" stroke-width="2" />
<line x1="1226.9" y1="383.4" x2="1595.66" y2="1" stroke="#f0902a" stroke-width="2" />
</g>
<line x1="4" y1="97.6" x2="1867" y2="97.6" stroke="#b4b4b4" stroke-width="1" />
<line x1="1674.7" y1="155" x2="1732" y2="155" stroke="#8a7a70" stroke-width="1" />
<text x="1706.5" y="164.5" fill="#7a7070" font-size="10" text-anchor="middle" >R1</text>
<line x1="1674.7" y1="332" x2="1732" y2="332" stroke="#5a9a2a" stroke-width="1" />
<text x="1706.5" y="341.5" fill="#6ab22a" font-size="10" text-anchor="middle" >PP</text>
<line x1="1674.7" y1="541.6" x2="1732" y2="541.6" stroke="#8a8080" stroke-width="1" />
<text x="1706.5" y="551.5" fill="#8a8080" font-size="10" text-anchor="middle" >S1</text>
<line x1="1674.7" y1="718.6" x2="1732" y2="718.6" stroke="#8a7a70" stroke-width="1" />
<text x="1706.5" y="728.5" fill="#8a7a70" font-size="10" text-anchor="middle" >S2</text>
<text x="1722.5" y="133.5" fill="#7ec82a" font-size="10" text-anchor="middle" >W1 High</text>
<text x="1722.5" y="519" fill="#7ec82a" font-size="10" text-anchor="middle" >W1 Low</text>
<text x="1739" y="449.5" fill="#c81e46" font-size="10" text-anchor="middle" >MN1 High</text>
<line x1="1856.6" y1="402" x2="1856.6" y2="462" stroke="#f0f000" stroke-width="2.4" />
<text x="1856.6" y="473.5" fill="#c8c832" font-size="10" text-anchor="middle" >50</text>
<line x1="1298.6" y1="822.5" x2="1683.2" y2="822.5" stroke="#f8f000" stroke-width="3.6" />
<circle cx="1298.6" cy="822.5" r="7.2" fill="#f8f000"/>
<circle cx="1683.2" cy="822.5" r="7.2" fill="#f8f000"/>
<rect x="1812.4" y="839.4" width="46.2" height="14.1" fill="#6c6c6c"/>
<text x="1835.5" y="850.6" fill="#f0f0f0" font-size="12" text-anchor="middle" >W-pp</text>
<polygon points="1675.5,2 1684,2 1679.8,6.5" fill="#d0d0d0"/>
<text x="81" y="436.6" fill="#d8d8d8" font-size="10" text-anchor="middle" >149.956</text>
<text x="238" y="569.6" fill="#d8d8d8" font-size="10" text-anchor="middle" >148.642</text>
<text x="186.6" y="626" fill="#d8d8d8" font-size="10" text-anchor="middle" >148.472</text>
<text x="314.4" y="642.9" fill="#d8d8d8" font-size="10" text-anchor="middle" >148.225</text>
<text x="291.8" y="724.6" fill="#d8d8d8" font-size="10" text-anchor="middle" >147.651</text>
<text x="410.9" y="744.8" fill="#d8d8d8" font-size="10" text-anchor="middle" >147.372</text>
<text x="484.1" y="691.8" fill="#d8d8d8" font-size="10" text-anchor="middle" >147.817</text>
<text x="512.8" y="795.7" fill="#d8d8d8" font-size="10" text-anchor="middle" >147.051</text>
<text x="352.6" y="851" fill="#d8d8d8" font-size="10" text-anchor="middle" >146.586</text>
<text x="420" y="849.7" fill="#d8d8d8" font-size="10" text-anchor="middle" >146.600</text>
<text x="727.7" y="74.1" fill="#d8d8d8" font-size="10" text-anchor="middle" >152.999</text>
<text x="797.9" y="47.5" fill="#d8d8d8" font-size="10" text-anchor="middle" >153.219</text>
<text x="849.2" y="41" fill="#d8d8d8" font-size="10" text-anchor="middle" >153.276</text>
<text x="779" y="157.4" fill="#d8d8d8" font-size="10" text-anchor="middle" >152.409</text>
<text x="817.1" y="192.5" fill="#d8d8d8" font-size="10" text-anchor="middle" >152.112</text>
<text x="900.5" y="265.1" fill="#d8d8d8" font-size="10" text-anchor="middle" >151.505</text>
<text x="1006" y="120.7" fill="#d8d8d8" font-size="10" text-anchor="middle" >152.612</text>
<text x="1124.1" y="224.6" fill="#d8d8d8" font-size="10" text-anchor="middle" >151.739</text>
<text x="1188.2" y="264.1" fill="#d8d8d8" font-size="10" text-anchor="middle" >151.399</text>
<text x="1102.2" y="336.7" fill="#d8d8d8" font-size="10" text-anchor="middle" >150.899</text>
<text x="1162.3" y="382.9" fill="#d8d8d8" font-size="10" text-anchor="middle" >150.512</text>
<text x="1259.1" y="518.5" fill="#d8d8d8" font-size="10" text-anchor="middle" >149.371</text>
<text x="1425.1" y="172.3" fill="#d8d8d8" font-size="10" text-anchor="middle" >152.174</text>
<text x="1636.6" y="66" fill="#d8d8d8" font-size="10" text-anchor="middle" >153.063</text>
<text x="1592.1" y="98.1" fill="#d8d8d8" font-size="10" text-anchor="middle" >152.797</text>
<text x="1617.4" y="149.7" fill="#d8d8d8" font-size="10" text-anchor="middle" >152.471</text>
<text x="1656.2" y="183.1" fill="#d8d8d8" font-size="10" text-anchor="middle" >152.194</text>
<text x="1515.2" y="265.1" fill="#d8d8d8" font-size="10" text-anchor="middle" >151.502</text>
<text x="1313.7" y="288.7" fill="#d8d8d8" font-size="10" text-anchor="middle" >151.202</text>
<text x="1339" y="412.2" fill="#d8d8d8" font-size="10" text-anchor="middle" >150.268</text>
<text x="7.6" y="13.4" fill="#d4d4d4" font-size="10" text-anchor="start" textLength="67.5" lengthAdjust="spacingAndGlyphs">USDJPY_MT,H1</text>
<text x="83.3" y="13.4" fill="#d4d4d4" font-size="10" text-anchor="start" textLength="156" lengthAdjust="spacingAndGlyphs">152.808 152.826 152.798 152.823</text>
<text x="11.2" y="836" fill="#ececec" font-size="17" text-anchor="start" textLength="90.5" lengthAdjust="spacingAndGlyphs">USDJPY, H1</text>
<text x="12.4" y="862.6" fill="#ffffff" font-size="25" text-anchor="start" textLength="94" lengthAdjust="spacingAndGlyphs" clip-path="url(#cc)">152.823</text>
<rect x="3.5" y="1.5" width="1864" height="861" fill="none" stroke="#bcbcbc" stroke-width="1"/>
<rect x="3.5" y="864.5" width="1864" height="48" fill="none" stroke="#bcbcbc" stroke-width="1"/>
<rect x="1868" y="0" width="48" height="914" fill="#000"/>
<line x1="1868" y1="1.5" x2="1868" y2="913" stroke="#a8a8a8" stroke-width="1.2" />
<line x1="1868" y1="24.2" x2="1871" y2="24.2" stroke="#c0c0c0" stroke-width="1" />
<text x="1873.3" y="28" fill="#d8d8d8" font-size="10.5" text-anchor="start" >153.440</text>
<line x1="1868" y1="63.39" x2="1871" y2="63.39" stroke="#c0c0c0" stroke-width="1" />
<text x="1873.3" y="67.19" fill="#d8d8d8" font-size="10.5" text-anchor="start" >153.110</text>
<line x1="1868" y1="102.58" x2="1871" y2="102.58" stroke="#c0c0c0" stroke-width="1" />
<text x="1873.3" y="106.38" fill="#d8d8d8" font-size="10.5" text-anchor="start" >152.785</text>
<line x1="1868" y1="141.77" x2="1871" y2="141.77" stroke="#c0c0c0" stroke-width="1" />
<text x="1873.3" y="145.57" fill="#d8d8d8" font-size="10.5" text-anchor="start" >152.455</text>
<line x1="1868" y1="180.96" x2="1871" y2="180.96" stroke="#c0c0c0" stroke-width="1" />
<text x="1873.3" y="184.76" fill="#d8d8d8" font-size="10.5" text-anchor="start" >152.125</text>
<line x1="1868" y1="220.15" x2="1871" y2="220.15" stroke="#c0c0c0" stroke-width="1" />
<text x="1873.3" y="223.95" fill="#d8d8d8" font-size="10.5" text-anchor="start" >151.795</text>
<line x1="1868" y1="259.34" x2="1871" y2="259.34" stroke="#c0c0c0" stroke-width="1" />
<text x="1873.3" y="263.14" fill="#d8d8d8" font-size="10.5" text-anchor="start" >151.470</text>
<line x1="1868" y1="298.53" x2="1871" y2="298.53" stroke="#c0c0c0" stroke-width="1" />
<text x="1873.3" y="302.33" fill="#d8d8d8" font-size="10.5" text-anchor="start" >151.140</text>
<line x1="1868" y1="337.72" x2="1871" y2="337.72" stroke="#c0c0c0" stroke-width="1" />
<text x="1873.3" y="341.52" fill="#d8d8d8" font-size="10.5" text-anchor="start" >150.810</text>
<line x1="1868" y1="376.91" x2="1871" y2="376.91" stroke="#c0c0c0" stroke-width="1" />
<text x="1873.3" y="380.71" fill="#d8d8d8" font-size="10.5" text-anchor="start" >150.480</text>
<line x1="1868" y1="416.1" x2="1871" y2="416.1" stroke="#c0c0c0" stroke-width="1" />
<text x="1873.3" y="419.9" fill="#d8d8d8" font-size="10.5" text-anchor="start" >150.150</text>
<line x1="1868" y1="455.29" x2="1871" y2="455.29" stroke="#c0c0c0" stroke-width="1" />
<text x="1873.3" y="459.09" fill="#d8d8d8" font-size="10.5" text-anchor="start" >149.825</text>
<line x1="1868" y1="494.48" x2="1871" y2="494.48" stroke="#c0c0c0" stroke-width="1" />
<text x="1873.3" y="498.28" fill="#d8d8d8" font-size="10.5" text-anchor="start" >149.495</text>
<line x1="1868" y1="533.67" x2="1871" y2="533.67" stroke="#c0c0c0" stroke-width="1" />
<text x="1873.3" y="537.47" fill="#d8d8d8" font-size="10.5" text-anchor="start" >149.165</text>
<line x1="1868" y1="572.86" x2="1871" y2="572.86" stroke="#c0c0c0" stroke-width="1" />
<text x="1873.3" y="576.66" fill="#d8d8d8" font-size="10.5" text-anchor="start" >148.835</text>
<line x1="1868" y1="612.05" x2="1871" y2="612.05" stroke="#c0c0c0" stroke-width="1" />
<text x="1873.3" y="615.85" fill="#d8d8d8" font-size="10.5" text-anchor="start" >148.505</text>
<line x1="1868" y1="651.24" x2="1871" y2="651.24" stroke="#c0c0c0" stroke-width="1" />
<text x="1873.3" y="655.04" fill="#d8d8d8" font-size="10.5" text-anchor="start" >148.180</text>
<line x1="1868" y1="690.43" x2="1871" y2="690.43" stroke="#c0c0c0" stroke-width="1" />
<text x="1873.3" y="694.23" fill="#d8d8d8" font-size="10.5" text-anchor="start" >147.850</text>
<line x1="1868" y1="729.62" x2="1871" y2="729.62" stroke="#c0c0c0" stroke-width="1" />
<text x="1873.3" y="733.42" fill="#d8d8d8" font-size="10.5" text-anchor="start" >147.520</text>
<line x1="1868" y1="768.81" x2="1871" y2="768.81" stroke="#c0c0c0" stroke-width="1" />
<text x="1873.3" y="772.61" fill="#d8d8d8" font-size="10.5" text-anchor="start" >147.190</text>
<line x1="1868" y1="808" x2="1871" y2="808" stroke="#c0c0c0" stroke-width="1" />
<text x="1873.3" y="811.8" fill="#d8d8d8" font-size="10.5" text-anchor="start" >146.860</text>
<line x1="1868" y1="847.19" x2="1871" y2="847.19" stroke="#c0c0c0" stroke-width="1" />
<text x="1873.3" y="850.99" fill="#d8d8d8" font-size="10.5" text-anchor="start" >146.535</text>
<rect x="1869" y="97" width="45" height="11" fill="#000"/>
<text x="1873.3" y="106.3" fill="#d8d8d8" font-size="10.5" text-anchor="start" >152.785</text>
<rect x="1869" y="91.9" width="45" height="11" fill="#ffffff"/>
<text x="1873.3" y="101.2" fill="#000" font-size="10.5" text-anchor="start" >152.823</text>
<rect x="1869" y="118.3" width="45" height="11" fill="#7cfc00"/>
<text x="1873.3" y="127.6" fill="#0a3a00" font-size="10.5" text-anchor="start" >152.612</text>
<rect x="1869" y="190.93" width="45" height="11" fill="#c0c0c0"/>
<text x="1873.3" y="200.23" fill="#202020" font-size="10.5" text-anchor="start" >152.000</text>
<rect x="1869" y="435.2" width="45" height="11" fill="#dc143c"/>
<text x="1873.3" y="444.5" fill="#501020" font-size="10.5" text-anchor="start" >149.950</text>
<rect x="1869" y="429.31" width="45" height="11" fill="#c0c0c0"/>
<text x="1873.3" y="438.61" fill="#202020" font-size="10.5" text-anchor="start" >150.000</text>
<rect x="1869" y="504.28" width="45" height="11" fill="#7cfc00"/>
<text x="1873.3" y="513.58" fill="#0a3a00" font-size="10.5" text-anchor="start" >149.371</text>
<rect x="1869" y="667.69" width="45" height="11" fill="#c0c0c0"/>
<text x="1873.3" y="676.99" fill="#202020" font-size="10.5" text-anchor="start" >148.000</text>
<text x="1873.5" y="875" fill="#d8d8d8" font-size="10" text-anchor="start" >1</text>
<text x="1873.5" y="909.5" fill="#d8d8d8" font-size="10" text-anchor="start" >0</text>
<g clip-path="url(#cs)"><text x="-1.9" y="875" fill="#b4bac8" font-size="10" text-anchor="middle" font-family="Liberation Mono, IPAGothic, monospace" textLength="25" lengthAdjust="spacingAndGlyphs">06:00</text><text x="-1.9" y="892" fill="#d0d0d0" font-size="10" text-anchor="middle" font-family="Liberation Mono, IPAGothic, monospace" textLength="40" lengthAdjust="spacingAndGlyphs">9/25(木)</text><text x="74.9" y="875" fill="#b4bac8" font-size="10" text-anchor="middle" font-family="Liberation Mono, IPAGothic, monospace" textLength="25" lengthAdjust="spacingAndGlyphs">06:00</text><text x="74.9" y="892" fill="#d0d0d0" font-size="10" text-anchor="middle" font-family="Liberation Mono, IPAGothic, monospace" textLength="40" lengthAdjust="spacingAndGlyphs">9/26(金)</text><text x="151.7" y="875" fill="#b4bac8" font-size="10" text-anchor="middle" font-family="Liberation Mono, IPAGothic, monospace" textLength="25" lengthAdjust="spacingAndGlyphs">06:00</text><text x="151.7" y="892" fill="#d0d0d0" font-size="10" text-anchor="middle" font-family="Liberation Mono, IPAGothic, monospace" textLength="40" lengthAdjust="spacingAndGlyphs">9/29(月)</text><text x="228.5" y="875" fill="#b4bac8" font-size="10" text-anchor="middle" font-family="Liberation Mono, IPAGothic, monospace" textLength="25" lengthAdjust="spacingAndGlyphs">06:00</text><text x="228.5" y="892" fill="#d0d0d0" font-size="10" text-anchor="middle" font-family="Liberation Mono, IPAGothic, monospace" textLength="40" lengthAdjust="spacingAndGlyphs">9/30(火)</text><text x="305.3" y="875" fill="#b4bac8" font-size="10" text-anchor="middle" font-family="Liberation Mono, IPAGothic, monospace" textLength="25" lengthAdjust="spacingAndGlyphs">06:00</text><text x="305.3" y="892" fill="#d0d0d0" font-size="10" text-anchor="middle" font-family="Liberation Mono, IPAGothic, monospace" textLength="40" lengthAdjust="spacingAndGlyphs">10/1(水)</text><text x="382.1" y="875" fill="#b4bac8" font-size="10" text-anchor="middle" font-family="Liberation Mono, IPAGothic, monospace" textLength="25" lengthAdjust="spacingAndGlyphs">06:00</text><text x="382.1" y="892" fill="#d0d0d0" font-size="10" text-anchor="middle" font-family="Liberation Mono, IPAGothic, monospace" textLength="40" lengthAdjust="spacingAndGlyphs">10/2(木)</text><text x="458.9" y="875" fill="#b4bac8" font-size="10" text-anchor="middle" font-family="Liberation Mono, IPAGothic, monospace" textLength="25" lengthAdjust="spacingAndGlyphs">06:00</text><text x="458.9" y="892" fill="#d0d0d0" font-size="10" text-anchor="middle" font-family="Liberation Mono, IPAGothic, monospace" textLength="40" lengthAdjust="spacingAndGlyphs">10/3(金)</text><text x="535.7" y="875" fill="#b4bac8" font-size="10" text-anchor="middle" font-family="Liberation Mono, IPAGothic, monospace" textLength="25" lengthAdjust="spacingAndGlyphs">06:00</text><text x="535.7" y="892" fill="#d0d0d0" font-size="10" text-anchor="middle" font-family="Liberation Mono, IPAGothic, monospace" textLength="40" lengthAdjust="spacingAndGlyphs">10/6(月)</text><text x="612.5" y="875" fill="#b4bac8" font-size="10" text-anchor="middle" font-family="Liberation Mono, IPAGothic, monospace" textLength="25" lengthAdjust="spacingAndGlyphs">06:00</text><text x="612.5" y="892" fill="#d0d0d0" font-size="10" text-anchor="middle" font-family="Liberation Mono, IPAGothic, monospace" textLength="40" lengthAdjust="spacingAndGlyphs">10/7(火)</text><text x="689.3" y="875" fill="#b4bac8" font-size="10" text-anchor="middle" font-family="Liberation Mono, IPAGothic, monospace" textLength="25" lengthAdjust="spacingAndGlyphs">06:00</text><text x="689.3" y="892" fill="#d0d0d0" font-size="10" text-anchor="middle" font-family="Liberation Mono, IPAGothic, monospace" textLength="40" lengthAdjust="spacingAndGlyphs">10/8(水)</text><text x="766.1" y="875" fill="#b4bac8" font-size="10" text-anchor="middle" font-family="Liberation Mono, IPAGothic, monospace" textLength="25" lengthAdjust="spacingAndGlyphs">06:00</text><text x="766.1" y="892" fill="#d0d0d0" font-size="10" text-anchor="middle" font-family="Liberation Mono, IPAGothic, monospace" textLength="40" lengthAdjust="spacingAndGlyphs">10/9(木)</text><text x="842.9" y="875" fill="#b4bac8" font-size="10" text-anchor="middle" font-family="Liberation Mono, IPAGothic, monospace" textLength="25" lengthAdjust="spacingAndGlyphs">06:00</text><text x="842.9" y="892" fill="#d0d0d0" font-size="10" text-anchor="middle" font-family="Liberation Mono, IPAGothic, monospace" textLength="45" lengthAdjust="spacingAndGlyphs">10/10(金)</text><text x="919.7" y="875" fill="#b4bac8" font-size="10" text-anchor="middle" font-family="Liberation Mono, IPAGothic, monospace" textLength="25" lengthAdjust="spacingAndGlyphs">06:00</text><text x="919.7" y="892" fill="#d0d0d0" font-size="10" text-anchor="middle" font-family="Liberation Mono, IPAGothic, monospace" textLength="45" lengthAdjust="spacingAndGlyphs">10/13(月)</text><text x="996.5" y="875" fill="#b4bac8" font-size="10" text-anchor="middle" font-family="Liberation Mono, IPAGothic, monospace" textLength="25" lengthAdjust="spacingAndGlyphs">06:00</text><text x="996.5" y="892" fill="#d0d0d0" font-size="10" text-anchor="middle" font-family="Liberation Mono, IPAGothic, monospace" textLength="45" lengthAdjust="spacingAndGlyphs">10/14(火)</text><text x="1073.3" y="875" fill="#b4bac8" font-size="10" text-anchor="middle" font-family="Liberation Mono, IPAGothic, monospace" textLength="25" lengthAdjust="spacingAndGlyphs">06:00</text><text x="1073.3" y="892" fill="#d0d0d0" font-size="10" text-anchor="middle" font-family="Liberation Mono, IPAGothic, monospace" textLength="45" lengthAdjust="spacingAndGlyphs">10/15(水)</text><text x="1150.1" y="875" fill="#b4bac8" font-size="10" text-anchor="middle" font-family="Liberation Mono, IPAGothic, monospace" textLength="25" lengthAdjust="spacingAndGlyphs">06:00</text><text x="1150.1" y="892" fill="#d0d0d0" font-size="10" text-anchor="middle" font-family="Liberation Mono, IPAGothic, monospace" textLength="45" lengthAdjust="spacingAndGlyphs">10/16(木)</text><text x="1226.9" y="875" fill="#b4bac8" font-size="10" text-anchor="middle" font-family="Liberation Mono, IPAGothic, monospace" textLength="25" lengthAdjust="spacingAndGlyphs">06:00</text><text x="1226.9" y="892" fill="#d0d0d0" font-size="10" text-anchor="middle" font-family="Liberation Mono, IPAGothic, monospace" textLength="45" lengthAdjust="spacingAndGlyphs">10/17(金)</text><text x="1303.7" y="875" fill="#b4bac8" font-size="10" text-anchor="middle" font-family="Liberation Mono, IPAGothic, monospace" textLength="25" lengthAdjust="spacingAndGlyphs">07:00</text><text x="1303.7" y="892" fill="#d0d0d0" font-size="10" text-anchor="middle" font-family="Liberation Mono, IPAGothic, monospace" textLength="45" lengthAdjust="spacingAndGlyphs">10/20(月)</text><text x="1377.3" y="875" fill="#b4bac8" font-size="10" text-anchor="middle" font-family="Liberation Mono, IPAGothic, monospace" textLength="25" lengthAdjust="spacingAndGlyphs">06:00</text><text x="1377.3" y="892" fill="#d0d0d0" font-size="10" text-anchor="middle" font-family="Liberation Mono, IPAGothic, monospace" textLength="45" lengthAdjust="spacingAndGlyphs">10/21(火)</text><text x="1454.1" y="875" fill="#b4bac8" font-size="10" text-anchor="middle" font-family="Liberation Mono, IPAGothic, monospace" textLength="25" lengthAdjust="spacingAndGlyphs">06:00</text><text x="1454.1" y="892" fill="#d0d0d0" font-size="10" text-anchor="middle" font-family="Liberation Mono, IPAGothic, monospace" textLength="45" lengthAdjust="spacingAndGlyphs">10/22(水)</text><text x="1530.9" y="875" fill="#b4bac8" font-size="10" text-anchor="middle" font-family="Liberation Mono, IPAGothic, monospace" textLength="25" lengthAdjust="spacingAndGlyphs">06:00</text><text x="1530.9" y="892" fill="#d0d0d0" font-size="10" text-anchor="middle" font-family="Liberation Mono, IPAGothic, monospace" textLength="45" lengthAdjust="spacingAndGlyphs">10/23(木)</text><text x="1607.7" y="875" fill="#b4bac8" font-size="10" text-anchor="middle" font-family="Liberation Mono, IPAGothic, monospace" textLength="25" lengthAdjust="spacingAndGlyphs">06:00</text><text x="1607.7" y="892" fill="#d0d0d0" font-size="10" text-anchor="middle" font-family="Liberation Mono, IPAGothic, monospace" textLength="45" lengthAdjust="spacingAndGlyphs">10/24(金)</text></g></svg></body></html>
